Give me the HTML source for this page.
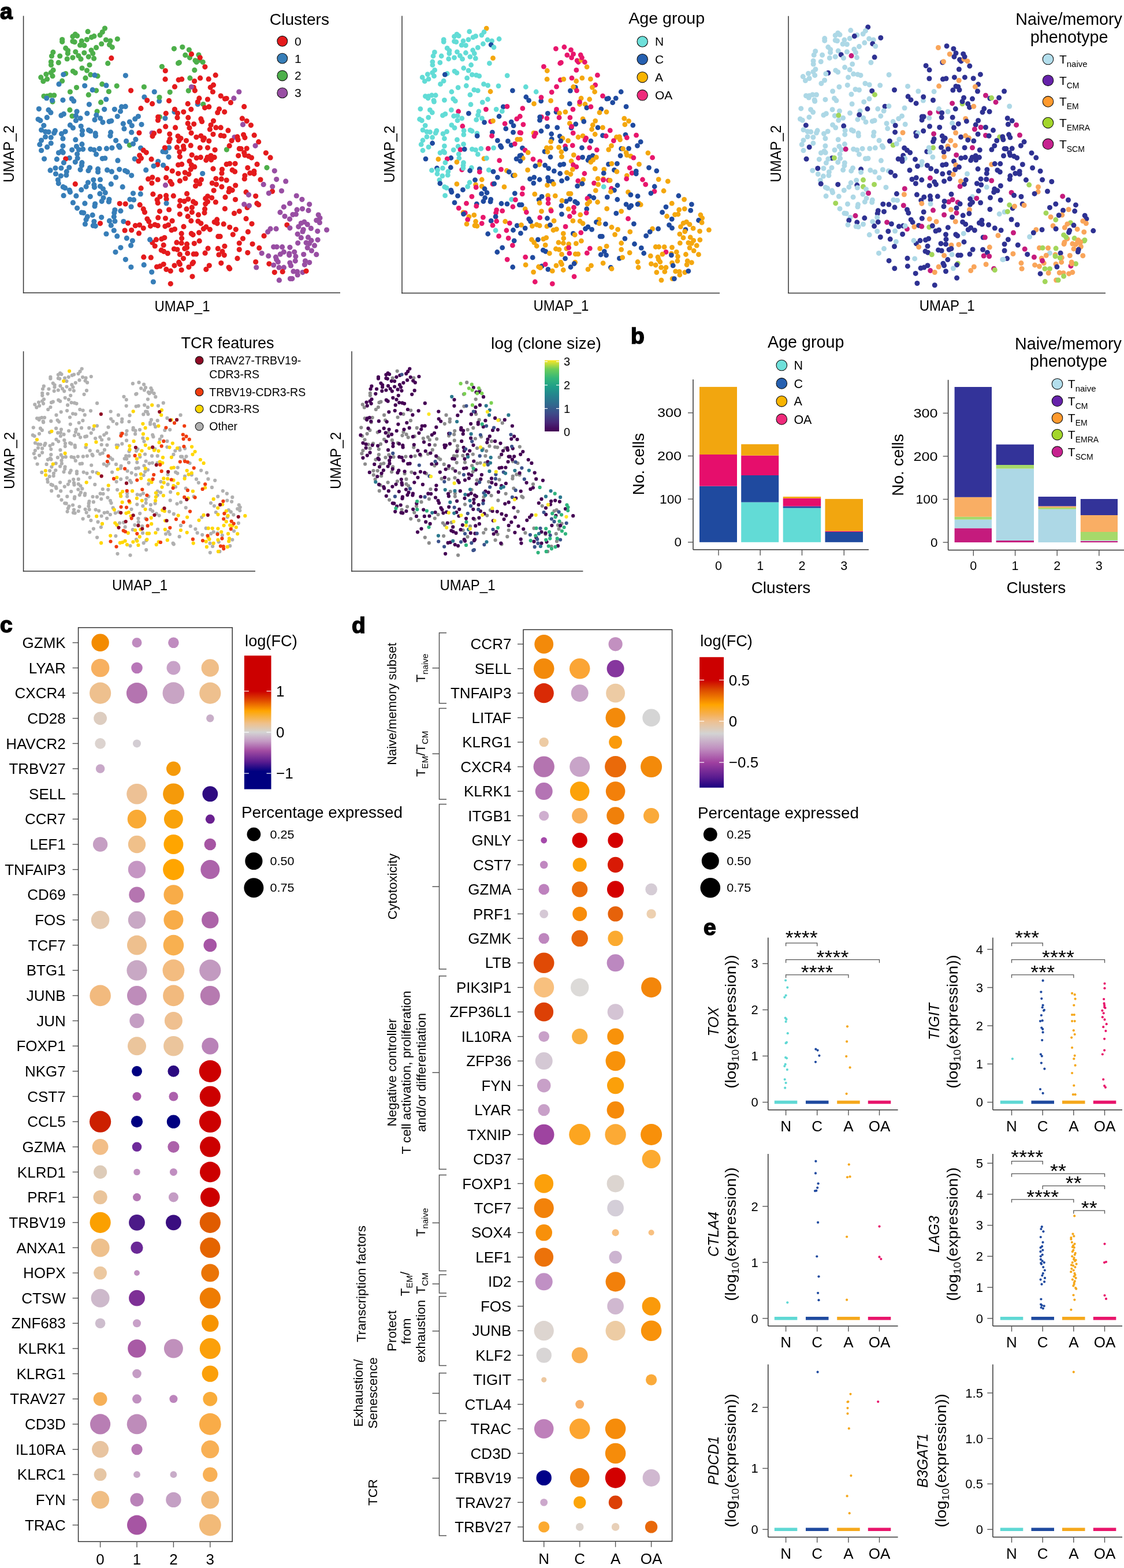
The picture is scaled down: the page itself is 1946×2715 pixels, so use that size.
<!DOCTYPE html><html><head><meta charset="utf-8"><title>Figure</title><style>html,body{margin:0;padding:0;background:#fff;}svg{display:block;}</style></head><body><svg width="1946" height="2715" viewBox="0 0 1946 2715" font-family='"Liberation Sans", Arial, sans-serif' fill="#000"><g fill="#4DAF4A"><circle cx="181.5" cy="49.1" r="4.6"/><circle cx="177.3" cy="55.5" r="4.6"/><circle cx="173.2" cy="60.8" r="4.6"/><circle cx="152.1" cy="54.7" r="4.6"/><circle cx="130.3" cy="59.4" r="4.6"/><circle cx="133.6" cy="62.1" r="4.6"/><circle cx="125.9" cy="63.2" r="4.6"/><circle cx="162.9" cy="62.7" r="4.6"/><circle cx="158.5" cy="64.6" r="4.6"/><circle cx="150.4" cy="68.6" r="4.6"/><circle cx="107.7" cy="68.6" r="4.6"/><circle cx="107.7" cy="72.3" r="4.6"/><circle cx="125.9" cy="71.6" r="4.6"/><circle cx="129.2" cy="72.7" r="4.6"/><circle cx="141.4" cy="71" r="4.6"/><circle cx="138.6" cy="78.2" r="4.6"/><circle cx="145.8" cy="78.7" r="4.6"/><circle cx="183.4" cy="69" r="4.6"/><circle cx="190.9" cy="70.8" r="4.6"/><circle cx="203.3" cy="67.5" r="4.6"/><circle cx="175.7" cy="76" r="4.6"/><circle cx="189.5" cy="77.6" r="4.6"/><circle cx="194.3" cy="81.8" r="4.6"/><circle cx="166.6" cy="82.4" r="4.6"/><circle cx="113.7" cy="83.4" r="4.6"/><circle cx="117.5" cy="87.6" r="4.6"/><circle cx="117.3" cy="92.6" r="4.6"/><circle cx="130.8" cy="89.8" r="4.6"/><circle cx="145.8" cy="91.5" r="4.6"/><circle cx="158" cy="87" r="4.6"/><circle cx="160.7" cy="92.6" r="4.6"/><circle cx="91.9" cy="90.4" r="4.6"/><circle cx="89.5" cy="97" r="4.6"/><circle cx="103.7" cy="97" r="4.6"/><circle cx="116.2" cy="102" r="4.6"/><circle cx="125.9" cy="99.8" r="4.6"/><circle cx="135.8" cy="96.5" r="4.6"/><circle cx="140" cy="102.2" r="4.6"/><circle cx="153.3" cy="98.3" r="4.6"/><circle cx="162.6" cy="101.2" r="4.6"/><circle cx="88.4" cy="107" r="4.6"/><circle cx="88.5" cy="112.5" r="4.6"/><circle cx="101.3" cy="108.4" r="4.6"/><circle cx="186.7" cy="109.7" r="4.6"/><circle cx="155" cy="112.5" r="4.6"/><circle cx="142.1" cy="118" r="4.6"/><circle cx="150.5" cy="122.1" r="4.6"/><circle cx="126.4" cy="123.3" r="4.6"/><circle cx="130.3" cy="126.1" r="4.6"/><circle cx="92.1" cy="121.4" r="4.6"/><circle cx="88.2" cy="125.8" r="4.6"/><circle cx="79.9" cy="128.6" r="4.6"/><circle cx="91" cy="131.7" r="4.6"/><circle cx="70.8" cy="133.9" r="4.6"/><circle cx="81.6" cy="136.9" r="4.6"/><circle cx="74.9" cy="140.7" r="4.6"/><circle cx="113.7" cy="127.5" r="4.6"/><circle cx="156.8" cy="129.4" r="4.6"/><circle cx="169" cy="131.7" r="4.6"/><circle cx="148" cy="135.2" r="4.6"/><circle cx="107.6" cy="140.2" r="4.6"/><circle cx="132.5" cy="151.6" r="4.6"/><circle cx="176.8" cy="145.7" r="4.6"/><circle cx="202.2" cy="148.8" r="4.6"/><circle cx="166.6" cy="156.8" r="4.6"/><circle cx="188.4" cy="158.5" r="4.6"/><circle cx="121.4" cy="159" r="4.6"/></g><g fill="#E41A1C"><circle cx="192.8" cy="100.7" r="4.6"/><circle cx="226.6" cy="156.8" r="4.6"/></g><g fill="#377EB8"><circle cx="109.8" cy="129.1" r="4.6"/><circle cx="164" cy="130.2" r="4.6"/><circle cx="217.4" cy="130.8" r="4.6"/><circle cx="102" cy="145.7" r="4.6"/><circle cx="146.7" cy="148.5" r="4.6"/><circle cx="184" cy="147.9" r="4.6"/><circle cx="160.2" cy="155.7" r="4.6"/></g><g fill="#4DAF4A"><circle cx="76" cy="166.6" r="4.6"/><circle cx="81.6" cy="166.6" r="4.6"/><circle cx="87.1" cy="165" r="4.6"/><circle cx="93.7" cy="165" r="4.6"/><circle cx="153.3" cy="164.2" r="4.6"/><circle cx="91" cy="176.1" r="4.6"/><circle cx="174.6" cy="177.2" r="4.6"/><circle cx="120.9" cy="190.4" r="4.6"/><circle cx="125" cy="201" r="4.6"/><circle cx="168.1" cy="193" r="4.6"/><circle cx="224.4" cy="251.3" r="4.6"/></g><g fill="#377EB8"><circle cx="80.7" cy="170" r="4.6"/><circle cx="90.4" cy="173.8" r="4.6"/><circle cx="108.9" cy="173.3" r="4.6"/><circle cx="124.2" cy="171.1" r="4.6"/><circle cx="127.7" cy="174.9" r="4.6"/><circle cx="154.4" cy="180.8" r="4.6"/><circle cx="183.8" cy="172" r="4.6"/><circle cx="67.4" cy="188.6" r="4.6"/><circle cx="84" cy="190.4" r="4.6"/><circle cx="87.9" cy="194.9" r="4.6"/><circle cx="105.9" cy="199.9" r="4.6"/><circle cx="110.4" cy="197.4" r="4.6"/><circle cx="133" cy="193" r="4.6"/><circle cx="131.4" cy="200.4" r="4.6"/><circle cx="81.3" cy="203.4" r="4.6"/><circle cx="66.1" cy="206.5" r="4.6"/><circle cx="69.9" cy="208.7" r="4.6"/><circle cx="139.1" cy="204.8" r="4.6"/><circle cx="131.4" cy="208.7" r="4.6"/><circle cx="150.8" cy="196.3" r="4.6"/><circle cx="166.8" cy="199.3" r="4.6"/><circle cx="164" cy="207.4" r="4.6"/><circle cx="173.7" cy="204.8" r="4.6"/><circle cx="177.9" cy="211.8" r="4.6"/><circle cx="180.7" cy="189.3" r="4.6"/><circle cx="198.4" cy="189.3" r="4.6"/><circle cx="210.5" cy="184.9" r="4.6"/><circle cx="217.2" cy="184.4" r="4.6"/><circle cx="208.5" cy="192.7" r="4.6"/><circle cx="203.3" cy="201.5" r="4.6"/><circle cx="189" cy="210.4" r="4.6"/><circle cx="192.8" cy="209.3" r="4.6"/><circle cx="233.8" cy="205.9" r="4.6"/><circle cx="213.3" cy="214.2" r="4.6"/><circle cx="224.4" cy="211.1" r="4.6"/><circle cx="228.3" cy="217.6" r="4.6"/><circle cx="215" cy="222.9" r="4.6"/><circle cx="227.7" cy="229.2" r="4.6"/><circle cx="75.8" cy="217.3" r="4.6"/><circle cx="121.4" cy="216.7" r="4.6"/><circle cx="126.4" cy="221.4" r="4.6"/><circle cx="140.2" cy="218.5" r="4.6"/><circle cx="142.5" cy="226.2" r="4.6"/><circle cx="142.2" cy="233.1" r="4.6"/><circle cx="153.5" cy="225.3" r="4.6"/><circle cx="156.6" cy="227" r="4.6"/><circle cx="165.2" cy="230.9" r="4.6"/><circle cx="165.5" cy="235.3" r="4.6"/><circle cx="191.7" cy="229.2" r="4.6"/><circle cx="190.9" cy="235.3" r="4.6"/><circle cx="71.6" cy="225.1" r="4.6"/><circle cx="78.6" cy="228.1" r="4.6"/><circle cx="84.1" cy="228.6" r="4.6"/><circle cx="95.4" cy="226.4" r="4.6"/><circle cx="93.7" cy="230.3" r="4.6"/><circle cx="113.1" cy="227.8" r="4.6"/><circle cx="106.5" cy="231.7" r="4.6"/><circle cx="78.6" cy="236.9" r="4.6"/><circle cx="88.2" cy="238" r="4.6"/><circle cx="108.9" cy="239.9" r="4.6"/><circle cx="130.8" cy="241.9" r="4.6"/><circle cx="71.6" cy="243" r="4.6"/><circle cx="68.8" cy="250.2" r="4.6"/><circle cx="88.2" cy="248" r="4.6"/><circle cx="81.6" cy="254.7" r="4.6"/><circle cx="71.6" cy="260.5" r="4.6"/><circle cx="108.9" cy="252.8" r="4.6"/><circle cx="132.5" cy="253.5" r="4.6"/><circle cx="141.9" cy="249.7" r="4.6"/><circle cx="124.7" cy="259.6" r="4.6"/><circle cx="136.4" cy="259.1" r="4.6"/><circle cx="143.6" cy="258.3" r="4.6"/><circle cx="156.8" cy="258.3" r="4.6"/><circle cx="162.9" cy="259.6" r="4.6"/><circle cx="172.1" cy="257.4" r="4.6"/><circle cx="184.5" cy="257.2" r="4.6"/><circle cx="193.9" cy="256.1" r="4.6"/><circle cx="200.6" cy="243.3" r="4.6"/><circle cx="205.6" cy="252.4" r="4.6"/><circle cx="207.2" cy="255" r="4.6"/><circle cx="218.6" cy="244.4" r="4.6"/><circle cx="230.5" cy="249.1" r="4.6"/><circle cx="234.9" cy="241.4" r="4.6"/><circle cx="101.5" cy="264.6" r="4.6"/><circle cx="109.2" cy="264.1" r="4.6"/><circle cx="107" cy="261.6" r="4.6"/><circle cx="133.6" cy="266.8" r="4.6"/><circle cx="166.6" cy="267.2" r="4.6"/><circle cx="76.6" cy="275.1" r="4.6"/><circle cx="98.4" cy="275.7" r="4.6"/><circle cx="120.3" cy="273.5" r="4.6"/><circle cx="134.2" cy="274" r="4.6"/><circle cx="177.3" cy="274.6" r="4.6"/><circle cx="181.8" cy="274" r="4.6"/><circle cx="203.9" cy="277.9" r="4.6"/><circle cx="233.2" cy="275.1" r="4.6"/></g><g fill="#E41A1C"><circle cx="113.7" cy="275.1" r="4.6"/></g><g fill="#377EB8"><circle cx="110.4" cy="281.7" r="4.6"/><circle cx="130.3" cy="280.6" r="4.6"/><circle cx="141.9" cy="281.7" r="4.6"/><circle cx="141.4" cy="286.6" r="4.6"/><circle cx="139.1" cy="293.8" r="4.6"/><circle cx="87.1" cy="294.9" r="4.6"/><circle cx="96" cy="291.1" r="4.6"/><circle cx="96.5" cy="301" r="4.6"/><circle cx="105.9" cy="291.1" r="4.6"/><circle cx="119.8" cy="290" r="4.6"/><circle cx="115.3" cy="297.2" r="4.6"/><circle cx="114.8" cy="303.2" r="4.6"/><circle cx="105.4" cy="304.6" r="4.6"/><circle cx="100.4" cy="311.6" r="4.6"/><circle cx="101.3" cy="317.6" r="4.6"/><circle cx="109.2" cy="323.7" r="4.6"/><circle cx="112.6" cy="325.4" r="4.6"/><circle cx="120.3" cy="329.3" r="4.6"/><circle cx="121.4" cy="332.6" r="4.6"/><circle cx="155.7" cy="290.5" r="4.6"/><circle cx="153" cy="295.5" r="4.6"/><circle cx="169.6" cy="292.7" r="4.6"/><circle cx="169.6" cy="297.7" r="4.6"/><circle cx="185.6" cy="294.4" r="4.6"/><circle cx="193.4" cy="297.2" r="4.6"/><circle cx="206.7" cy="293.3" r="4.6"/><circle cx="216.6" cy="295.5" r="4.6"/><circle cx="220.5" cy="297.7" r="4.6"/><circle cx="227.7" cy="303.8" r="4.6"/><circle cx="200.6" cy="307.1" r="4.6"/><circle cx="161.8" cy="311.6" r="4.6"/><circle cx="173.5" cy="311" r="4.6"/><circle cx="152.4" cy="316" r="4.6"/><circle cx="149.1" cy="323.2" r="4.6"/><circle cx="162.9" cy="319.9" r="4.6"/><circle cx="163.5" cy="324.3" r="4.6"/><circle cx="173.5" cy="322.6" r="4.6"/><circle cx="178.4" cy="327" r="4.6"/><circle cx="182.3" cy="333.7" r="4.6"/><circle cx="172.9" cy="335.4" r="4.6"/><circle cx="140.8" cy="328.7" r="4.6"/><circle cx="131.9" cy="339.2" r="4.6"/><circle cx="156.3" cy="340.3" r="4.6"/><circle cx="110.1" cy="338.7" r="4.6"/><circle cx="192.3" cy="318.7" r="4.6"/><circle cx="212.2" cy="323.7" r="4.6"/><circle cx="230.5" cy="334.8" r="4.6"/><circle cx="224.9" cy="345.3" r="4.6"/><circle cx="231.6" cy="345.9" r="4.6"/><circle cx="179" cy="342.5" r="4.6"/><circle cx="176.2" cy="348.6" r="4.6"/><circle cx="189" cy="345.3" r="4.6"/><circle cx="188.4" cy="349.2" r="4.6"/><circle cx="126.4" cy="350.9" r="4.6"/><circle cx="146.9" cy="352.2" r="4.6"/><circle cx="164.6" cy="353.1" r="4.6"/><circle cx="164" cy="356.9" r="4.6"/><circle cx="133.6" cy="360.3" r="4.6"/><circle cx="227.1" cy="358" r="4.6"/><circle cx="198.9" cy="363.6" r="4.6"/><circle cx="208.9" cy="365.2" r="4.6"/><circle cx="197.8" cy="368.6" r="4.6"/><circle cx="141.4" cy="368" r="4.6"/><circle cx="144.7" cy="368.6" r="4.6"/><circle cx="160.2" cy="372.4" r="4.6"/><circle cx="151.3" cy="375.2" r="4.6"/><circle cx="149.1" cy="380.2" r="4.6"/><circle cx="147.4" cy="387.9" r="4.6"/><circle cx="175.7" cy="376.3" r="4.6"/><circle cx="197.3" cy="375.2" r="4.6"/><circle cx="198.9" cy="383" r="4.6"/><circle cx="189.5" cy="382.4" r="4.6"/><circle cx="192.3" cy="390.2" r="4.6"/><circle cx="162.9" cy="383.5" r="4.6"/><circle cx="161.3" cy="390.7" r="4.6"/><circle cx="165.2" cy="391.3" r="4.6"/><circle cx="213.9" cy="383.5" r="4.6"/><circle cx="197.3" cy="399" r="4.6"/></g><g fill="#E41A1C"><circle cx="130.3" cy="318.7" r="4.6"/><circle cx="207.2" cy="352.5" r="4.6"/><circle cx="217.2" cy="353.1" r="4.6"/><circle cx="173.5" cy="386.8" r="4.6"/><circle cx="221.6" cy="386.3" r="4.6"/><circle cx="234.3" cy="390.7" r="4.6"/><circle cx="216.1" cy="399" r="4.6"/><circle cx="227.7" cy="398.5" r="4.6"/></g><g fill="#377EB8"><circle cx="184" cy="405" r="4.6"/><circle cx="202.8" cy="408.9" r="4.6"/><circle cx="219.4" cy="412.4" r="4.6"/><circle cx="229.4" cy="416.8" r="4.6"/><circle cx="226.6" cy="424.9" r="4.6"/><circle cx="208.9" cy="428.8" r="4.6"/><circle cx="200" cy="436.5" r="4.6"/><circle cx="217.4" cy="449.3" r="4.6"/><circle cx="226.9" cy="462.5" r="4.6"/></g><g fill="#4DAF4A"><circle cx="301.4" cy="84.3" r="4.6"/><circle cx="315.8" cy="81.5" r="4.6"/><circle cx="327.4" cy="86.3" r="4.6"/><circle cx="320.8" cy="95.4" r="4.6"/><circle cx="328.5" cy="99.8" r="4.6"/><circle cx="344" cy="95.1" r="4.6"/><circle cx="338" cy="104.8" r="4.6"/><circle cx="340.2" cy="107.5" r="4.6"/><circle cx="345.2" cy="104.2" r="4.6"/><circle cx="351.2" cy="107.5" r="4.6"/><circle cx="308.6" cy="109.5" r="4.6"/><circle cx="310.3" cy="108.4" r="4.6"/><circle cx="280.4" cy="115.3" r="4.6"/><circle cx="336.8" cy="121.4" r="4.6"/><circle cx="328.9" cy="135.2" r="4.6"/><circle cx="249.4" cy="150.5" r="4.6"/><circle cx="326.3" cy="157.1" r="4.6"/><circle cx="294.2" cy="159.6" r="4.6"/></g><g fill="#E41A1C"><circle cx="331.5" cy="93.7" r="4.6"/><circle cx="346.3" cy="99.8" r="4.6"/><circle cx="354.9" cy="115.8" r="4.6"/><circle cx="286.3" cy="122.5" r="4.6"/><circle cx="286.1" cy="137.2" r="4.6"/><circle cx="309.2" cy="138.3" r="4.6"/><circle cx="314.7" cy="137.2" r="4.6"/><circle cx="336.6" cy="140.5" r="4.6"/><circle cx="346.6" cy="135.2" r="4.6"/><circle cx="361.2" cy="136.9" r="4.6"/><circle cx="373.2" cy="130.2" r="4.6"/><circle cx="302.5" cy="150.2" r="4.6"/><circle cx="335.2" cy="151.3" r="4.6"/><circle cx="369.5" cy="147.2" r="4.6"/><circle cx="364.3" cy="151.3" r="4.6"/><circle cx="337.4" cy="156.8" r="4.6"/><circle cx="368.4" cy="159" r="4.6"/></g><g fill="#984EA3"><circle cx="331.5" cy="150.5" r="4.6"/><circle cx="413.8" cy="159" r="4.6"/></g><g fill="#377EB8"><circle cx="267.3" cy="159" r="4.6"/><circle cx="249.9" cy="168" r="4.6"/><circle cx="275.7" cy="174.9" r="4.6"/><circle cx="239.4" cy="201.5" r="4.6"/><circle cx="285.9" cy="204.8" r="4.6"/><circle cx="245" cy="215.6" r="4.6"/><circle cx="302" cy="193.8" r="4.6"/><circle cx="342.4" cy="180.5" r="4.6"/><circle cx="243.6" cy="256.3" r="4.6"/><circle cx="292.6" cy="255.8" r="4.6"/><circle cx="282" cy="262.4" r="4.6"/><circle cx="287" cy="263" r="4.6"/><circle cx="292" cy="271.8" r="4.6"/><circle cx="273.7" cy="279.6" r="4.6"/></g><g fill="#4DAF4A"><circle cx="276" cy="168.6" r="4.6"/><circle cx="276.5" cy="202.6" r="4.6"/><circle cx="351.8" cy="180.5" r="4.6"/><circle cx="392.4" cy="259.1" r="4.6"/></g><g fill="#984EA3"><circle cx="404.9" cy="170.2" r="4.6"/><circle cx="263.2" cy="230.3" r="4.6"/><circle cx="406" cy="237.5" r="4.6"/></g><g fill="#E41A1C"><circle cx="254.7" cy="173.8" r="4.6"/><circle cx="263.6" cy="179.7" r="4.6"/><circle cx="243.9" cy="187.7" r="4.6"/><circle cx="292.6" cy="174.4" r="4.6"/><circle cx="344.9" cy="170.2" r="4.6"/><circle cx="342.4" cy="176.6" r="4.6"/><circle cx="325.2" cy="179.7" r="4.6"/><circle cx="359.5" cy="172" r="4.6"/><circle cx="382.2" cy="166.1" r="4.6"/><circle cx="389.4" cy="171.1" r="4.6"/><circle cx="392.2" cy="170.5" r="4.6"/><circle cx="399.4" cy="177.7" r="4.6"/><circle cx="354.6" cy="186.6" r="4.6"/><circle cx="361.8" cy="184.9" r="4.6"/><circle cx="330.8" cy="189.3" r="4.6"/><circle cx="302.5" cy="189.3" r="4.6"/><circle cx="307.5" cy="196" r="4.6"/><circle cx="307" cy="203.7" r="4.6"/><circle cx="317.8" cy="193.8" r="4.6"/><circle cx="287.3" cy="196.3" r="4.6"/><circle cx="273.7" cy="202.6" r="4.6"/><circle cx="273.5" cy="208.2" r="4.6"/><circle cx="325.8" cy="203.7" r="4.6"/><circle cx="379.5" cy="188.8" r="4.6"/><circle cx="376.7" cy="194.9" r="4.6"/><circle cx="388.7" cy="193.8" r="4.6"/><circle cx="347.9" cy="205.9" r="4.6"/><circle cx="349.6" cy="210.4" r="4.6"/><circle cx="369.5" cy="209.3" r="4.6"/><circle cx="365.1" cy="216.5" r="4.6"/><circle cx="363.4" cy="224" r="4.6"/><circle cx="373.9" cy="220.9" r="4.6"/><circle cx="382.2" cy="220.9" r="4.6"/><circle cx="395" cy="225.9" r="4.6"/><circle cx="325.2" cy="213.7" r="4.6"/><circle cx="335.7" cy="214.8" r="4.6"/><circle cx="328" cy="221.4" r="4.6"/><circle cx="331.1" cy="230.3" r="4.6"/><circle cx="303.6" cy="220.9" r="4.6"/><circle cx="286.7" cy="219.2" r="4.6"/><circle cx="240.9" cy="230.1" r="4.6"/><circle cx="266.6" cy="230.9" r="4.6"/><circle cx="264" cy="235.8" r="4.6"/><circle cx="276" cy="227" r="4.6"/><circle cx="293.7" cy="232" r="4.6"/><circle cx="294.2" cy="240.8" r="4.6"/><circle cx="292.6" cy="245.2" r="4.6"/><circle cx="308.1" cy="235.8" r="4.6"/><circle cx="313" cy="239.5" r="4.6"/><circle cx="309.7" cy="244.1" r="4.6"/><circle cx="322.5" cy="243.6" r="4.6"/><circle cx="339.9" cy="237.5" r="4.6"/><circle cx="347.9" cy="235.3" r="4.6"/><circle cx="353.5" cy="239.2" r="4.6"/><circle cx="351.8" cy="242.5" r="4.6"/><circle cx="361.8" cy="244.1" r="4.6"/><circle cx="369" cy="232.5" r="4.6"/><circle cx="382.2" cy="234.7" r="4.6"/><circle cx="387.8" cy="235.5" r="4.6"/><circle cx="401.1" cy="243.6" r="4.6"/><circle cx="411" cy="236.9" r="4.6"/><circle cx="412.1" cy="241.9" r="4.6"/><circle cx="397.2" cy="252.4" r="4.6"/><circle cx="414.3" cy="257.4" r="4.6"/><circle cx="412.7" cy="269.6" r="4.6"/><circle cx="330.2" cy="251.9" r="4.6"/><circle cx="346.3" cy="255.8" r="4.6"/><circle cx="359.5" cy="255.8" r="4.6"/><circle cx="372.1" cy="259.6" r="4.6"/><circle cx="306.4" cy="255.2" r="4.6"/><circle cx="317.5" cy="253" r="4.6"/><circle cx="318.3" cy="258" r="4.6"/><circle cx="310.8" cy="263" r="4.6"/><circle cx="311.4" cy="271.3" r="4.6"/><circle cx="332.2" cy="268.3" r="4.6"/><circle cx="340.2" cy="273.5" r="4.6"/><circle cx="347.4" cy="272.4" r="4.6"/><circle cx="359" cy="272.4" r="4.6"/><circle cx="365.1" cy="269.6" r="4.6"/><circle cx="371.2" cy="272.4" r="4.6"/><circle cx="356.8" cy="277.3" r="4.6"/><circle cx="365.6" cy="276.8" r="4.6"/><circle cx="328" cy="279" r="4.6"/><circle cx="285.4" cy="255.8" r="4.6"/><circle cx="248.3" cy="260.2" r="4.6"/><circle cx="253.3" cy="264.1" r="4.6"/><circle cx="241.6" cy="269" r="4.6"/><circle cx="244.4" cy="274" r="4.6"/><circle cx="262.1" cy="275.7" r="4.6"/><circle cx="240" cy="279" r="4.6"/><circle cx="272.6" cy="285" r="4.6"/><circle cx="308.6" cy="285.5" r="4.6"/><circle cx="314.7" cy="284.4" r="4.6"/><circle cx="331.3" cy="285.5" r="4.6"/><circle cx="336.8" cy="288.9" r="4.6"/><circle cx="330.2" cy="293.3" r="4.6"/><circle cx="288.7" cy="291.6" r="4.6"/><circle cx="298.3" cy="296.1" r="4.6"/><circle cx="308.6" cy="300.5" r="4.6"/><circle cx="320.2" cy="298.8" r="4.6"/><circle cx="326.9" cy="301.6" r="4.6"/><circle cx="369" cy="292.2" r="4.6"/><circle cx="384.5" cy="293.3" r="4.6"/><circle cx="383.9" cy="299.9" r="4.6"/><circle cx="392.2" cy="284.4" r="4.6"/><circle cx="397.7" cy="283.3" r="4.6"/><circle cx="407.1" cy="283.3" r="4.6"/><circle cx="402.2" cy="294.4" r="4.6"/><circle cx="406.6" cy="297.2" r="4.6"/><circle cx="256.6" cy="309.9" r="4.6"/><circle cx="263.8" cy="307.1" r="4.6"/><circle cx="262.9" cy="317.1" r="4.6"/><circle cx="273.2" cy="311" r="4.6"/><circle cx="287.6" cy="307.7" r="4.6"/><circle cx="294.8" cy="314.3" r="4.6"/><circle cx="297.5" cy="318.7" r="4.6"/><circle cx="311.4" cy="313.2" r="4.6"/><circle cx="320.8" cy="309" r="4.6"/><circle cx="339.6" cy="313.2" r="4.6"/><circle cx="348.5" cy="311" r="4.6"/><circle cx="345.7" cy="318.2" r="4.6"/><circle cx="338.5" cy="322.1" r="4.6"/><circle cx="373.9" cy="309.3" r="4.6"/><circle cx="383.3" cy="309.9" r="4.6"/><circle cx="392.2" cy="312.1" r="4.6"/><circle cx="367.3" cy="317.1" r="4.6"/><circle cx="374.5" cy="319.3" r="4.6"/><circle cx="383.9" cy="323.4" r="4.6"/><circle cx="407.7" cy="321" r="4.6"/><circle cx="370.1" cy="329.8" r="4.6"/><circle cx="397.2" cy="326.5" r="4.6"/><circle cx="402.2" cy="329.3" r="4.6"/><circle cx="396.1" cy="332" r="4.6"/><circle cx="244.1" cy="325.9" r="4.6"/><circle cx="264.9" cy="336.2" r="4.6"/><circle cx="277.1" cy="340.3" r="4.6"/><circle cx="272.1" cy="345.9" r="4.6"/><circle cx="273.2" cy="351.4" r="4.6"/><circle cx="287.6" cy="338.7" r="4.6"/><circle cx="288.1" cy="344.8" r="4.6"/><circle cx="300.3" cy="339.2" r="4.6"/><circle cx="323.6" cy="335.4" r="4.6"/><circle cx="325.8" cy="344.8" r="4.6"/><circle cx="319.1" cy="348.6" r="4.6"/><circle cx="311.9" cy="347.5" r="4.6"/><circle cx="310.8" cy="356.4" r="4.6"/><circle cx="334.6" cy="349.2" r="4.6"/><circle cx="338.5" cy="352" r="4.6"/><circle cx="332.4" cy="359.2" r="4.6"/><circle cx="359.5" cy="339.8" r="4.6"/><circle cx="355.7" cy="343.7" r="4.6"/><circle cx="366.7" cy="342.5" r="4.6"/><circle cx="359.5" cy="349.2" r="4.6"/><circle cx="355.7" cy="353.1" r="4.6"/><circle cx="373.4" cy="350" r="4.6"/><circle cx="390" cy="341.4" r="4.6"/><circle cx="407.5" cy="345.5" r="4.6"/><circle cx="242.2" cy="354.7" r="4.6"/><circle cx="248.3" cy="361.9" r="4.6"/><circle cx="250.5" cy="367.5" r="4.6"/><circle cx="276.5" cy="365.8" r="4.6"/><circle cx="292.6" cy="363" r="4.6"/><circle cx="323" cy="361.9" r="4.6"/><circle cx="332.4" cy="367.5" r="4.6"/><circle cx="354.6" cy="361.9" r="4.6"/><circle cx="354" cy="368.6" r="4.6"/><circle cx="311.4" cy="370.8" r="4.6"/><circle cx="343.5" cy="371.9" r="4.6"/><circle cx="325.2" cy="374.7" r="4.6"/><circle cx="389.4" cy="361.4" r="4.6"/><circle cx="405.5" cy="369.4" r="4.6"/><circle cx="414.3" cy="365.8" r="4.6"/><circle cx="254.9" cy="379.1" r="4.6"/><circle cx="257.7" cy="383.5" r="4.6"/><circle cx="273.7" cy="376.9" r="4.6"/><circle cx="286.5" cy="378" r="4.6"/><circle cx="298.1" cy="382.4" r="4.6"/><circle cx="330.8" cy="382.4" r="4.6"/><circle cx="342.9" cy="383" r="4.6"/><circle cx="347.9" cy="386.8" r="4.6"/><circle cx="375.6" cy="380.2" r="4.6"/><circle cx="371.2" cy="384.6" r="4.6"/><circle cx="376.1" cy="386.8" r="4.6"/><circle cx="387.2" cy="387.9" r="4.6"/><circle cx="241.6" cy="389.6" r="4.6"/><circle cx="248.3" cy="395.1" r="4.6"/><circle cx="260.5" cy="391.3" r="4.6"/><circle cx="268.2" cy="389" r="4.6"/><circle cx="273.2" cy="390.7" r="4.6"/><circle cx="285.9" cy="391.8" r="4.6"/><circle cx="291.5" cy="389.6" r="4.6"/><circle cx="318" cy="392.4" r="4.6"/><circle cx="356.8" cy="392.9" r="4.6"/><circle cx="352.3" cy="396.2" r="4.6"/><circle cx="363.4" cy="397.3" r="4.6"/><circle cx="397.7" cy="393.5" r="4.6"/><circle cx="408.3" cy="397.3" r="4.6"/><circle cx="302.5" cy="396.8" r="4.6"/><circle cx="297" cy="398.5" r="4.6"/></g><g fill="#377EB8"><circle cx="266" cy="287.5" r="4.6"/><circle cx="282.6" cy="286.1" r="4.6"/><circle cx="252.7" cy="294.4" r="4.6"/><circle cx="350.7" cy="300.5" r="4.6"/><circle cx="243.3" cy="335.9" r="4.6"/><circle cx="288.1" cy="352" r="4.6"/></g><g fill="#984EA3"><circle cx="286.5" cy="320.7" r="4.6"/></g><g fill="#E41A1C"><circle cx="240.5" cy="403.9" r="4.6"/><circle cx="314.2" cy="404.4" r="4.6"/><circle cx="331.3" cy="404.4" r="4.6"/><circle cx="334.1" cy="406.6" r="4.6"/><circle cx="344.6" cy="402.8" r="4.6"/><circle cx="403.3" cy="406.1" r="4.6"/><circle cx="377.8" cy="409.4" r="4.6"/><circle cx="381.1" cy="409.4" r="4.6"/><circle cx="270.4" cy="414.9" r="4.6"/><circle cx="263.8" cy="419.9" r="4.6"/><circle cx="268.2" cy="426" r="4.6"/><circle cx="279.8" cy="413.8" r="4.6"/><circle cx="284.8" cy="411.6" r="4.6"/><circle cx="283.2" cy="424.4" r="4.6"/><circle cx="314.7" cy="412.7" r="4.6"/><circle cx="305.9" cy="419.9" r="4.6"/><circle cx="314.2" cy="421" r="4.6"/><circle cx="323.6" cy="422.7" r="4.6"/><circle cx="336.3" cy="421.6" r="4.6"/><circle cx="345.2" cy="417.2" r="4.6"/><circle cx="414.3" cy="421" r="4.6"/><circle cx="388.9" cy="426.3" r="4.6"/><circle cx="360.1" cy="430.1" r="4.6"/><circle cx="377.3" cy="430.4" r="4.6"/><circle cx="414.3" cy="432.1" r="4.6"/><circle cx="279.3" cy="433.2" r="4.6"/><circle cx="283.7" cy="435.4" r="4.6"/><circle cx="290.4" cy="438.7" r="4.6"/><circle cx="301.4" cy="431" r="4.6"/><circle cx="307" cy="432.1" r="4.6"/><circle cx="311.4" cy="440.4" r="4.6"/><circle cx="319.7" cy="430.4" r="4.6"/><circle cx="323.6" cy="428.8" r="4.6"/><circle cx="324.7" cy="438.7" r="4.6"/><circle cx="335.2" cy="439.9" r="4.6"/><circle cx="339.6" cy="439.9" r="4.6"/><circle cx="355.1" cy="438.2" r="4.6"/><circle cx="378.9" cy="441" r="4.6"/><circle cx="385" cy="435.4" r="4.6"/><circle cx="388.3" cy="441.8" r="4.6"/><circle cx="411" cy="447.4" r="4.6"/><circle cx="248.8" cy="445.2" r="4.6"/><circle cx="261.3" cy="445.9" r="4.6"/><circle cx="317.5" cy="447.6" r="4.6"/><circle cx="309.7" cy="454.2" r="4.6"/><circle cx="311.4" cy="457.6" r="4.6"/><circle cx="302" cy="459.8" r="4.6"/><circle cx="334.6" cy="454.2" r="4.6"/><circle cx="333" cy="456.5" r="4.6"/><circle cx="326.9" cy="462.5" r="4.6"/><circle cx="362.3" cy="459.8" r="4.6"/><circle cx="356.8" cy="466.4" r="4.6"/><circle cx="382.8" cy="455.6" r="4.6"/><circle cx="396.1" cy="463.1" r="4.6"/><circle cx="397.7" cy="465.3" r="4.6"/><circle cx="271.5" cy="462" r="4.6"/><circle cx="277.1" cy="460.9" r="4.6"/><circle cx="283.2" cy="457.6" r="4.6"/><circle cx="287.9" cy="466.4" r="4.6"/><circle cx="295.3" cy="469.2" r="4.6"/><circle cx="314.2" cy="467.5" r="4.6"/><circle cx="333" cy="478.8" r="4.6"/><circle cx="295.3" cy="491.3" r="4.6"/></g><g fill="#377EB8"><circle cx="259.6" cy="414.9" r="4.6"/><circle cx="249.2" cy="458.7" r="4.6"/><circle cx="262.7" cy="471.1" r="4.6"/><circle cx="265.4" cy="488" r="4.6"/></g><g fill="#E41A1C"><circle cx="422.7" cy="184.7" r="4.6"/><circle cx="419.4" cy="205.2" r="4.6"/><circle cx="427.2" cy="209.6" r="4.6"/><circle cx="434.4" cy="216.8" r="4.6"/></g><g fill="#984EA3"><circle cx="420.5" cy="215.7" r="4.6"/></g><g fill="#E41A1C"><circle cx="421.6" cy="233.3" r="4.6"/><circle cx="423.9" cy="238.3" r="4.6"/><circle cx="440.2" cy="234.2" r="4.6"/><circle cx="447.7" cy="245.7" r="4.6"/><circle cx="417.2" cy="257.6" r="4.6"/><circle cx="427.2" cy="257.1" r="4.6"/><circle cx="422.7" cy="264.3" r="4.6"/><circle cx="423.9" cy="268.7" r="4.6"/><circle cx="430.5" cy="270.4" r="4.6"/><circle cx="435.5" cy="273.1" r="4.6"/><circle cx="460.4" cy="264.8" r="4.6"/><circle cx="468.1" cy="272.9" r="4.6"/><circle cx="445.1" cy="284.4" r="4.6"/><circle cx="428.8" cy="290.6" r="4.6"/><circle cx="432.7" cy="299.7" r="4.6"/><circle cx="439.9" cy="296.4" r="4.6"/><circle cx="439.9" cy="300.8" r="4.6"/><circle cx="423.9" cy="304.1" r="4.6"/><circle cx="423.3" cy="309.7" r="4.6"/><circle cx="451" cy="311" r="4.6"/><circle cx="471.5" cy="331.3" r="4.6"/><circle cx="426.1" cy="332.7" r="4.6"/><circle cx="442.7" cy="339.6" r="4.6"/></g><g fill="#984EA3"><circle cx="442.1" cy="252.3" r="4.6"/><circle cx="475.3" cy="295.8" r="4.6"/><circle cx="478.7" cy="310.6" r="4.6"/><circle cx="494.7" cy="313.9" r="4.6"/><circle cx="456.2" cy="319.4" r="4.6"/><circle cx="471.7" cy="323" r="4.6"/><circle cx="487.5" cy="330.5" r="4.6"/><circle cx="465.4" cy="334.6" r="4.6"/><circle cx="430.5" cy="337.3" r="4.6"/><circle cx="513.3" cy="339" r="4.6"/></g><g fill="#4DAF4A"><circle cx="462" cy="290.3" r="4.6"/></g><g fill="#E41A1C"><circle cx="444.9" cy="352.2" r="4.6"/><circle cx="447.7" cy="354.4" r="4.6"/><circle cx="428.1" cy="359.4" r="4.6"/><circle cx="426.1" cy="378.7" r="4.6"/><circle cx="436" cy="387.6" r="4.6"/><circle cx="429.4" cy="401.4" r="4.6"/><circle cx="457.1" cy="408.4" r="4.6"/><circle cx="420.5" cy="413.1" r="4.6"/><circle cx="437.1" cy="422.5" r="4.6"/><circle cx="448.8" cy="429.4" r="4.6"/><circle cx="428.8" cy="437.6" r="4.6"/><circle cx="442.7" cy="453.5" r="4.6"/><circle cx="465.9" cy="456.8" r="4.6"/><circle cx="496.9" cy="389.6" r="4.6"/></g><g fill="#984EA3"><circle cx="422.7" cy="353.8" r="4.6"/><circle cx="431.4" cy="356.1" r="4.6"/><circle cx="522.9" cy="345.3" r="4.6"/><circle cx="501.6" cy="352.2" r="4.6"/><circle cx="491.4" cy="358.3" r="4.6"/><circle cx="485" cy="367.7" r="4.6"/><circle cx="493" cy="374.5" r="4.6"/><circle cx="501.6" cy="379.3" r="4.6"/><circle cx="514.1" cy="363.2" r="4.6"/><circle cx="512.4" cy="371" r="4.6"/><circle cx="506.9" cy="371.6" r="4.6"/><circle cx="523.5" cy="361.6" r="4.6"/><circle cx="534" cy="364.4" r="4.6"/><circle cx="535.7" cy="353.8" r="4.6"/><circle cx="551.2" cy="372.1" r="4.6"/><circle cx="553.9" cy="377.6" r="4.6"/><circle cx="547.8" cy="381.5" r="4.6"/><circle cx="553.4" cy="385.4" r="4.6"/><circle cx="565.6" cy="398.1" r="4.6"/><circle cx="549.8" cy="400.3" r="4.6"/><circle cx="538.4" cy="395.4" r="4.6"/><circle cx="526.8" cy="384.3" r="4.6"/><circle cx="532.3" cy="388.7" r="4.6"/><circle cx="521.3" cy="386.5" r="4.6"/><circle cx="516.8" cy="392.6" r="4.6"/><circle cx="525.2" cy="397.6" r="4.6"/><circle cx="524" cy="400.9" r="4.6"/><circle cx="501.9" cy="394.8" r="4.6"/><circle cx="478.1" cy="396.2" r="4.6"/><circle cx="468.1" cy="396.2" r="4.6"/><circle cx="463.7" cy="401.4" r="4.6"/><circle cx="515.2" cy="405.3" r="4.6"/><circle cx="521.3" cy="411.7" r="4.6"/><circle cx="515.7" cy="420.8" r="4.6"/><circle cx="533.5" cy="410.9" r="4.6"/><circle cx="539" cy="416.4" r="4.6"/><circle cx="530.1" cy="420.3" r="4.6"/><circle cx="535.7" cy="421.4" r="4.6"/><circle cx="544.5" cy="425.2" r="4.6"/><circle cx="532.3" cy="429.1" r="4.6"/><circle cx="539.5" cy="434.1" r="4.6"/><circle cx="550.1" cy="415.3" r="4.6"/><circle cx="525.7" cy="440.5" r="4.6"/><circle cx="547.8" cy="440.7" r="4.6"/><circle cx="453.2" cy="438.5" r="4.6"/><circle cx="464.8" cy="443.2" r="4.6"/><circle cx="473.7" cy="427.5" r="4.6"/><circle cx="479.2" cy="427.5" r="4.6"/><circle cx="488.6" cy="427.7" r="4.6"/><circle cx="501.9" cy="428.3" r="4.6"/><circle cx="491.4" cy="436.3" r="4.6"/><circle cx="485.3" cy="440.2" r="4.6"/><circle cx="500.8" cy="439.1" r="4.6"/><circle cx="500.8" cy="441.8" r="4.6"/><circle cx="509.7" cy="436.3" r="4.6"/><circle cx="511.9" cy="444.1" r="4.6"/><circle cx="511.3" cy="451.8" r="4.6"/><circle cx="477.5" cy="445.2" r="4.6"/><circle cx="481.4" cy="453.5" r="4.6"/><circle cx="501.9" cy="455.1" r="4.6"/><circle cx="528.5" cy="451.8" r="4.6"/><circle cx="535.7" cy="454.6" r="4.6"/><circle cx="473.7" cy="459" r="4.6"/><circle cx="478.7" cy="449.4" r="4.6"/><circle cx="503.6" cy="459.9" r="4.6"/><circle cx="527.4" cy="458.3" r="4.6"/><circle cx="483.1" cy="463.2" r="4.6"/><circle cx="491.4" cy="463.2" r="4.6"/><circle cx="443.8" cy="463" r="4.6"/><circle cx="508" cy="469.9" r="4.6"/><circle cx="514.6" cy="470.4" r="4.6"/><circle cx="515.2" cy="476" r="4.6"/><circle cx="524" cy="471.6" r="4.6"/><circle cx="502.5" cy="482.6" r="4.6"/><circle cx="505.8" cy="482.6" r="4.6"/><circle cx="483.4" cy="485.2" r="4.6"/></g><g fill="#E41A1C"><circle cx="475.3" cy="471.6" r="4.6"/><circle cx="489.2" cy="470.4" r="4.6"/><circle cx="530.1" cy="469.3" r="4.6"/></g><g fill="#F4A70E"><circle cx="842.2" cy="49.1" r="4.4"/></g><g fill="#62DCD6"><circle cx="838" cy="55.5" r="4.4"/><circle cx="833.9" cy="60.8" r="4.4"/><circle cx="812.7" cy="54.7" r="4.4"/><circle cx="790.9" cy="59.4" r="4.4"/><circle cx="794.2" cy="62.1" r="4.4"/><circle cx="786.5" cy="63.2" r="4.4"/><circle cx="823.6" cy="62.7" r="4.4"/><circle cx="819.1" cy="64.6" r="4.4"/><circle cx="811" cy="68.6" r="4.4"/><circle cx="768.2" cy="68.6" r="4.4"/><circle cx="768.2" cy="72.3" r="4.4"/><circle cx="786.5" cy="71.6" r="4.4"/><circle cx="789.8" cy="72.7" r="4.4"/><circle cx="802" cy="71" r="4.4"/><circle cx="799.2" cy="78.2" r="4.4"/><circle cx="806.4" cy="78.7" r="4.4"/><circle cx="844.1" cy="69" r="4.4"/><circle cx="851.6" cy="70.8" r="4.4"/><circle cx="864.1" cy="67.5" r="4.4"/><circle cx="836.4" cy="76" r="4.4"/></g><g fill="#1F4A9F"><circle cx="850.2" cy="77.6" r="4.4"/></g><g fill="#62DCD6"><circle cx="855" cy="81.8" r="4.4"/><circle cx="827.3" cy="82.4" r="4.4"/><circle cx="774.2" cy="83.4" r="4.4"/><circle cx="778" cy="87.6" r="4.4"/><circle cx="777.8" cy="92.6" r="4.4"/><circle cx="791.4" cy="89.8" r="4.4"/><circle cx="806.4" cy="91.5" r="4.4"/><circle cx="818.6" cy="87" r="4.4"/><circle cx="821.3" cy="92.6" r="4.4"/><circle cx="752.4" cy="90.4" r="4.4"/><circle cx="750" cy="97" r="4.4"/><circle cx="764.2" cy="97" r="4.4"/><circle cx="776.7" cy="102" r="4.4"/><circle cx="786.5" cy="99.8" r="4.4"/><circle cx="796.4" cy="96.5" r="4.4"/><circle cx="800.6" cy="102.2" r="4.4"/><circle cx="813.9" cy="98.3" r="4.4"/><circle cx="823.3" cy="101.2" r="4.4"/><circle cx="748.8" cy="107" r="4.4"/><circle cx="748.9" cy="112.5" r="4.4"/><circle cx="761.8" cy="108.4" r="4.4"/><circle cx="847.4" cy="109.7" r="4.4"/><circle cx="815.6" cy="112.5" r="4.4"/><circle cx="802.7" cy="118" r="4.4"/><circle cx="811.1" cy="122.1" r="4.4"/><circle cx="787" cy="123.3" r="4.4"/><circle cx="790.9" cy="126.1" r="4.4"/><circle cx="752.6" cy="121.4" r="4.4"/><circle cx="748.6" cy="125.8" r="4.4"/><circle cx="740.3" cy="128.6" r="4.4"/><circle cx="751.5" cy="131.7" r="4.4"/><circle cx="731.2" cy="133.9" r="4.4"/><circle cx="742" cy="136.9" r="4.4"/><circle cx="735.3" cy="140.7" r="4.4"/><circle cx="774.2" cy="127.5" r="4.4"/><circle cx="817.4" cy="129.4" r="4.4"/><circle cx="829.7" cy="131.7" r="4.4"/><circle cx="808.6" cy="135.2" r="4.4"/><circle cx="768.1" cy="140.2" r="4.4"/><circle cx="793.1" cy="151.6" r="4.4"/><circle cx="837.5" cy="145.7" r="4.4"/><circle cx="863" cy="148.8" r="4.4"/><circle cx="827.3" cy="156.8" r="4.4"/></g><g fill="#F4A70E"><circle cx="849.1" cy="158.5" r="4.4"/></g><g fill="#62DCD6"><circle cx="781.9" cy="159" r="4.4"/></g><g fill="#F4A70E"><circle cx="853.5" cy="100.7" r="4.4"/></g><g fill="#1F4A9F"><circle cx="887.4" cy="156.8" r="4.4"/><circle cx="770.3" cy="129.1" r="4.4"/></g><g fill="#62DCD6"><circle cx="824.7" cy="130.2" r="4.4"/><circle cx="878.2" cy="130.8" r="4.4"/><circle cx="762.5" cy="145.7" r="4.4"/><circle cx="807.3" cy="148.5" r="4.4"/><circle cx="844.7" cy="147.9" r="4.4"/><circle cx="820.8" cy="155.7" r="4.4"/><circle cx="736.4" cy="166.6" r="4.4"/><circle cx="742" cy="166.6" r="4.4"/><circle cx="747.5" cy="165" r="4.4"/><circle cx="754.2" cy="165" r="4.4"/><circle cx="813.9" cy="164.2" r="4.4"/><circle cx="751.5" cy="176.1" r="4.4"/><circle cx="835.3" cy="177.2" r="4.4"/><circle cx="781.4" cy="190.4" r="4.4"/><circle cx="785.6" cy="201" r="4.4"/><circle cx="828.8" cy="193" r="4.4"/></g><g fill="#1F4A9F"><circle cx="885.2" cy="251.3" r="4.4"/></g><g fill="#62DCD6"><circle cx="741.1" cy="170" r="4.4"/><circle cx="750.9" cy="173.8" r="4.4"/><circle cx="769.4" cy="173.3" r="4.4"/><circle cx="784.7" cy="171.1" r="4.4"/><circle cx="788.3" cy="174.9" r="4.4"/><circle cx="815" cy="180.8" r="4.4"/><circle cx="844.5" cy="172" r="4.4"/><circle cx="727.8" cy="188.6" r="4.4"/><circle cx="744.4" cy="190.4" r="4.4"/><circle cx="748.3" cy="194.9" r="4.4"/><circle cx="766.4" cy="199.9" r="4.4"/><circle cx="770.9" cy="197.4" r="4.4"/></g><g fill="#E8166C"><circle cx="793.6" cy="193" r="4.4"/></g><g fill="#62DCD6"><circle cx="792" cy="200.4" r="4.4"/><circle cx="741.7" cy="203.4" r="4.4"/><circle cx="726.5" cy="206.5" r="4.4"/><circle cx="730.3" cy="208.7" r="4.4"/><circle cx="799.7" cy="204.8" r="4.4"/><circle cx="792" cy="208.7" r="4.4"/></g><g fill="#1F4A9F"><circle cx="811.4" cy="196.3" r="4.4"/></g><g fill="#62DCD6"><circle cx="827.5" cy="199.3" r="4.4"/><circle cx="824.7" cy="207.4" r="4.4"/><circle cx="834.4" cy="204.8" r="4.4"/></g><g fill="#1F4A9F"><circle cx="838.6" cy="211.8" r="4.4"/></g><g fill="#E8166C"><circle cx="841.4" cy="189.3" r="4.4"/></g><g fill="#62DCD6"><circle cx="859.2" cy="189.3" r="4.4"/></g><g fill="#1F4A9F"><circle cx="871.3" cy="184.9" r="4.4"/></g><g fill="#E8166C"><circle cx="878" cy="184.4" r="4.4"/></g><g fill="#62DCD6"><circle cx="869.3" cy="192.7" r="4.4"/></g><g fill="#1F4A9F"><circle cx="864.1" cy="201.5" r="4.4"/></g><g fill="#E8166C"><circle cx="849.7" cy="210.4" r="4.4"/></g><g fill="#F4A70E"><circle cx="853.5" cy="209.3" r="4.4"/></g><g fill="#E8166C"><circle cx="894.7" cy="205.9" r="4.4"/><circle cx="874.1" cy="214.2" r="4.4"/></g><g fill="#1F4A9F"><circle cx="885.2" cy="211.1" r="4.4"/><circle cx="889.1" cy="217.6" r="4.4"/><circle cx="875.8" cy="222.9" r="4.4"/><circle cx="888.5" cy="229.2" r="4.4"/></g><g fill="#62DCD6"><circle cx="736.2" cy="217.3" r="4.4"/><circle cx="781.9" cy="216.7" r="4.4"/><circle cx="787" cy="221.4" r="4.4"/></g><g fill="#E8166C"><circle cx="800.8" cy="218.5" r="4.4"/></g><g fill="#62DCD6"><circle cx="803.1" cy="226.2" r="4.4"/><circle cx="802.8" cy="233.1" r="4.4"/><circle cx="814.1" cy="225.3" r="4.4"/><circle cx="817.2" cy="227" r="4.4"/><circle cx="825.9" cy="230.9" r="4.4"/></g><g fill="#1F4A9F"><circle cx="826.2" cy="235.3" r="4.4"/><circle cx="852.4" cy="229.2" r="4.4"/></g><g fill="#E8166C"><circle cx="851.6" cy="235.3" r="4.4"/></g><g fill="#62DCD6"><circle cx="732" cy="225.1" r="4.4"/><circle cx="739" cy="228.1" r="4.4"/><circle cx="744.5" cy="228.6" r="4.4"/><circle cx="755.9" cy="226.4" r="4.4"/><circle cx="754.2" cy="230.3" r="4.4"/><circle cx="773.6" cy="227.8" r="4.4"/><circle cx="767" cy="231.7" r="4.4"/><circle cx="739" cy="236.9" r="4.4"/><circle cx="748.6" cy="238" r="4.4"/><circle cx="769.4" cy="239.9" r="4.4"/><circle cx="791.4" cy="241.9" r="4.4"/><circle cx="732" cy="243" r="4.4"/><circle cx="729.2" cy="250.2" r="4.4"/></g><g fill="#1F4A9F"><circle cx="748.6" cy="248" r="4.4"/></g><g fill="#62DCD6"><circle cx="742" cy="254.7" r="4.4"/><circle cx="732" cy="260.5" r="4.4"/><circle cx="769.4" cy="252.8" r="4.4"/><circle cx="793.1" cy="253.5" r="4.4"/><circle cx="802.5" cy="249.7" r="4.4"/><circle cx="785.2" cy="259.6" r="4.4"/></g><g fill="#E8166C"><circle cx="797" cy="259.1" r="4.4"/></g><g fill="#1F4A9F"><circle cx="804.2" cy="258.3" r="4.4"/></g><g fill="#62DCD6"><circle cx="817.4" cy="258.3" r="4.4"/><circle cx="823.6" cy="259.6" r="4.4"/><circle cx="832.8" cy="257.4" r="4.4"/></g><g fill="#E8166C"><circle cx="845.2" cy="257.2" r="4.4"/></g><g fill="#62DCD6"><circle cx="854.6" cy="256.1" r="4.4"/></g><g fill="#1F4A9F"><circle cx="861.4" cy="243.3" r="4.4"/><circle cx="866.4" cy="252.4" r="4.4"/><circle cx="868" cy="255" r="4.4"/><circle cx="879.4" cy="244.4" r="4.4"/></g><g fill="#E8166C"><circle cx="891.3" cy="249.1" r="4.4"/></g><g fill="#F4A70E"><circle cx="895.8" cy="241.4" r="4.4"/></g><g fill="#62DCD6"><circle cx="762" cy="264.6" r="4.4"/><circle cx="769.7" cy="264.1" r="4.4"/><circle cx="767.5" cy="261.6" r="4.4"/><circle cx="794.2" cy="266.8" r="4.4"/><circle cx="827.3" cy="267.2" r="4.4"/></g><g fill="#1F4A9F"><circle cx="737" cy="275.1" r="4.4"/></g><g fill="#F4A70E"><circle cx="758.9" cy="275.7" r="4.4"/></g><g fill="#1F4A9F"><circle cx="780.8" cy="273.5" r="4.4"/></g><g fill="#62DCD6"><circle cx="794.8" cy="274" r="4.4"/></g><g fill="#F4A70E"><circle cx="838" cy="274.6" r="4.4"/></g><g fill="#62DCD6"><circle cx="842.5" cy="274" r="4.4"/></g><g fill="#E8166C"><circle cx="864.7" cy="277.9" r="4.4"/></g><g fill="#1F4A9F"><circle cx="894.1" cy="275.1" r="4.4"/></g><g fill="#E8166C"><circle cx="774.2" cy="275.1" r="4.4"/></g><g fill="#62DCD6"><circle cx="770.9" cy="281.7" r="4.4"/></g><g fill="#F4A70E"><circle cx="790.9" cy="280.6" r="4.4"/></g><g fill="#62DCD6"><circle cx="802.5" cy="281.7" r="4.4"/><circle cx="802" cy="286.6" r="4.4"/></g><g fill="#E8166C"><circle cx="799.7" cy="293.8" r="4.4"/></g><g fill="#62DCD6"><circle cx="747.5" cy="294.9" r="4.4"/></g><g fill="#1F4A9F"><circle cx="756.5" cy="291.1" r="4.4"/></g><g fill="#62DCD6"><circle cx="757" cy="301" r="4.4"/><circle cx="766.4" cy="291.1" r="4.4"/></g><g fill="#1F4A9F"><circle cx="780.3" cy="290" r="4.4"/></g><g fill="#62DCD6"><circle cx="775.8" cy="297.2" r="4.4"/><circle cx="775.3" cy="303.2" r="4.4"/><circle cx="765.9" cy="304.6" r="4.4"/><circle cx="760.9" cy="311.6" r="4.4"/></g><g fill="#1F4A9F"><circle cx="761.8" cy="317.6" r="4.4"/></g><g fill="#62DCD6"><circle cx="769.7" cy="323.7" r="4.4"/><circle cx="773.1" cy="325.4" r="4.4"/></g><g fill="#1F4A9F"><circle cx="780.8" cy="329.3" r="4.4"/><circle cx="781.9" cy="332.6" r="4.4"/></g><g fill="#62DCD6"><circle cx="816.3" cy="290.5" r="4.4"/></g><g fill="#1F4A9F"><circle cx="813.6" cy="295.5" r="4.4"/><circle cx="830.3" cy="292.7" r="4.4"/></g><g fill="#E8166C"><circle cx="830.3" cy="297.7" r="4.4"/></g><g fill="#62DCD6"><circle cx="846.3" cy="294.4" r="4.4"/></g><g fill="#1F4A9F"><circle cx="854.1" cy="297.2" r="4.4"/></g><g fill="#E8166C"><circle cx="867.5" cy="293.3" r="4.4"/></g><g fill="#F4A70E"><circle cx="877.4" cy="295.5" r="4.4"/></g><g fill="#1F4A9F"><circle cx="881.3" cy="297.7" r="4.4"/><circle cx="888.5" cy="303.8" r="4.4"/><circle cx="861.4" cy="307.1" r="4.4"/><circle cx="822.5" cy="311.6" r="4.4"/></g><g fill="#F4A70E"><circle cx="834.2" cy="311" r="4.4"/></g><g fill="#62DCD6"><circle cx="813" cy="316" r="4.4"/><circle cx="809.7" cy="323.2" r="4.4"/></g><g fill="#F4A70E"><circle cx="823.6" cy="319.9" r="4.4"/></g><g fill="#E8166C"><circle cx="824.2" cy="324.3" r="4.4"/></g><g fill="#F4A70E"><circle cx="834.2" cy="322.6" r="4.4"/></g><g fill="#1F4A9F"><circle cx="839.1" cy="327" r="4.4"/><circle cx="843" cy="333.7" r="4.4"/><circle cx="833.6" cy="335.4" r="4.4"/><circle cx="801.4" cy="328.7" r="4.4"/><circle cx="792.5" cy="339.2" r="4.4"/></g><g fill="#E8166C"><circle cx="816.9" cy="340.3" r="4.4"/></g><g fill="#62DCD6"><circle cx="770.6" cy="338.7" r="4.4"/></g><g fill="#E8166C"><circle cx="853" cy="318.7" r="4.4"/></g><g fill="#F4A70E"><circle cx="873" cy="323.7" r="4.4"/></g><g fill="#1F4A9F"><circle cx="891.3" cy="334.8" r="4.4"/></g><g fill="#62DCD6"><circle cx="885.7" cy="345.3" r="4.4"/></g><g fill="#E8166C"><circle cx="892.4" cy="345.9" r="4.4"/></g><g fill="#1F4A9F"><circle cx="839.7" cy="342.5" r="4.4"/><circle cx="836.9" cy="348.6" r="4.4"/><circle cx="849.7" cy="345.3" r="4.4"/><circle cx="849.1" cy="349.2" r="4.4"/><circle cx="787" cy="350.9" r="4.4"/></g><g fill="#E8166C"><circle cx="807.5" cy="352.2" r="4.4"/></g><g fill="#1F4A9F"><circle cx="825.3" cy="353.1" r="4.4"/></g><g fill="#E8166C"><circle cx="824.7" cy="356.9" r="4.4"/><circle cx="794.2" cy="360.3" r="4.4"/><circle cx="887.9" cy="358" r="4.4"/><circle cx="859.7" cy="363.6" r="4.4"/><circle cx="869.7" cy="365.2" r="4.4"/><circle cx="858.6" cy="368.6" r="4.4"/></g><g fill="#F4A70E"><circle cx="802" cy="368" r="4.4"/></g><g fill="#E8166C"><circle cx="805.3" cy="368.6" r="4.4"/></g><g fill="#F4A70E"><circle cx="820.8" cy="372.4" r="4.4"/><circle cx="811.9" cy="375.2" r="4.4"/></g><g fill="#E8166C"><circle cx="809.7" cy="380.2" r="4.4"/></g><g fill="#F4A70E"><circle cx="808" cy="387.9" r="4.4"/></g><g fill="#E8166C"><circle cx="836.4" cy="376.3" r="4.4"/></g><g fill="#1F4A9F"><circle cx="858.1" cy="375.2" r="4.4"/></g><g fill="#E8166C"><circle cx="859.7" cy="383" r="4.4"/></g><g fill="#1F4A9F"><circle cx="850.2" cy="382.4" r="4.4"/></g><g fill="#E8166C"><circle cx="853" cy="390.2" r="4.4"/></g><g fill="#F4A70E"><circle cx="823.6" cy="383.5" r="4.4"/><circle cx="822" cy="390.7" r="4.4"/><circle cx="825.9" cy="391.3" r="4.4"/><circle cx="874.7" cy="383.5" r="4.4"/></g><g fill="#62DCD6"><circle cx="858.1" cy="399" r="4.4"/></g><g fill="#F4A70E"><circle cx="790.9" cy="318.7" r="4.4"/></g><g fill="#1F4A9F"><circle cx="868" cy="352.5" r="4.4"/><circle cx="878" cy="353.1" r="4.4"/></g><g fill="#E8166C"><circle cx="834.2" cy="386.8" r="4.4"/><circle cx="882.4" cy="386.3" r="4.4"/></g><g fill="#1F4A9F"><circle cx="895.2" cy="390.7" r="4.4"/></g><g fill="#E8166C"><circle cx="876.9" cy="399" r="4.4"/></g><g fill="#1F4A9F"><circle cx="888.5" cy="398.5" r="4.4"/><circle cx="844.7" cy="405" r="4.4"/></g><g fill="#E8166C"><circle cx="863.6" cy="408.9" r="4.4"/><circle cx="880.2" cy="412.4" r="4.4"/></g><g fill="#1F4A9F"><circle cx="890.2" cy="416.8" r="4.4"/></g><g fill="#E8166C"><circle cx="887.4" cy="424.9" r="4.4"/></g><g fill="#1F4A9F"><circle cx="869.7" cy="428.8" r="4.4"/><circle cx="860.8" cy="436.5" r="4.4"/></g><g fill="#E8166C"><circle cx="878.2" cy="449.3" r="4.4"/></g><g fill="#1F4A9F"><circle cx="887.7" cy="462.5" r="4.4"/></g><g fill="#E8166C"><circle cx="962.4" cy="84.3" r="4.4"/><circle cx="976.9" cy="81.5" r="4.4"/><circle cx="988.5" cy="86.3" r="4.4"/><circle cx="981.9" cy="95.4" r="4.4"/><circle cx="989.6" cy="99.8" r="4.4"/><circle cx="1005.2" cy="95.1" r="4.4"/><circle cx="999.1" cy="104.8" r="4.4"/><circle cx="1001.4" cy="107.5" r="4.4"/></g><g fill="#F4A70E"><circle cx="1006.4" cy="104.2" r="4.4"/></g><g fill="#E8166C"><circle cx="1012.4" cy="107.5" r="4.4"/><circle cx="969.7" cy="109.5" r="4.4"/><circle cx="971.4" cy="108.4" r="4.4"/><circle cx="941.4" cy="115.3" r="4.4"/><circle cx="997.9" cy="121.4" r="4.4"/><circle cx="990" cy="135.2" r="4.4"/></g><g fill="#62DCD6"><circle cx="910.3" cy="150.5" r="4.4"/></g><g fill="#1F4A9F"><circle cx="987.4" cy="157.1" r="4.4"/></g><g fill="#E8166C"><circle cx="955.2" cy="159.6" r="4.4"/><circle cx="992.6" cy="93.7" r="4.4"/><circle cx="1007.5" cy="99.8" r="4.4"/></g><g fill="#F4A70E"><circle cx="1016.1" cy="115.8" r="4.4"/><circle cx="947.3" cy="122.5" r="4.4"/><circle cx="947.1" cy="137.2" r="4.4"/></g><g fill="#E8166C"><circle cx="970.3" cy="138.3" r="4.4"/></g><g fill="#F4A70E"><circle cx="975.8" cy="137.2" r="4.4"/><circle cx="997.7" cy="140.5" r="4.4"/><circle cx="1007.8" cy="135.2" r="4.4"/><circle cx="1022.4" cy="136.9" r="4.4"/></g><g fill="#E8166C"><circle cx="1034.4" cy="130.2" r="4.4"/><circle cx="963.5" cy="150.2" r="4.4"/></g><g fill="#1F4A9F"><circle cx="996.3" cy="151.3" r="4.4"/></g><g fill="#E8166C"><circle cx="1030.7" cy="147.2" r="4.4"/></g><g fill="#F4A70E"><circle cx="1025.5" cy="151.3" r="4.4"/></g><g fill="#E8166C"><circle cx="998.5" cy="156.8" r="4.4"/></g><g fill="#F4A70E"><circle cx="1029.6" cy="159" r="4.4"/><circle cx="992.6" cy="150.5" r="4.4"/></g><g fill="#1F4A9F"><circle cx="1075.2" cy="159" r="4.4"/></g><g fill="#62DCD6"><circle cx="928.2" cy="159" r="4.4"/></g><g fill="#1F4A9F"><circle cx="910.8" cy="168" r="4.4"/><circle cx="936.7" cy="174.9" r="4.4"/></g><g fill="#E8166C"><circle cx="900.3" cy="201.5" r="4.4"/><circle cx="946.9" cy="204.8" r="4.4"/><circle cx="905.9" cy="215.6" r="4.4"/></g><g fill="#1F4A9F"><circle cx="963" cy="193.8" r="4.4"/></g><g fill="#F4A70E"><circle cx="1003.6" cy="180.5" r="4.4"/></g><g fill="#1F4A9F"><circle cx="904.5" cy="256.3" r="4.4"/></g><g fill="#F4A70E"><circle cx="953.6" cy="255.8" r="4.4"/></g><g fill="#1F4A9F"><circle cx="943" cy="262.4" r="4.4"/></g><g fill="#F4A70E"><circle cx="948" cy="263" r="4.4"/></g><g fill="#1F4A9F"><circle cx="953" cy="271.8" r="4.4"/></g><g fill="#E8166C"><circle cx="934.7" cy="279.6" r="4.4"/><circle cx="937" cy="168.6" r="4.4"/><circle cx="937.5" cy="202.6" r="4.4"/></g><g fill="#F4A70E"><circle cx="1013" cy="180.5" r="4.4"/><circle cx="1053.7" cy="259.1" r="4.4"/></g><g fill="#1F4A9F"><circle cx="1066.2" cy="170.2" r="4.4"/></g><g fill="#F4A70E"><circle cx="924.1" cy="230.3" r="4.4"/><circle cx="1067.3" cy="237.5" r="4.4"/></g><g fill="#1F4A9F"><circle cx="915.6" cy="173.8" r="4.4"/></g><g fill="#F4A70E"><circle cx="924.5" cy="179.7" r="4.4"/></g><g fill="#E8166C"><circle cx="904.8" cy="187.7" r="4.4"/></g><g fill="#F4A70E"><circle cx="953.6" cy="174.4" r="4.4"/><circle cx="1006.1" cy="170.2" r="4.4"/></g><g fill="#E8166C"><circle cx="1003.6" cy="176.6" r="4.4"/></g><g fill="#1F4A9F"><circle cx="986.3" cy="179.7" r="4.4"/></g><g fill="#F4A70E"><circle cx="1020.7" cy="172" r="4.4"/></g><g fill="#E8166C"><circle cx="1043.5" cy="166.1" r="4.4"/></g><g fill="#1F4A9F"><circle cx="1050.7" cy="171.1" r="4.4"/><circle cx="1053.5" cy="170.5" r="4.4"/><circle cx="1060.7" cy="177.7" r="4.4"/><circle cx="1015.8" cy="186.6" r="4.4"/></g><g fill="#E8166C"><circle cx="1023" cy="184.9" r="4.4"/><circle cx="991.9" cy="189.3" r="4.4"/><circle cx="963.5" cy="189.3" r="4.4"/></g><g fill="#F4A70E"><circle cx="968.6" cy="196" r="4.4"/></g><g fill="#E8166C"><circle cx="968.1" cy="203.7" r="4.4"/></g><g fill="#F4A70E"><circle cx="978.9" cy="193.8" r="4.4"/></g><g fill="#1F4A9F"><circle cx="948.3" cy="196.3" r="4.4"/><circle cx="934.7" cy="202.6" r="4.4"/><circle cx="934.5" cy="208.2" r="4.4"/></g><g fill="#E8166C"><circle cx="986.9" cy="203.7" r="4.4"/></g><g fill="#1F4A9F"><circle cx="1040.8" cy="188.8" r="4.4"/></g><g fill="#F4A70E"><circle cx="1038" cy="194.9" r="4.4"/><circle cx="1050" cy="193.8" r="4.4"/><circle cx="1009.1" cy="205.9" r="4.4"/></g><g fill="#1F4A9F"><circle cx="1010.8" cy="210.4" r="4.4"/></g><g fill="#F4A70E"><circle cx="1030.7" cy="209.3" r="4.4"/><circle cx="1026.3" cy="216.5" r="4.4"/><circle cx="1024.6" cy="224" r="4.4"/></g><g fill="#1F4A9F"><circle cx="1035.1" cy="220.9" r="4.4"/></g><g fill="#F4A70E"><circle cx="1043.5" cy="220.9" r="4.4"/></g><g fill="#E8166C"><circle cx="1056.3" cy="225.9" r="4.4"/></g><g fill="#F4A70E"><circle cx="986.3" cy="213.7" r="4.4"/></g><g fill="#1F4A9F"><circle cx="996.8" cy="214.8" r="4.4"/><circle cx="989.1" cy="221.4" r="4.4"/></g><g fill="#E8166C"><circle cx="992.2" cy="230.3" r="4.4"/></g><g fill="#1F4A9F"><circle cx="964.7" cy="220.9" r="4.4"/><circle cx="947.7" cy="219.2" r="4.4"/></g><g fill="#E8166C"><circle cx="901.8" cy="230.1" r="4.4"/><circle cx="927.5" cy="230.9" r="4.4"/><circle cx="924.9" cy="235.8" r="4.4"/></g><g fill="#1F4A9F"><circle cx="937" cy="227" r="4.4"/><circle cx="954.7" cy="232" r="4.4"/><circle cx="955.2" cy="240.8" r="4.4"/></g><g fill="#F4A70E"><circle cx="953.6" cy="245.2" r="4.4"/></g><g fill="#1F4A9F"><circle cx="969.2" cy="235.8" r="4.4"/></g><g fill="#F4A70E"><circle cx="974.1" cy="239.5" r="4.4"/></g><g fill="#1F4A9F"><circle cx="970.8" cy="244.1" r="4.4"/></g><g fill="#F4A70E"><circle cx="983.6" cy="243.6" r="4.4"/><circle cx="1001.1" cy="237.5" r="4.4"/><circle cx="1009.1" cy="235.3" r="4.4"/></g><g fill="#E8166C"><circle cx="1014.7" cy="239.2" r="4.4"/><circle cx="1013" cy="242.5" r="4.4"/></g><g fill="#1F4A9F"><circle cx="1023" cy="244.1" r="4.4"/></g><g fill="#F4A70E"><circle cx="1030.2" cy="232.5" r="4.4"/></g><g fill="#1F4A9F"><circle cx="1043.5" cy="234.7" r="4.4"/></g><g fill="#E8166C"><circle cx="1049.1" cy="235.5" r="4.4"/><circle cx="1062.4" cy="243.6" r="4.4"/></g><g fill="#F4A70E"><circle cx="1072.4" cy="236.9" r="4.4"/><circle cx="1073.5" cy="241.9" r="4.4"/><circle cx="1058.5" cy="252.4" r="4.4"/></g><g fill="#1F4A9F"><circle cx="1075.7" cy="257.4" r="4.4"/><circle cx="1074.1" cy="269.6" r="4.4"/></g><g fill="#E8166C"><circle cx="991.3" cy="251.9" r="4.4"/></g><g fill="#1F4A9F"><circle cx="1007.5" cy="255.8" r="4.4"/></g><g fill="#E8166C"><circle cx="1020.7" cy="255.8" r="4.4"/><circle cx="1033.3" cy="259.6" r="4.4"/></g><g fill="#F4A70E"><circle cx="967.5" cy="255.2" r="4.4"/></g><g fill="#E8166C"><circle cx="978.6" cy="253" r="4.4"/></g><g fill="#1F4A9F"><circle cx="979.4" cy="258" r="4.4"/></g><g fill="#F4A70E"><circle cx="971.9" cy="263" r="4.4"/><circle cx="972.5" cy="271.3" r="4.4"/><circle cx="993.3" cy="268.3" r="4.4"/></g><g fill="#E8166C"><circle cx="1001.4" cy="273.5" r="4.4"/></g><g fill="#1F4A9F"><circle cx="1008.6" cy="272.4" r="4.4"/><circle cx="1020.2" cy="272.4" r="4.4"/><circle cx="1026.3" cy="269.6" r="4.4"/></g><g fill="#F4A70E"><circle cx="1032.4" cy="272.4" r="4.4"/></g><g fill="#1F4A9F"><circle cx="1018" cy="277.3" r="4.4"/></g><g fill="#F4A70E"><circle cx="1026.8" cy="276.8" r="4.4"/><circle cx="989.1" cy="279" r="4.4"/><circle cx="946.4" cy="255.8" r="4.4"/></g><g fill="#E8166C"><circle cx="909.2" cy="260.2" r="4.4"/></g><g fill="#F4A70E"><circle cx="914.2" cy="264.1" r="4.4"/></g><g fill="#1F4A9F"><circle cx="902.5" cy="269" r="4.4"/></g><g fill="#F4A70E"><circle cx="905.3" cy="274" r="4.4"/></g><g fill="#E8166C"><circle cx="923" cy="275.7" r="4.4"/></g><g fill="#1F4A9F"><circle cx="900.9" cy="279" r="4.4"/></g><g fill="#F4A70E"><circle cx="933.6" cy="285" r="4.4"/></g><g fill="#1F4A9F"><circle cx="969.7" cy="285.5" r="4.4"/><circle cx="975.8" cy="284.4" r="4.4"/></g><g fill="#E8166C"><circle cx="992.4" cy="285.5" r="4.4"/><circle cx="997.9" cy="288.9" r="4.4"/></g><g fill="#F4A70E"><circle cx="991.3" cy="293.3" r="4.4"/></g><g fill="#1F4A9F"><circle cx="949.7" cy="291.6" r="4.4"/><circle cx="959.3" cy="296.1" r="4.4"/><circle cx="969.7" cy="300.5" r="4.4"/></g><g fill="#F4A70E"><circle cx="981.3" cy="298.8" r="4.4"/><circle cx="988" cy="301.6" r="4.4"/><circle cx="1030.2" cy="292.2" r="4.4"/><circle cx="1045.8" cy="293.3" r="4.4"/></g><g fill="#1F4A9F"><circle cx="1045.2" cy="299.9" r="4.4"/><circle cx="1053.5" cy="284.4" r="4.4"/></g><g fill="#F4A70E"><circle cx="1059" cy="283.3" r="4.4"/></g><g fill="#1F4A9F"><circle cx="1068.4" cy="283.3" r="4.4"/><circle cx="1063.5" cy="294.4" r="4.4"/></g><g fill="#F4A70E"><circle cx="1067.9" cy="297.2" r="4.4"/></g><g fill="#1F4A9F"><circle cx="917.5" cy="309.9" r="4.4"/><circle cx="924.7" cy="307.1" r="4.4"/><circle cx="923.8" cy="317.1" r="4.4"/><circle cx="934.2" cy="311" r="4.4"/><circle cx="948.6" cy="307.7" r="4.4"/><circle cx="955.8" cy="314.3" r="4.4"/></g><g fill="#F4A70E"><circle cx="958.5" cy="318.7" r="4.4"/></g><g fill="#1F4A9F"><circle cx="972.5" cy="313.2" r="4.4"/><circle cx="981.9" cy="309" r="4.4"/></g><g fill="#E8166C"><circle cx="1000.8" cy="313.2" r="4.4"/></g><g fill="#F4A70E"><circle cx="1009.7" cy="311" r="4.4"/><circle cx="1006.9" cy="318.2" r="4.4"/></g><g fill="#1F4A9F"><circle cx="999.6" cy="322.1" r="4.4"/></g><g fill="#F4A70E"><circle cx="1035.1" cy="309.3" r="4.4"/><circle cx="1044.6" cy="309.9" r="4.4"/></g><g fill="#E8166C"><circle cx="1053.5" cy="312.1" r="4.4"/><circle cx="1028.5" cy="317.1" r="4.4"/></g><g fill="#F4A70E"><circle cx="1035.7" cy="319.3" r="4.4"/></g><g fill="#62DCD6"><circle cx="1045.2" cy="323.4" r="4.4"/></g><g fill="#1F4A9F"><circle cx="1069" cy="321" r="4.4"/></g><g fill="#F4A70E"><circle cx="1031.3" cy="329.8" r="4.4"/></g><g fill="#E8166C"><circle cx="1058.5" cy="326.5" r="4.4"/></g><g fill="#1F4A9F"><circle cx="1063.5" cy="329.3" r="4.4"/></g><g fill="#F4A70E"><circle cx="1057.4" cy="332" r="4.4"/></g><g fill="#E8166C"><circle cx="905" cy="325.9" r="4.4"/></g><g fill="#F4A70E"><circle cx="925.8" cy="336.2" r="4.4"/></g><g fill="#1F4A9F"><circle cx="938.1" cy="340.3" r="4.4"/><circle cx="933.1" cy="345.9" r="4.4"/></g><g fill="#F4A70E"><circle cx="934.2" cy="351.4" r="4.4"/><circle cx="948.6" cy="338.7" r="4.4"/></g><g fill="#E8166C"><circle cx="949.1" cy="344.8" r="4.4"/></g><g fill="#F4A70E"><circle cx="961.3" cy="339.2" r="4.4"/><circle cx="984.7" cy="335.4" r="4.4"/></g><g fill="#1F4A9F"><circle cx="986.9" cy="344.8" r="4.4"/><circle cx="980.2" cy="348.6" r="4.4"/></g><g fill="#F4A70E"><circle cx="973" cy="347.5" r="4.4"/></g><g fill="#1F4A9F"><circle cx="971.9" cy="356.4" r="4.4"/><circle cx="995.7" cy="349.2" r="4.4"/><circle cx="999.6" cy="352" r="4.4"/></g><g fill="#E8166C"><circle cx="993.5" cy="359.2" r="4.4"/></g><g fill="#1F4A9F"><circle cx="1020.7" cy="339.8" r="4.4"/></g><g fill="#E8166C"><circle cx="1016.9" cy="343.7" r="4.4"/></g><g fill="#1F4A9F"><circle cx="1027.9" cy="342.5" r="4.4"/></g><g fill="#F4A70E"><circle cx="1020.7" cy="349.2" r="4.4"/><circle cx="1016.9" cy="353.1" r="4.4"/><circle cx="1034.6" cy="350" r="4.4"/></g><g fill="#1F4A9F"><circle cx="1051.3" cy="341.4" r="4.4"/><circle cx="1068.8" cy="345.5" r="4.4"/><circle cx="903.1" cy="354.7" r="4.4"/></g><g fill="#F4A70E"><circle cx="909.2" cy="361.9" r="4.4"/></g><g fill="#E8166C"><circle cx="911.4" cy="367.5" r="4.4"/></g><g fill="#F4A70E"><circle cx="937.5" cy="365.8" r="4.4"/><circle cx="953.6" cy="363" r="4.4"/><circle cx="984.1" cy="361.9" r="4.4"/></g><g fill="#E8166C"><circle cx="993.5" cy="367.5" r="4.4"/></g><g fill="#1F4A9F"><circle cx="1015.8" cy="361.9" r="4.4"/></g><g fill="#E8166C"><circle cx="1015.2" cy="368.6" r="4.4"/></g><g fill="#1F4A9F"><circle cx="972.5" cy="370.8" r="4.4"/></g><g fill="#F4A70E"><circle cx="1004.7" cy="371.9" r="4.4"/></g><g fill="#E8166C"><circle cx="986.3" cy="374.7" r="4.4"/></g><g fill="#F4A70E"><circle cx="1050.7" cy="361.4" r="4.4"/></g><g fill="#1F4A9F"><circle cx="1066.8" cy="369.4" r="4.4"/></g><g fill="#F4A70E"><circle cx="1075.7" cy="365.8" r="4.4"/></g><g fill="#1F4A9F"><circle cx="915.8" cy="379.1" r="4.4"/><circle cx="918.6" cy="383.5" r="4.4"/></g><g fill="#E8166C"><circle cx="934.7" cy="376.9" r="4.4"/></g><g fill="#1F4A9F"><circle cx="947.5" cy="378" r="4.4"/></g><g fill="#F4A70E"><circle cx="959.1" cy="382.4" r="4.4"/><circle cx="991.9" cy="382.4" r="4.4"/><circle cx="1004.1" cy="383" r="4.4"/><circle cx="1009.1" cy="386.8" r="4.4"/><circle cx="1036.9" cy="380.2" r="4.4"/></g><g fill="#1F4A9F"><circle cx="1032.4" cy="384.6" r="4.4"/></g><g fill="#F4A70E"><circle cx="1037.4" cy="386.8" r="4.4"/></g><g fill="#1F4A9F"><circle cx="1048.5" cy="387.9" r="4.4"/></g><g fill="#F4A70E"><circle cx="902.5" cy="389.6" r="4.4"/></g><g fill="#1F4A9F"><circle cx="909.2" cy="395.1" r="4.4"/></g><g fill="#F4A70E"><circle cx="921.4" cy="391.3" r="4.4"/><circle cx="929.2" cy="389" r="4.4"/><circle cx="934.2" cy="390.7" r="4.4"/><circle cx="946.9" cy="391.8" r="4.4"/></g><g fill="#1F4A9F"><circle cx="952.5" cy="389.6" r="4.4"/></g><g fill="#E8166C"><circle cx="979.1" cy="392.4" r="4.4"/></g><g fill="#1F4A9F"><circle cx="1018" cy="392.9" r="4.4"/><circle cx="1013.5" cy="396.2" r="4.4"/><circle cx="1024.6" cy="397.3" r="4.4"/></g><g fill="#F4A70E"><circle cx="1059" cy="393.5" r="4.4"/><circle cx="1069.6" cy="397.3" r="4.4"/><circle cx="963.5" cy="396.8" r="4.4"/><circle cx="958" cy="398.5" r="4.4"/></g><g fill="#1F4A9F"><circle cx="926.9" cy="287.5" r="4.4"/><circle cx="943.6" cy="286.1" r="4.4"/></g><g fill="#F4A70E"><circle cx="913.6" cy="294.4" r="4.4"/></g><g fill="#E8166C"><circle cx="1011.9" cy="300.5" r="4.4"/><circle cx="904.2" cy="335.9" r="4.4"/><circle cx="949.1" cy="352" r="4.4"/></g><g fill="#F4A70E"><circle cx="947.5" cy="320.7" r="4.4"/></g><g fill="#1F4A9F"><circle cx="901.4" cy="403.9" r="4.4"/></g><g fill="#F4A70E"><circle cx="975.3" cy="404.4" r="4.4"/></g><g fill="#1F4A9F"><circle cx="992.4" cy="404.4" r="4.4"/></g><g fill="#F4A70E"><circle cx="995.2" cy="406.6" r="4.4"/></g><g fill="#E8166C"><circle cx="1005.8" cy="402.8" r="4.4"/></g><g fill="#F4A70E"><circle cx="1064.6" cy="406.1" r="4.4"/></g><g fill="#1F4A9F"><circle cx="1039.1" cy="409.4" r="4.4"/><circle cx="1042.4" cy="409.4" r="4.4"/><circle cx="931.4" cy="414.9" r="4.4"/></g><g fill="#F4A70E"><circle cx="924.7" cy="419.9" r="4.4"/><circle cx="929.2" cy="426" r="4.4"/><circle cx="940.8" cy="413.8" r="4.4"/><circle cx="945.8" cy="411.6" r="4.4"/><circle cx="944.2" cy="424.4" r="4.4"/><circle cx="975.8" cy="412.7" r="4.4"/><circle cx="967" cy="419.9" r="4.4"/><circle cx="975.3" cy="421" r="4.4"/><circle cx="984.7" cy="422.7" r="4.4"/><circle cx="997.4" cy="421.6" r="4.4"/><circle cx="1006.4" cy="417.2" r="4.4"/><circle cx="1075.7" cy="421" r="4.4"/><circle cx="1050.2" cy="426.3" r="4.4"/></g><g fill="#E8166C"><circle cx="1021.3" cy="430.1" r="4.4"/></g><g fill="#F4A70E"><circle cx="1038.6" cy="430.4" r="4.4"/><circle cx="1075.7" cy="432.1" r="4.4"/></g><g fill="#1F4A9F"><circle cx="940.3" cy="433.2" r="4.4"/><circle cx="944.7" cy="435.4" r="4.4"/></g><g fill="#F4A70E"><circle cx="951.4" cy="438.7" r="4.4"/><circle cx="962.4" cy="431" r="4.4"/><circle cx="968.1" cy="432.1" r="4.4"/><circle cx="972.5" cy="440.4" r="4.4"/><circle cx="980.8" cy="430.4" r="4.4"/></g><g fill="#E8166C"><circle cx="984.7" cy="428.8" r="4.4"/><circle cx="985.8" cy="438.7" r="4.4"/></g><g fill="#F4A70E"><circle cx="996.3" cy="439.9" r="4.4"/><circle cx="1000.8" cy="439.9" r="4.4"/></g><g fill="#E8166C"><circle cx="1016.3" cy="438.2" r="4.4"/></g><g fill="#1F4A9F"><circle cx="1040.2" cy="441" r="4.4"/><circle cx="1046.3" cy="435.4" r="4.4"/><circle cx="1049.6" cy="441.8" r="4.4"/><circle cx="1072.4" cy="447.4" r="4.4"/></g><g fill="#E8166C"><circle cx="909.7" cy="445.2" r="4.4"/></g><g fill="#1F4A9F"><circle cx="922.2" cy="445.9" r="4.4"/><circle cx="978.6" cy="447.6" r="4.4"/></g><g fill="#F4A70E"><circle cx="970.8" cy="454.2" r="4.4"/><circle cx="972.5" cy="457.6" r="4.4"/><circle cx="963" cy="459.8" r="4.4"/><circle cx="995.7" cy="454.2" r="4.4"/></g><g fill="#1F4A9F"><circle cx="994.1" cy="456.5" r="4.4"/><circle cx="988" cy="462.5" r="4.4"/></g><g fill="#F4A70E"><circle cx="1023.5" cy="459.8" r="4.4"/><circle cx="1018" cy="466.4" r="4.4"/><circle cx="1044.1" cy="455.6" r="4.4"/></g><g fill="#1F4A9F"><circle cx="1057.4" cy="463.1" r="4.4"/></g><g fill="#F4A70E"><circle cx="1059" cy="465.3" r="4.4"/><circle cx="932.5" cy="462" r="4.4"/></g><g fill="#1F4A9F"><circle cx="938.1" cy="460.9" r="4.4"/></g><g fill="#E8166C"><circle cx="944.2" cy="457.6" r="4.4"/></g><g fill="#1F4A9F"><circle cx="948.9" cy="466.4" r="4.4"/></g><g fill="#F4A70E"><circle cx="956.3" cy="469.2" r="4.4"/><circle cx="975.3" cy="467.5" r="4.4"/></g><g fill="#E8166C"><circle cx="994.1" cy="478.8" r="4.4"/><circle cx="956.3" cy="491.3" r="4.4"/></g><g fill="#F4A70E"><circle cx="920.5" cy="414.9" r="4.4"/><circle cx="910.1" cy="458.7" r="4.4"/><circle cx="923.6" cy="471.1" r="4.4"/></g><g fill="#E8166C"><circle cx="926.3" cy="488" r="4.4"/></g><g fill="#1F4A9F"><circle cx="1084.1" cy="184.7" r="4.4"/></g><g fill="#F4A70E"><circle cx="1080.8" cy="205.2" r="4.4"/><circle cx="1088.6" cy="209.6" r="4.4"/></g><g fill="#1F4A9F"><circle cx="1095.8" cy="216.8" r="4.4"/></g><g fill="#F4A70E"><circle cx="1081.9" cy="215.7" r="4.4"/></g><g fill="#1F4A9F"><circle cx="1083" cy="233.3" r="4.4"/></g><g fill="#E8166C"><circle cx="1085.3" cy="238.3" r="4.4"/><circle cx="1101.6" cy="234.2" r="4.4"/></g><g fill="#1F4A9F"><circle cx="1109.2" cy="245.7" r="4.4"/></g><g fill="#F4A70E"><circle cx="1078.6" cy="257.6" r="4.4"/></g><g fill="#1F4A9F"><circle cx="1088.6" cy="257.1" r="4.4"/></g><g fill="#F4A70E"><circle cx="1084.1" cy="264.3" r="4.4"/><circle cx="1085.3" cy="268.7" r="4.4"/><circle cx="1091.9" cy="270.4" r="4.4"/></g><g fill="#E8166C"><circle cx="1096.9" cy="273.1" r="4.4"/></g><g fill="#F4A70E"><circle cx="1121.9" cy="264.8" r="4.4"/></g><g fill="#E8166C"><circle cx="1129.6" cy="272.9" r="4.4"/></g><g fill="#F4A70E"><circle cx="1106.5" cy="284.4" r="4.4"/></g><g fill="#E8166C"><circle cx="1090.2" cy="290.6" r="4.4"/><circle cx="1094.1" cy="299.7" r="4.4"/></g><g fill="#1F4A9F"><circle cx="1101.3" cy="296.4" r="4.4"/><circle cx="1101.3" cy="300.8" r="4.4"/></g><g fill="#F4A70E"><circle cx="1085.3" cy="304.1" r="4.4"/></g><g fill="#E8166C"><circle cx="1084.7" cy="309.7" r="4.4"/><circle cx="1112.5" cy="311" r="4.4"/><circle cx="1133" cy="331.3" r="4.4"/></g><g fill="#F4A70E"><circle cx="1087.5" cy="332.7" r="4.4"/></g><g fill="#1F4A9F"><circle cx="1104.1" cy="339.6" r="4.4"/><circle cx="1103.5" cy="252.3" r="4.4"/><circle cx="1136.8" cy="295.8" r="4.4"/></g><g fill="#F4A70E"><circle cx="1140.2" cy="310.6" r="4.4"/><circle cx="1156.3" cy="313.9" r="4.4"/></g><g fill="#E8166C"><circle cx="1117.7" cy="319.4" r="4.4"/></g><g fill="#1F4A9F"><circle cx="1133.2" cy="323" r="4.4"/></g><g fill="#F4A70E"><circle cx="1149.1" cy="330.5" r="4.4"/></g><g fill="#1F4A9F"><circle cx="1126.9" cy="334.6" r="4.4"/><circle cx="1091.9" cy="337.3" r="4.4"/><circle cx="1174.9" cy="339" r="4.4"/><circle cx="1123.5" cy="290.3" r="4.4"/></g><g fill="#F4A70E"><circle cx="1106.3" cy="352.2" r="4.4"/><circle cx="1109.2" cy="354.4" r="4.4"/></g><g fill="#1F4A9F"><circle cx="1089.5" cy="359.4" r="4.4"/></g><g fill="#E8166C"><circle cx="1087.5" cy="378.7" r="4.4"/></g><g fill="#1F4A9F"><circle cx="1097.4" cy="387.6" r="4.4"/></g><g fill="#F4A70E"><circle cx="1090.8" cy="401.4" r="4.4"/></g><g fill="#1F4A9F"><circle cx="1118.6" cy="408.4" r="4.4"/><circle cx="1081.9" cy="413.1" r="4.4"/><circle cx="1098.5" cy="422.5" r="4.4"/><circle cx="1110.3" cy="429.4" r="4.4"/></g><g fill="#F4A70E"><circle cx="1090.2" cy="437.6" r="4.4"/><circle cx="1104.1" cy="453.5" r="4.4"/><circle cx="1127.4" cy="456.8" r="4.4"/></g><g fill="#1F4A9F"><circle cx="1158.5" cy="389.6" r="4.4"/><circle cx="1084.1" cy="353.8" r="4.4"/><circle cx="1092.8" cy="356.1" r="4.4"/></g><g fill="#F4A70E"><circle cx="1184.6" cy="345.3" r="4.4"/><circle cx="1163.2" cy="352.2" r="4.4"/></g><g fill="#1F4A9F"><circle cx="1153" cy="358.3" r="4.4"/><circle cx="1146.6" cy="367.7" r="4.4"/></g><g fill="#F4A70E"><circle cx="1154.6" cy="374.5" r="4.4"/></g><g fill="#1F4A9F"><circle cx="1163.2" cy="379.3" r="4.4"/></g><g fill="#F4A70E"><circle cx="1175.7" cy="363.2" r="4.4"/><circle cx="1174" cy="371" r="4.4"/><circle cx="1168.5" cy="371.6" r="4.4"/><circle cx="1185.2" cy="361.6" r="4.4"/></g><g fill="#1F4A9F"><circle cx="1195.7" cy="364.4" r="4.4"/><circle cx="1197.4" cy="353.8" r="4.4"/></g><g fill="#F4A70E"><circle cx="1212.9" cy="372.1" r="4.4"/><circle cx="1215.7" cy="377.6" r="4.4"/></g><g fill="#1F4A9F"><circle cx="1209.5" cy="381.5" r="4.4"/></g><g fill="#F4A70E"><circle cx="1215.1" cy="385.4" r="4.4"/><circle cx="1227.4" cy="398.1" r="4.4"/><circle cx="1211.5" cy="400.3" r="4.4"/><circle cx="1200.1" cy="395.4" r="4.4"/><circle cx="1188.5" cy="384.3" r="4.4"/><circle cx="1194" cy="388.7" r="4.4"/><circle cx="1183" cy="386.5" r="4.4"/><circle cx="1178.4" cy="392.6" r="4.4"/></g><g fill="#1F4A9F"><circle cx="1186.9" cy="397.6" r="4.4"/></g><g fill="#F4A70E"><circle cx="1185.7" cy="400.9" r="4.4"/></g><g fill="#1F4A9F"><circle cx="1163.5" cy="394.8" r="4.4"/><circle cx="1139.6" cy="396.2" r="4.4"/></g><g fill="#F4A70E"><circle cx="1129.6" cy="396.2" r="4.4"/></g><g fill="#1F4A9F"><circle cx="1125.2" cy="401.4" r="4.4"/></g><g fill="#F4A70E"><circle cx="1176.8" cy="405.3" r="4.4"/><circle cx="1183" cy="411.7" r="4.4"/><circle cx="1177.3" cy="420.8" r="4.4"/><circle cx="1195.2" cy="410.9" r="4.4"/><circle cx="1200.7" cy="416.4" r="4.4"/><circle cx="1191.8" cy="420.3" r="4.4"/><circle cx="1197.4" cy="421.4" r="4.4"/><circle cx="1206.2" cy="425.2" r="4.4"/><circle cx="1194" cy="429.1" r="4.4"/><circle cx="1201.2" cy="434.1" r="4.4"/><circle cx="1211.8" cy="415.3" r="4.4"/><circle cx="1187.4" cy="440.5" r="4.4"/><circle cx="1209.5" cy="440.7" r="4.4"/></g><g fill="#1F4A9F"><circle cx="1114.7" cy="438.5" r="4.4"/></g><g fill="#F4A70E"><circle cx="1126.3" cy="443.2" r="4.4"/><circle cx="1135.2" cy="427.5" r="4.4"/><circle cx="1140.7" cy="427.5" r="4.4"/><circle cx="1150.2" cy="427.7" r="4.4"/><circle cx="1163.5" cy="428.3" r="4.4"/></g><g fill="#E8166C"><circle cx="1153" cy="436.3" r="4.4"/></g><g fill="#F4A70E"><circle cx="1146.9" cy="440.2" r="4.4"/><circle cx="1162.4" cy="439.1" r="4.4"/></g><g fill="#1F4A9F"><circle cx="1162.4" cy="441.8" r="4.4"/></g><g fill="#F4A70E"><circle cx="1171.3" cy="436.3" r="4.4"/><circle cx="1173.5" cy="444.1" r="4.4"/><circle cx="1172.9" cy="451.8" r="4.4"/><circle cx="1139" cy="445.2" r="4.4"/><circle cx="1142.9" cy="453.5" r="4.4"/><circle cx="1163.5" cy="455.1" r="4.4"/><circle cx="1190.2" cy="451.8" r="4.4"/><circle cx="1197.4" cy="454.6" r="4.4"/><circle cx="1135.2" cy="459" r="4.4"/><circle cx="1140.2" cy="449.4" r="4.4"/></g><g fill="#1F4A9F"><circle cx="1165.2" cy="459.9" r="4.4"/></g><g fill="#F4A70E"><circle cx="1189.1" cy="458.3" r="4.4"/><circle cx="1144.7" cy="463.2" r="4.4"/><circle cx="1153" cy="463.2" r="4.4"/><circle cx="1105.2" cy="463" r="4.4"/><circle cx="1169.6" cy="469.9" r="4.4"/><circle cx="1176.2" cy="470.4" r="4.4"/><circle cx="1176.8" cy="476" r="4.4"/><circle cx="1185.7" cy="471.6" r="4.4"/><circle cx="1164.1" cy="482.6" r="4.4"/></g><g fill="#1F4A9F"><circle cx="1167.4" cy="482.6" r="4.4"/></g><g fill="#F4A70E"><circle cx="1145" cy="485.2" r="4.4"/><circle cx="1136.8" cy="471.6" r="4.4"/><circle cx="1150.8" cy="470.4" r="4.4"/></g><g fill="#1F4A9F"><circle cx="1191.8" cy="469.3" r="4.4"/></g><g fill="#E8166C"><circle cx="899.9" cy="229.7" r="4.4"/></g><g fill="#1F4A9F"><circle cx="899.9" cy="269.6" r="4.4"/></g><g fill="#62DCD6"><circle cx="757.6" cy="294.4" r="4.4"/><circle cx="801.9" cy="291.1" r="4.4"/></g><g fill="#1F4A9F"><circle cx="855.6" cy="318.2" r="4.4"/><circle cx="802.5" cy="370.6" r="4.4"/><circle cx="899.3" cy="354.7" r="4.4"/></g><g fill="#F4A70E"><circle cx="891.4" cy="303.5" r="4.4"/></g><g fill="#E8166C"><circle cx="989.7" cy="219.2" r="4.4"/></g><g fill="#F4A70E"><circle cx="900.6" cy="241.4" r="4.4"/></g><g fill="#1F4A9F"><circle cx="949.8" cy="313.2" r="4.4"/><circle cx="1007.9" cy="318.2" r="4.4"/></g><g fill="#E8166C"><circle cx="1044.5" cy="311.6" r="4.4"/><circle cx="954.2" cy="365.2" r="4.4"/></g><g fill="#F4A70E"><circle cx="1022.9" cy="280.6" r="4.4"/><circle cx="1056.1" cy="312.3" r="4.4"/><circle cx="988" cy="335.4" r="4.4"/><circle cx="935.4" cy="463.7" r="4.4"/><circle cx="1077.7" cy="445.9" r="4.4"/></g><g fill="#1F4A9F"><circle cx="1104" cy="353.6" r="4.4"/></g><g fill="#2E3192"><circle cx="1502.7" cy="46.9" r="4.5"/></g><g fill="#ADD8E6"><circle cx="1498.4" cy="53.4" r="4.5"/><circle cx="1494.2" cy="58.7" r="4.5"/><circle cx="1472.8" cy="52.6" r="4.5"/><circle cx="1450.7" cy="57.3" r="4.5"/><circle cx="1454" cy="60.1" r="4.5"/><circle cx="1446.2" cy="61.2" r="4.5"/><circle cx="1483.8" cy="60.7" r="4.5"/></g><g fill="#2E3192"><circle cx="1479.3" cy="62.6" r="4.5"/></g><g fill="#ADD8E6"><circle cx="1471.1" cy="66.6" r="4.5"/><circle cx="1427.7" cy="66.6" r="4.5"/><circle cx="1427.7" cy="70.4" r="4.5"/><circle cx="1446.2" cy="69.7" r="4.5"/><circle cx="1449.5" cy="70.8" r="4.5"/><circle cx="1461.9" cy="69.1" r="4.5"/><circle cx="1459.1" cy="76.3" r="4.5"/><circle cx="1466.4" cy="76.8" r="4.5"/><circle cx="1504.6" cy="67" r="4.5"/><circle cx="1512.2" cy="68.9" r="4.5"/></g><g fill="#2E3192"><circle cx="1524.8" cy="65.5" r="4.5"/></g><g fill="#ADD8E6"><circle cx="1496.8" cy="74.1" r="4.5"/></g><g fill="#2E3192"><circle cx="1510.8" cy="75.7" r="4.5"/></g><g fill="#ADD8E6"><circle cx="1515.7" cy="80" r="4.5"/><circle cx="1487.5" cy="80.6" r="4.5"/><circle cx="1433.8" cy="81.6" r="4.5"/><circle cx="1437.7" cy="85.8" r="4.5"/><circle cx="1437.5" cy="90.9" r="4.5"/><circle cx="1451.2" cy="88.1" r="4.5"/><circle cx="1466.4" cy="89.8" r="4.5"/><circle cx="1478.8" cy="85.2" r="4.5"/><circle cx="1481.5" cy="90.9" r="4.5"/><circle cx="1411.7" cy="88.7" r="4.5"/><circle cx="1409.2" cy="95.3" r="4.5"/><circle cx="1423.6" cy="95.3" r="4.5"/><circle cx="1436.3" cy="100.4" r="4.5"/><circle cx="1446.2" cy="98.2" r="4.5"/></g><g fill="#2E3192"><circle cx="1456.2" cy="94.8" r="4.5"/></g><g fill="#ADD8E6"><circle cx="1460.5" cy="100.6" r="4.5"/></g><g fill="#C51B7D"><circle cx="1474" cy="96.6" r="4.5"/></g><g fill="#ADD8E6"><circle cx="1483.5" cy="99.6" r="4.5"/><circle cx="1408.1" cy="105.4" r="4.5"/><circle cx="1408.2" cy="111" r="4.5"/><circle cx="1421.2" cy="106.8" r="4.5"/><circle cx="1507.9" cy="108.2" r="4.5"/><circle cx="1475.7" cy="111" r="4.5"/><circle cx="1462.6" cy="116.6" r="4.5"/><circle cx="1471.2" cy="120.7" r="4.5"/><circle cx="1446.7" cy="121.9" r="4.5"/><circle cx="1450.7" cy="124.7" r="4.5"/><circle cx="1411.9" cy="120" r="4.5"/><circle cx="1407.9" cy="124.4" r="4.5"/><circle cx="1399.5" cy="127.3" r="4.5"/><circle cx="1410.7" cy="130.4" r="4.5"/><circle cx="1390.2" cy="132.6" r="4.5"/><circle cx="1401.2" cy="135.7" r="4.5"/><circle cx="1394.4" cy="139.5" r="4.5"/></g><g fill="#2E3192"><circle cx="1433.8" cy="126.2" r="4.5"/></g><g fill="#ADD8E6"><circle cx="1477.6" cy="128.1" r="4.5"/><circle cx="1490" cy="130.4" r="4.5"/><circle cx="1468.6" cy="133.9" r="4.5"/><circle cx="1427.6" cy="139" r="4.5"/><circle cx="1452.9" cy="150.5" r="4.5"/><circle cx="1497.9" cy="144.5" r="4.5"/><circle cx="1523.7" cy="147.7" r="4.5"/><circle cx="1487.5" cy="155.8" r="4.5"/></g><g fill="#2E3192"><circle cx="1509.7" cy="157.5" r="4.5"/></g><g fill="#ADD8E6"><circle cx="1441.6" cy="158" r="4.5"/></g><g fill="#2E3192"><circle cx="1514.1" cy="99.1" r="4.5"/><circle cx="1548.5" cy="155.8" r="4.5"/></g><g fill="#ADD8E6"><circle cx="1429.8" cy="127.8" r="4.5"/><circle cx="1484.9" cy="128.9" r="4.5"/><circle cx="1539.1" cy="129.5" r="4.5"/><circle cx="1421.9" cy="144.5" r="4.5"/><circle cx="1467.3" cy="147.4" r="4.5"/><circle cx="1505.2" cy="146.8" r="4.5"/><circle cx="1481" cy="154.7" r="4.5"/><circle cx="1395.5" cy="165.7" r="4.5"/><circle cx="1401.2" cy="165.7" r="4.5"/><circle cx="1406.8" cy="164" r="4.5"/><circle cx="1413.5" cy="164" r="4.5"/><circle cx="1474" cy="163.2" r="4.5"/><circle cx="1410.7" cy="175.3" r="4.5"/><circle cx="1495.7" cy="176.4" r="4.5"/><circle cx="1441.1" cy="189.7" r="4.5"/><circle cx="1445.3" cy="200.4" r="4.5"/><circle cx="1489.1" cy="192.3" r="4.5"/></g><g fill="#A2D65A"><circle cx="1546.2" cy="251.3" r="4.5"/></g><g fill="#ADD8E6"><circle cx="1400.3" cy="169.1" r="4.5"/><circle cx="1410.1" cy="172.9" r="4.5"/><circle cx="1428.9" cy="172.4" r="4.5"/><circle cx="1444.5" cy="170.2" r="4.5"/><circle cx="1448" cy="174.1" r="4.5"/><circle cx="1475.1" cy="180" r="4.5"/><circle cx="1505" cy="171.1" r="4.5"/><circle cx="1386.8" cy="187.9" r="4.5"/><circle cx="1403.6" cy="189.7" r="4.5"/><circle cx="1407.6" cy="194.3" r="4.5"/><circle cx="1425.9" cy="199.3" r="4.5"/><circle cx="1430.4" cy="196.8" r="4.5"/><circle cx="1453.4" cy="192.3" r="4.5"/></g><g fill="#A2D65A"><circle cx="1451.8" cy="199.8" r="4.5"/></g><g fill="#ADD8E6"><circle cx="1400.9" cy="202.9" r="4.5"/><circle cx="1385.4" cy="206" r="4.5"/><circle cx="1389.3" cy="208.2" r="4.5"/><circle cx="1459.6" cy="204.3" r="4.5"/><circle cx="1451.8" cy="208.2" r="4.5"/><circle cx="1471.5" cy="195.7" r="4.5"/></g><g fill="#2E3192"><circle cx="1487.7" cy="198.7" r="4.5"/></g><g fill="#ADD8E6"><circle cx="1484.9" cy="206.9" r="4.5"/><circle cx="1494.7" cy="204.3" r="4.5"/><circle cx="1499" cy="211.3" r="4.5"/></g><g fill="#2E3192"><circle cx="1501.9" cy="188.6" r="4.5"/></g><g fill="#ADD8E6"><circle cx="1519.8" cy="188.6" r="4.5"/></g><g fill="#2E3192"><circle cx="1532.1" cy="184.2" r="4.5"/></g><g fill="#ADD8E6"><circle cx="1538.9" cy="183.7" r="4.5"/><circle cx="1530.1" cy="192" r="4.5"/><circle cx="1524.8" cy="200.9" r="4.5"/><circle cx="1510.3" cy="209.9" r="4.5"/><circle cx="1514.1" cy="208.8" r="4.5"/><circle cx="1555.8" cy="205.4" r="4.5"/><circle cx="1535" cy="213.8" r="4.5"/><circle cx="1546.2" cy="210.6" r="4.5"/></g><g fill="#2E3192"><circle cx="1550.2" cy="217.2" r="4.5"/></g><g fill="#ADD8E6"><circle cx="1536.7" cy="222.6" r="4.5"/></g><g fill="#2E3192"><circle cx="1549.6" cy="228.9" r="4.5"/><circle cx="1395.3" cy="216.9" r="4.5"/></g><g fill="#ADD8E6"><circle cx="1441.6" cy="216.3" r="4.5"/><circle cx="1446.7" cy="221" r="4.5"/></g><g fill="#2E3192"><circle cx="1460.7" cy="218.1" r="4.5"/></g><g fill="#ADD8E6"><circle cx="1463.1" cy="225.9" r="4.5"/><circle cx="1462.7" cy="232.9" r="4.5"/><circle cx="1474.2" cy="225" r="4.5"/><circle cx="1477.4" cy="226.7" r="4.5"/><circle cx="1486.1" cy="230.6" r="4.5"/><circle cx="1486.4" cy="235.1" r="4.5"/><circle cx="1513" cy="228.9" r="4.5"/><circle cx="1512.2" cy="235.1" r="4.5"/><circle cx="1391" cy="224.8" r="4.5"/><circle cx="1398.1" cy="227.8" r="4.5"/><circle cx="1403.7" cy="228.3" r="4.5"/><circle cx="1415.2" cy="226.1" r="4.5"/><circle cx="1413.5" cy="230" r="4.5"/><circle cx="1433.2" cy="227.5" r="4.5"/><circle cx="1426.5" cy="231.5" r="4.5"/><circle cx="1398.1" cy="236.7" r="4.5"/><circle cx="1407.9" cy="237.8" r="4.5"/><circle cx="1428.9" cy="239.7" r="4.5"/><circle cx="1451.2" cy="241.8" r="4.5"/><circle cx="1391" cy="242.9" r="4.5"/><circle cx="1388.2" cy="250.2" r="4.5"/><circle cx="1407.9" cy="247.9" r="4.5"/></g><g fill="#2E3192"><circle cx="1401.2" cy="254.7" r="4.5"/></g><g fill="#ADD8E6"><circle cx="1391" cy="260.6" r="4.5"/><circle cx="1428.9" cy="252.8" r="4.5"/><circle cx="1452.9" cy="253.5" r="4.5"/><circle cx="1462.4" cy="249.6" r="4.5"/><circle cx="1445" cy="259.7" r="4.5"/><circle cx="1456.9" cy="259.1" r="4.5"/></g><g fill="#C51B7D"><circle cx="1464.2" cy="258.3" r="4.5"/></g><g fill="#ADD8E6"><circle cx="1477.6" cy="258.3" r="4.5"/><circle cx="1483.8" cy="259.7" r="4.5"/><circle cx="1493.1" cy="257.4" r="4.5"/><circle cx="1505.7" cy="257.2" r="4.5"/><circle cx="1515.3" cy="256.1" r="4.5"/><circle cx="1522.1" cy="243.2" r="4.5"/><circle cx="1527.1" cy="252.4" r="4.5"/><circle cx="1528.8" cy="255" r="4.5"/></g><g fill="#2E3192"><circle cx="1540.4" cy="244.3" r="4.5"/></g><g fill="#ADD8E6"><circle cx="1552.4" cy="249" r="4.5"/><circle cx="1556.9" cy="241.3" r="4.5"/><circle cx="1421.4" cy="264.7" r="4.5"/><circle cx="1429.2" cy="264.2" r="4.5"/><circle cx="1427" cy="261.7" r="4.5"/><circle cx="1454" cy="266.9" r="4.5"/><circle cx="1487.5" cy="267.3" r="4.5"/></g><g fill="#2E3192"><circle cx="1396.1" cy="275.3" r="4.5"/></g><g fill="#ADD8E6"><circle cx="1418.3" cy="275.9" r="4.5"/></g><g fill="#2E3192"><circle cx="1440.5" cy="273.7" r="4.5"/></g><g fill="#ADD8E6"><circle cx="1454.6" cy="274.2" r="4.5"/><circle cx="1498.4" cy="274.8" r="4.5"/><circle cx="1503" cy="274.2" r="4.5"/><circle cx="1525.4" cy="278.1" r="4.5"/></g><g fill="#2E3192"><circle cx="1555.2" cy="275.3" r="4.5"/></g><g fill="#ADD8E6"><circle cx="1433.8" cy="275.3" r="4.5"/><circle cx="1430.4" cy="282" r="4.5"/><circle cx="1450.7" cy="280.9" r="4.5"/><circle cx="1462.4" cy="282" r="4.5"/><circle cx="1461.9" cy="286.9" r="4.5"/><circle cx="1459.6" cy="294.2" r="4.5"/><circle cx="1406.8" cy="295.3" r="4.5"/></g><g fill="#2E3192"><circle cx="1415.8" cy="291.5" r="4.5"/></g><g fill="#ADD8E6"><circle cx="1416.3" cy="301.5" r="4.5"/><circle cx="1425.9" cy="291.5" r="4.5"/><circle cx="1440" cy="290.4" r="4.5"/><circle cx="1435.4" cy="297.7" r="4.5"/><circle cx="1434.9" cy="303.7" r="4.5"/><circle cx="1425.4" cy="305.1" r="4.5"/><circle cx="1420.3" cy="312.2" r="4.5"/></g><g fill="#2E3192"><circle cx="1421.2" cy="318.3" r="4.5"/></g><g fill="#ADD8E6"><circle cx="1429.2" cy="324.4" r="4.5"/><circle cx="1432.7" cy="326.1" r="4.5"/><circle cx="1440.5" cy="330.1" r="4.5"/><circle cx="1441.6" cy="333.4" r="4.5"/><circle cx="1476.5" cy="290.9" r="4.5"/><circle cx="1473.7" cy="295.9" r="4.5"/></g><g fill="#2E3192"><circle cx="1490.6" cy="293.1" r="4.5"/></g><g fill="#ADD8E6"><circle cx="1490.6" cy="298.2" r="4.5"/><circle cx="1506.8" cy="294.8" r="4.5"/><circle cx="1514.8" cy="297.7" r="4.5"/><circle cx="1528.3" cy="293.7" r="4.5"/><circle cx="1538.3" cy="295.9" r="4.5"/></g><g fill="#2E3192"><circle cx="1542.3" cy="298.2" r="4.5"/><circle cx="1549.6" cy="304.3" r="4.5"/></g><g fill="#ADD8E6"><circle cx="1522.1" cy="307.7" r="4.5"/><circle cx="1482.7" cy="312.2" r="4.5"/></g><g fill="#A2D65A"><circle cx="1494.5" cy="311.6" r="4.5"/></g><g fill="#ADD8E6"><circle cx="1473.1" cy="316.6" r="4.5"/><circle cx="1469.8" cy="323.9" r="4.5"/></g><g fill="#2E3192"><circle cx="1483.8" cy="320.6" r="4.5"/></g><g fill="#ADD8E6"><circle cx="1484.4" cy="325" r="4.5"/></g><g fill="#A2D65A"><circle cx="1494.5" cy="323.3" r="4.5"/></g><g fill="#ADD8E6"><circle cx="1499.5" cy="327.8" r="4.5"/></g><g fill="#C51B7D"><circle cx="1503.5" cy="334.5" r="4.5"/></g><g fill="#ADD8E6"><circle cx="1493.9" cy="336.3" r="4.5"/><circle cx="1461.3" cy="329.5" r="4.5"/><circle cx="1452.3" cy="340.1" r="4.5"/><circle cx="1477.1" cy="341.2" r="4.5"/><circle cx="1430.1" cy="339.6" r="4.5"/></g><g fill="#A2D65A"><circle cx="1513.6" cy="319.4" r="4.5"/></g><g fill="#ADD8E6"><circle cx="1533.9" cy="324.4" r="4.5"/></g><g fill="#2E3192"><circle cx="1552.4" cy="335.6" r="4.5"/></g><g fill="#ADD8E6"><circle cx="1546.8" cy="346.3" r="4.5"/><circle cx="1553.6" cy="346.9" r="4.5"/><circle cx="1500.1" cy="343.4" r="4.5"/><circle cx="1497.3" cy="349.6" r="4.5"/><circle cx="1510.3" cy="346.3" r="4.5"/><circle cx="1509.7" cy="350.2" r="4.5"/></g><g fill="#A2D65A"><circle cx="1446.7" cy="351.9" r="4.5"/></g><g fill="#ADD8E6"><circle cx="1467.5" cy="353.2" r="4.5"/><circle cx="1485.5" cy="354.1" r="4.5"/><circle cx="1484.9" cy="358" r="4.5"/><circle cx="1454" cy="361.4" r="4.5"/></g><g fill="#2E3192"><circle cx="1549" cy="359.1" r="4.5"/><circle cx="1520.3" cy="364.8" r="4.5"/><circle cx="1530.5" cy="366.4" r="4.5"/><circle cx="1519.2" cy="369.8" r="4.5"/></g><g fill="#ADD8E6"><circle cx="1461.9" cy="369.2" r="4.5"/><circle cx="1465.3" cy="369.8" r="4.5"/></g><g fill="#C51B7D"><circle cx="1481" cy="373.6" r="4.5"/></g><g fill="#ADD8E6"><circle cx="1472" cy="376.5" r="4.5"/></g><g fill="#2E3192"><circle cx="1469.8" cy="381.5" r="4.5"/></g><g fill="#ADD8E6"><circle cx="1468" cy="389.3" r="4.5"/></g><g fill="#2E3192"><circle cx="1496.8" cy="377.6" r="4.5"/></g><g fill="#ADD8E6"><circle cx="1518.7" cy="376.5" r="4.5"/></g><g fill="#2E3192"><circle cx="1520.3" cy="384.4" r="4.5"/></g><g fill="#ADD8E6"><circle cx="1510.8" cy="383.8" r="4.5"/></g><g fill="#2E3192"><circle cx="1513.6" cy="391.6" r="4.5"/><circle cx="1483.8" cy="384.9" r="4.5"/></g><g fill="#ADD8E6"><circle cx="1482.1" cy="392.1" r="4.5"/><circle cx="1486.1" cy="392.7" r="4.5"/></g><g fill="#C51B7D"><circle cx="1535.6" cy="384.9" r="4.5"/></g><g fill="#ADD8E6"><circle cx="1518.7" cy="400.5" r="4.5"/></g><g fill="#2E3192"><circle cx="1450.7" cy="319.4" r="4.5"/><circle cx="1528.8" cy="353.5" r="4.5"/><circle cx="1538.9" cy="354.1" r="4.5"/></g><g fill="#ADD8E6"><circle cx="1494.5" cy="388.2" r="4.5"/></g><g fill="#2E3192"><circle cx="1543.4" cy="387.7" r="4.5"/><circle cx="1556.3" cy="392.1" r="4.5"/><circle cx="1537.8" cy="400.5" r="4.5"/></g><g fill="#ADD8E6"><circle cx="1549.6" cy="400" r="4.5"/><circle cx="1505.2" cy="406.6" r="4.5"/></g><g fill="#2E3192"><circle cx="1524.3" cy="410.5" r="4.5"/><circle cx="1541.2" cy="414.1" r="4.5"/></g><g fill="#ADD8E6"><circle cx="1551.3" cy="418.5" r="4.5"/></g><g fill="#2E3192"><circle cx="1548.5" cy="426.7" r="4.5"/></g><g fill="#ADD8E6"><circle cx="1530.5" cy="430.6" r="4.5"/><circle cx="1521.5" cy="438.4" r="4.5"/></g><g fill="#2E3192"><circle cx="1539.1" cy="451.4" r="4.5"/><circle cx="1548.8" cy="464.7" r="4.5"/></g><g fill="#F9A55A"><circle cx="1624.5" cy="82.5" r="4.5"/></g><g fill="#2E3192"><circle cx="1639.1" cy="79.7" r="4.5"/><circle cx="1650.9" cy="84.5" r="4.5"/></g><g fill="#F9A55A"><circle cx="1644.2" cy="93.7" r="4.5"/></g><g fill="#2E3192"><circle cx="1652" cy="98.2" r="4.5"/><circle cx="1667.7" cy="93.4" r="4.5"/><circle cx="1661.6" cy="103.2" r="4.5"/><circle cx="1663.9" cy="105.9" r="4.5"/></g><g fill="#F9A55A"><circle cx="1669" cy="102.6" r="4.5"/><circle cx="1675" cy="105.9" r="4.5"/></g><g fill="#2E3192"><circle cx="1631.8" cy="108" r="4.5"/></g><g fill="#F9A55A"><circle cx="1633.5" cy="106.8" r="4.5"/></g><g fill="#2E3192"><circle cx="1603.1" cy="113.8" r="4.5"/><circle cx="1660.4" cy="120" r="4.5"/><circle cx="1652.4" cy="133.9" r="4.5"/></g><g fill="#ADD8E6"><circle cx="1571.6" cy="149.4" r="4.5"/></g><g fill="#2E3192"><circle cx="1649.8" cy="156.1" r="4.5"/></g><g fill="#ADD8E6"><circle cx="1617.1" cy="158.6" r="4.5"/></g><g fill="#2E3192"><circle cx="1655" cy="92" r="4.5"/><circle cx="1670.1" cy="98.2" r="4.5"/><circle cx="1678.8" cy="114.3" r="4.5"/><circle cx="1609.1" cy="121.1" r="4.5"/><circle cx="1608.9" cy="136" r="4.5"/><circle cx="1632.4" cy="137.1" r="4.5"/><circle cx="1638" cy="136" r="4.5"/></g><g fill="#F9A55A"><circle cx="1660.2" cy="139.3" r="4.5"/></g><g fill="#2E3192"><circle cx="1670.4" cy="133.9" r="4.5"/><circle cx="1685.2" cy="135.7" r="4.5"/><circle cx="1697.4" cy="128.9" r="4.5"/></g><g fill="#F9A55A"><circle cx="1625.6" cy="149.1" r="4.5"/></g><g fill="#2E3192"><circle cx="1658.8" cy="150.2" r="4.5"/><circle cx="1693.6" cy="146.1" r="4.5"/></g><g fill="#F9A55A"><circle cx="1688.4" cy="150.2" r="4.5"/></g><g fill="#2E3192"><circle cx="1661" cy="155.8" r="4.5"/><circle cx="1692.5" cy="158" r="4.5"/><circle cx="1655" cy="149.4" r="4.5"/><circle cx="1738.6" cy="158" r="4.5"/></g><g fill="#ADD8E6"><circle cx="1589.8" cy="158" r="4.5"/></g><g fill="#2E3192"><circle cx="1572.1" cy="167.1" r="4.5"/></g><g fill="#ADD8E6"><circle cx="1598.4" cy="174.1" r="4.5"/><circle cx="1561.5" cy="200.9" r="4.5"/><circle cx="1608.7" cy="204.3" r="4.5"/><circle cx="1567.2" cy="215.2" r="4.5"/></g><g fill="#C51B7D"><circle cx="1625.1" cy="193.2" r="4.5"/></g><g fill="#A2D65A"><circle cx="1666.1" cy="179.7" r="4.5"/></g><g fill="#2E3192"><circle cx="1565.7" cy="256.3" r="4.5"/></g><g fill="#A2D65A"><circle cx="1615.5" cy="255.8" r="4.5"/></g><g fill="#2E3192"><circle cx="1604.8" cy="262.5" r="4.5"/></g><g fill="#ADD8E6"><circle cx="1609.8" cy="263.1" r="4.5"/><circle cx="1614.9" cy="272" r="4.5"/><circle cx="1596.3" cy="279.9" r="4.5"/></g><g fill="#2E3192"><circle cx="1598.7" cy="167.7" r="4.5"/><circle cx="1599.2" cy="202" r="4.5"/><circle cx="1675.7" cy="179.7" r="4.5"/><circle cx="1716.9" cy="259.1" r="4.5"/><circle cx="1729.6" cy="169.3" r="4.5"/><circle cx="1585.7" cy="230" r="4.5"/></g><g fill="#A2D65A"><circle cx="1730.7" cy="237.3" r="4.5"/></g><g fill="#2E3192"><circle cx="1577" cy="172.9" r="4.5"/><circle cx="1586.1" cy="178.9" r="4.5"/></g><g fill="#ADD8E6"><circle cx="1566.1" cy="187" r="4.5"/></g><g fill="#2E3192"><circle cx="1615.5" cy="173.5" r="4.5"/><circle cx="1668.6" cy="169.3" r="4.5"/><circle cx="1666.1" cy="175.8" r="4.5"/></g><g fill="#C51B7D"><circle cx="1648.6" cy="178.9" r="4.5"/></g><g fill="#2E3192"><circle cx="1683.5" cy="171.1" r="4.5"/></g><g fill="#C51B7D"><circle cx="1706.5" cy="165.2" r="4.5"/></g><g fill="#2E3192"><circle cx="1713.9" cy="170.2" r="4.5"/></g><g fill="#A2D65A"><circle cx="1716.7" cy="169.6" r="4.5"/></g><g fill="#C51B7D"><circle cx="1724" cy="176.9" r="4.5"/></g><g fill="#2E3192"><circle cx="1678.5" cy="185.9" r="4.5"/></g><g fill="#F9A55A"><circle cx="1685.8" cy="184.2" r="4.5"/></g><g fill="#2E3192"><circle cx="1654.3" cy="188.6" r="4.5"/></g><g fill="#ADD8E6"><circle cx="1625.6" cy="188.6" r="4.5"/></g><g fill="#2E3192"><circle cx="1630.7" cy="195.4" r="4.5"/><circle cx="1630.2" cy="203.2" r="4.5"/></g><g fill="#ADD8E6"><circle cx="1641.1" cy="193.2" r="4.5"/></g><g fill="#C51B7D"><circle cx="1610.1" cy="195.7" r="4.5"/></g><g fill="#2E3192"><circle cx="1596.3" cy="202" r="4.5"/><circle cx="1596.1" cy="207.7" r="4.5"/><circle cx="1649.2" cy="203.2" r="4.5"/><circle cx="1703.8" cy="188.1" r="4.5"/><circle cx="1701" cy="194.3" r="4.5"/><circle cx="1713.1" cy="193.2" r="4.5"/></g><g fill="#F9A55A"><circle cx="1671.7" cy="205.4" r="4.5"/></g><g fill="#2E3192"><circle cx="1673.4" cy="209.9" r="4.5"/><circle cx="1693.6" cy="208.8" r="4.5"/><circle cx="1689.2" cy="216.1" r="4.5"/></g><g fill="#C51B7D"><circle cx="1687.4" cy="223.7" r="4.5"/><circle cx="1698.1" cy="220.5" r="4.5"/></g><g fill="#2E3192"><circle cx="1706.5" cy="220.5" r="4.5"/><circle cx="1719.5" cy="225.6" r="4.5"/></g><g fill="#ADD8E6"><circle cx="1648.6" cy="213.3" r="4.5"/></g><g fill="#2E3192"><circle cx="1659.3" cy="214.4" r="4.5"/><circle cx="1651.5" cy="221" r="4.5"/></g><g fill="#F9A55A"><circle cx="1654.6" cy="230" r="4.5"/></g><g fill="#2E3192"><circle cx="1626.7" cy="220.5" r="4.5"/><circle cx="1609.5" cy="218.8" r="4.5"/></g><g fill="#F9A55A"><circle cx="1563" cy="229.8" r="4.5"/></g><g fill="#ADD8E6"><circle cx="1589.1" cy="230.6" r="4.5"/></g><g fill="#2E3192"><circle cx="1586.5" cy="235.6" r="4.5"/><circle cx="1598.7" cy="226.7" r="4.5"/></g><g fill="#C51B7D"><circle cx="1616.6" cy="231.8" r="4.5"/></g><g fill="#2E3192"><circle cx="1617.1" cy="240.7" r="4.5"/><circle cx="1615.5" cy="245.1" r="4.5"/><circle cx="1631.3" cy="235.6" r="4.5"/><circle cx="1636.2" cy="239.3" r="4.5"/><circle cx="1632.9" cy="244" r="4.5"/></g><g fill="#F9A55A"><circle cx="1645.9" cy="243.5" r="4.5"/></g><g fill="#2E3192"><circle cx="1663.6" cy="237.3" r="4.5"/></g><g fill="#F9A55A"><circle cx="1671.7" cy="235.1" r="4.5"/><circle cx="1677.4" cy="239" r="4.5"/></g><g fill="#2E3192"><circle cx="1675.7" cy="242.4" r="4.5"/><circle cx="1685.8" cy="244" r="4.5"/><circle cx="1693.1" cy="232.3" r="4.5"/></g><g fill="#C51B7D"><circle cx="1706.5" cy="234.5" r="4.5"/></g><g fill="#2E3192"><circle cx="1712.2" cy="235.3" r="4.5"/><circle cx="1725.7" cy="243.5" r="4.5"/><circle cx="1735.8" cy="236.7" r="4.5"/><circle cx="1736.9" cy="241.8" r="4.5"/><circle cx="1721.8" cy="252.4" r="4.5"/><circle cx="1739.1" cy="257.4" r="4.5"/><circle cx="1737.5" cy="269.8" r="4.5"/></g><g fill="#F9A55A"><circle cx="1653.7" cy="251.9" r="4.5"/></g><g fill="#2E3192"><circle cx="1670.1" cy="255.8" r="4.5"/></g><g fill="#C51B7D"><circle cx="1683.5" cy="255.8" r="4.5"/></g><g fill="#2E3192"><circle cx="1696.3" cy="259.7" r="4.5"/><circle cx="1629.5" cy="255.2" r="4.5"/></g><g fill="#F9A55A"><circle cx="1640.8" cy="253" r="4.5"/></g><g fill="#2E3192"><circle cx="1641.6" cy="258" r="4.5"/><circle cx="1634" cy="263.1" r="4.5"/></g><g fill="#F9A55A"><circle cx="1634.6" cy="271.5" r="4.5"/></g><g fill="#C51B7D"><circle cx="1655.7" cy="268.4" r="4.5"/></g><g fill="#2E3192"><circle cx="1663.9" cy="273.7" r="4.5"/><circle cx="1671.2" cy="272.6" r="4.5"/><circle cx="1683" cy="272.6" r="4.5"/><circle cx="1689.2" cy="269.8" r="4.5"/><circle cx="1695.4" cy="272.6" r="4.5"/><circle cx="1680.7" cy="277.5" r="4.5"/><circle cx="1689.7" cy="277" r="4.5"/><circle cx="1651.5" cy="279.3" r="4.5"/></g><g fill="#ADD8E6"><circle cx="1608.2" cy="255.8" r="4.5"/></g><g fill="#2E3192"><circle cx="1570.5" cy="260.3" r="4.5"/><circle cx="1575.6" cy="264.2" r="4.5"/><circle cx="1563.7" cy="269.2" r="4.5"/></g><g fill="#ADD8E6"><circle cx="1566.6" cy="274.2" r="4.5"/></g><g fill="#2E3192"><circle cx="1584.5" cy="275.9" r="4.5"/><circle cx="1562.1" cy="279.3" r="4.5"/></g><g fill="#ADD8E6"><circle cx="1595.2" cy="285.3" r="4.5"/></g><g fill="#2E3192"><circle cx="1631.8" cy="285.8" r="4.5"/><circle cx="1638" cy="284.7" r="4.5"/></g><g fill="#F9A55A"><circle cx="1654.8" cy="285.8" r="4.5"/></g><g fill="#2E3192"><circle cx="1660.4" cy="289.3" r="4.5"/><circle cx="1653.7" cy="293.7" r="4.5"/><circle cx="1611.6" cy="292" r="4.5"/><circle cx="1621.3" cy="296.5" r="4.5"/><circle cx="1631.8" cy="301" r="4.5"/><circle cx="1643.6" cy="299.3" r="4.5"/></g><g fill="#F9A55A"><circle cx="1650.4" cy="302.1" r="4.5"/></g><g fill="#2E3192"><circle cx="1693.1" cy="292.6" r="4.5"/><circle cx="1708.9" cy="293.7" r="4.5"/><circle cx="1708.3" cy="300.4" r="4.5"/></g><g fill="#F9A55A"><circle cx="1716.7" cy="284.7" r="4.5"/></g><g fill="#2E3192"><circle cx="1722.3" cy="283.6" r="4.5"/><circle cx="1731.8" cy="283.6" r="4.5"/><circle cx="1726.9" cy="294.8" r="4.5"/><circle cx="1731.3" cy="297.7" r="4.5"/><circle cx="1579" cy="310.5" r="4.5"/><circle cx="1586.3" cy="307.7" r="4.5"/><circle cx="1585.4" cy="317.8" r="4.5"/><circle cx="1595.8" cy="311.6" r="4.5"/></g><g fill="#C51B7D"><circle cx="1610.4" cy="308.3" r="4.5"/></g><g fill="#2E3192"><circle cx="1617.8" cy="314.9" r="4.5"/><circle cx="1620.5" cy="319.4" r="4.5"/><circle cx="1634.6" cy="313.8" r="4.5"/><circle cx="1644.2" cy="309.6" r="4.5"/></g><g fill="#F9A55A"><circle cx="1663.3" cy="313.8" r="4.5"/></g><g fill="#2E3192"><circle cx="1672.3" cy="311.6" r="4.5"/><circle cx="1669.5" cy="318.9" r="4.5"/></g><g fill="#C51B7D"><circle cx="1662.1" cy="322.8" r="4.5"/></g><g fill="#2E3192"><circle cx="1698.1" cy="309.9" r="4.5"/><circle cx="1707.7" cy="310.5" r="4.5"/></g><g fill="#C51B7D"><circle cx="1716.7" cy="312.7" r="4.5"/></g><g fill="#2E3192"><circle cx="1691.4" cy="317.8" r="4.5"/><circle cx="1698.7" cy="320" r="4.5"/></g><g fill="#ADD8E6"><circle cx="1708.3" cy="324.1" r="4.5"/></g><g fill="#2E3192"><circle cx="1732.4" cy="321.7" r="4.5"/><circle cx="1694.2" cy="330.6" r="4.5"/><circle cx="1721.8" cy="327.3" r="4.5"/><circle cx="1726.9" cy="330.1" r="4.5"/><circle cx="1720.7" cy="332.8" r="4.5"/></g><g fill="#C51B7D"><circle cx="1566.3" cy="326.7" r="4.5"/></g><g fill="#2E3192"><circle cx="1587.4" cy="337.1" r="4.5"/><circle cx="1599.8" cy="341.2" r="4.5"/><circle cx="1594.7" cy="346.9" r="4.5"/></g><g fill="#F9A55A"><circle cx="1595.8" cy="352.4" r="4.5"/></g><g fill="#2E3192"><circle cx="1610.4" cy="339.6" r="4.5"/><circle cx="1611" cy="345.8" r="4.5"/><circle cx="1623.3" cy="340.1" r="4.5"/><circle cx="1647" cy="336.3" r="4.5"/></g><g fill="#C51B7D"><circle cx="1649.2" cy="345.8" r="4.5"/><circle cx="1642.4" cy="349.6" r="4.5"/></g><g fill="#2E3192"><circle cx="1635.1" cy="348.5" r="4.5"/><circle cx="1634" cy="357.5" r="4.5"/></g><g fill="#C51B7D"><circle cx="1658.2" cy="350.2" r="4.5"/></g><g fill="#2E3192"><circle cx="1662.1" cy="353" r="4.5"/><circle cx="1656" cy="360.3" r="4.5"/></g><g fill="#ADD8E6"><circle cx="1683.5" cy="340.7" r="4.5"/></g><g fill="#2E3192"><circle cx="1679.6" cy="344.6" r="4.5"/></g><g fill="#C51B7D"><circle cx="1690.8" cy="343.4" r="4.5"/></g><g fill="#2E3192"><circle cx="1683.5" cy="350.2" r="4.5"/><circle cx="1679.6" cy="354.1" r="4.5"/><circle cx="1697.6" cy="351" r="4.5"/><circle cx="1714.5" cy="342.3" r="4.5"/><circle cx="1732.2" cy="346.5" r="4.5"/></g><g fill="#C51B7D"><circle cx="1564.3" cy="355.8" r="4.5"/></g><g fill="#2E3192"><circle cx="1570.5" cy="363" r="4.5"/><circle cx="1572.8" cy="368.7" r="4.5"/><circle cx="1599.2" cy="367" r="4.5"/></g><g fill="#C51B7D"><circle cx="1615.5" cy="364.1" r="4.5"/></g><g fill="#F9A55A"><circle cx="1646.4" cy="363" r="4.5"/></g><g fill="#C51B7D"><circle cx="1656" cy="368.7" r="4.5"/></g><g fill="#F9A55A"><circle cx="1678.5" cy="363" r="4.5"/></g><g fill="#2E3192"><circle cx="1677.9" cy="369.8" r="4.5"/></g><g fill="#C51B7D"><circle cx="1634.6" cy="372" r="4.5"/></g><g fill="#2E3192"><circle cx="1667.2" cy="373.1" r="4.5"/><circle cx="1648.6" cy="376" r="4.5"/><circle cx="1713.9" cy="362.5" r="4.5"/></g><g fill="#ADD8E6"><circle cx="1730.2" cy="370.6" r="4.5"/><circle cx="1739.1" cy="367" r="4.5"/></g><g fill="#2E3192"><circle cx="1577.2" cy="380.4" r="4.5"/><circle cx="1580.1" cy="384.9" r="4.5"/><circle cx="1596.3" cy="378.2" r="4.5"/></g><g fill="#F9A55A"><circle cx="1609.3" cy="379.3" r="4.5"/><circle cx="1621.1" cy="383.8" r="4.5"/><circle cx="1654.3" cy="383.8" r="4.5"/></g><g fill="#2E3192"><circle cx="1666.6" cy="384.4" r="4.5"/><circle cx="1671.7" cy="388.2" r="4.5"/><circle cx="1699.8" cy="381.5" r="4.5"/><circle cx="1695.4" cy="386" r="4.5"/><circle cx="1700.3" cy="388.2" r="4.5"/><circle cx="1711.6" cy="389.3" r="4.5"/><circle cx="1563.7" cy="391" r="4.5"/></g><g fill="#C51B7D"><circle cx="1570.5" cy="396.6" r="4.5"/></g><g fill="#F9A55A"><circle cx="1582.9" cy="392.7" r="4.5"/></g><g fill="#2E3192"><circle cx="1590.7" cy="390.4" r="4.5"/></g><g fill="#C51B7D"><circle cx="1595.8" cy="392.1" r="4.5"/></g><g fill="#A2D65A"><circle cx="1608.7" cy="393.3" r="4.5"/></g><g fill="#2E3192"><circle cx="1614.4" cy="391" r="4.5"/><circle cx="1641.3" cy="393.9" r="4.5"/><circle cx="1680.7" cy="394.4" r="4.5"/><circle cx="1676.2" cy="397.7" r="4.5"/><circle cx="1687.4" cy="398.8" r="4.5"/><circle cx="1722.3" cy="395" r="4.5"/><circle cx="1733.1" cy="398.8" r="4.5"/><circle cx="1625.6" cy="398.3" r="4.5"/><circle cx="1620" cy="400" r="4.5"/><circle cx="1588.5" cy="287.8" r="4.5"/><circle cx="1605.4" cy="286.4" r="4.5"/><circle cx="1575" cy="294.8" r="4.5"/></g><g fill="#ADD8E6"><circle cx="1674.5" cy="301" r="4.5"/></g><g fill="#F9A55A"><circle cx="1565.4" cy="336.8" r="4.5"/></g><g fill="#ADD8E6"><circle cx="1611" cy="353" r="4.5"/></g><g fill="#2E3192"><circle cx="1609.3" cy="321.4" r="4.5"/><circle cx="1562.6" cy="405.5" r="4.5"/><circle cx="1637.5" cy="406" r="4.5"/><circle cx="1654.8" cy="406" r="4.5"/><circle cx="1657.7" cy="408.2" r="4.5"/></g><g fill="#ADD8E6"><circle cx="1668.3" cy="404.4" r="4.5"/></g><g fill="#F9A55A"><circle cx="1728" cy="407.7" r="4.5"/></g><g fill="#2E3192"><circle cx="1702.1" cy="411" r="4.5"/></g><g fill="#C51B7D"><circle cx="1705.4" cy="411" r="4.5"/></g><g fill="#2E3192"><circle cx="1593" cy="416.6" r="4.5"/><circle cx="1586.3" cy="421.7" r="4.5"/></g><g fill="#F9A55A"><circle cx="1590.7" cy="427.8" r="4.5"/></g><g fill="#2E3192"><circle cx="1602.5" cy="415.5" r="4.5"/><circle cx="1607.6" cy="413.3" r="4.5"/><circle cx="1606" cy="426.2" r="4.5"/><circle cx="1638" cy="414.4" r="4.5"/><circle cx="1629" cy="421.7" r="4.5"/><circle cx="1637.5" cy="422.8" r="4.5"/></g><g fill="#F9A55A"><circle cx="1647" cy="424.5" r="4.5"/><circle cx="1659.9" cy="423.4" r="4.5"/></g><g fill="#2E3192"><circle cx="1669" cy="418.9" r="4.5"/><circle cx="1739.1" cy="422.8" r="4.5"/></g><g fill="#F9A55A"><circle cx="1713.3" cy="428.1" r="4.5"/></g><g fill="#2E3192"><circle cx="1684.1" cy="432" r="4.5"/><circle cx="1701.6" cy="432.3" r="4.5"/><circle cx="1739.1" cy="434" r="4.5"/><circle cx="1602" cy="435.1" r="4.5"/><circle cx="1606.5" cy="437.3" r="4.5"/></g><g fill="#A2D65A"><circle cx="1613.3" cy="440.7" r="4.5"/></g><g fill="#2E3192"><circle cx="1624.5" cy="432.9" r="4.5"/><circle cx="1630.2" cy="434" r="4.5"/></g><g fill="#F9A55A"><circle cx="1634.6" cy="442.4" r="4.5"/></g><g fill="#2E3192"><circle cx="1643.1" cy="432.3" r="4.5"/><circle cx="1647" cy="430.6" r="4.5"/></g><g fill="#ADD8E6"><circle cx="1648.1" cy="440.7" r="4.5"/></g><g fill="#2E3192"><circle cx="1658.8" cy="441.9" r="4.5"/><circle cx="1663.3" cy="441.9" r="4.5"/><circle cx="1679" cy="440.1" r="4.5"/></g><g fill="#C51B7D"><circle cx="1703.2" cy="443" r="4.5"/></g><g fill="#2E3192"><circle cx="1709.4" cy="437.3" r="4.5"/></g><g fill="#C51B7D"><circle cx="1712.7" cy="443.8" r="4.5"/></g><g fill="#ADD8E6"><circle cx="1735.8" cy="449.4" r="4.5"/></g><g fill="#2E3192"><circle cx="1571" cy="447.2" r="4.5"/></g><g fill="#ADD8E6"><circle cx="1583.7" cy="447.9" r="4.5"/></g><g fill="#2E3192"><circle cx="1640.8" cy="449.6" r="4.5"/><circle cx="1632.9" cy="456.3" r="4.5"/><circle cx="1634.6" cy="459.8" r="4.5"/></g><g fill="#F9A55A"><circle cx="1625.1" cy="462" r="4.5"/></g><g fill="#A2D65A"><circle cx="1658.2" cy="456.3" r="4.5"/></g><g fill="#2E3192"><circle cx="1656.6" cy="458.6" r="4.5"/></g><g fill="#ADD8E6"><circle cx="1650.4" cy="464.7" r="4.5"/></g><g fill="#F9A55A"><circle cx="1686.3" cy="462" r="4.5"/><circle cx="1680.7" cy="468.6" r="4.5"/><circle cx="1707.1" cy="457.7" r="4.5"/></g><g fill="#C51B7D"><circle cx="1720.7" cy="465.3" r="4.5"/></g><g fill="#A2D65A"><circle cx="1722.3" cy="467.5" r="4.5"/></g><g fill="#2E3192"><circle cx="1594.1" cy="464.2" r="4.5"/><circle cx="1599.8" cy="463.1" r="4.5"/><circle cx="1606" cy="459.8" r="4.5"/></g><g fill="#C51B7D"><circle cx="1610.7" cy="468.6" r="4.5"/></g><g fill="#F9A55A"><circle cx="1618.3" cy="471.5" r="4.5"/></g><g fill="#2E3192"><circle cx="1637.5" cy="469.8" r="4.5"/><circle cx="1656.6" cy="481.2" r="4.5"/><circle cx="1618.3" cy="493.8" r="4.5"/></g><g fill="#ADD8E6"><circle cx="1582" cy="416.6" r="4.5"/></g><g fill="#2E3192"><circle cx="1571.4" cy="460.9" r="4.5"/><circle cx="1585.2" cy="473.4" r="4.5"/><circle cx="1587.9" cy="490.5" r="4.5"/></g><g fill="#ADD8E6"><circle cx="1747.7" cy="184" r="4.5"/></g><g fill="#2E3192"><circle cx="1744.3" cy="204.7" r="4.5"/><circle cx="1752.2" cy="209.1" r="4.5"/></g><g fill="#C51B7D"><circle cx="1759.6" cy="216.4" r="4.5"/></g><g fill="#2E3192"><circle cx="1745.4" cy="215.3" r="4.5"/><circle cx="1746.6" cy="233.1" r="4.5"/><circle cx="1748.9" cy="238.1" r="4.5"/></g><g fill="#C51B7D"><circle cx="1765.5" cy="234" r="4.5"/></g><g fill="#2E3192"><circle cx="1773.1" cy="245.6" r="4.5"/><circle cx="1742.1" cy="257.6" r="4.5"/><circle cx="1752.2" cy="257.1" r="4.5"/><circle cx="1747.7" cy="264.4" r="4.5"/><circle cx="1748.9" cy="268.8" r="4.5"/><circle cx="1755.6" cy="270.6" r="4.5"/><circle cx="1760.7" cy="273.3" r="4.5"/><circle cx="1786" cy="264.9" r="4.5"/><circle cx="1793.8" cy="273.1" r="4.5"/><circle cx="1770.4" cy="284.7" r="4.5"/><circle cx="1753.9" cy="291" r="4.5"/><circle cx="1757.8" cy="300.2" r="4.5"/><circle cx="1765.2" cy="296.8" r="4.5"/><circle cx="1765.2" cy="301.3" r="4.5"/><circle cx="1748.9" cy="304.6" r="4.5"/><circle cx="1748.3" cy="310.3" r="4.5"/><circle cx="1776.4" cy="311.6" r="4.5"/></g><g fill="#F9A55A"><circle cx="1797.2" cy="332.1" r="4.5"/></g><g fill="#C51B7D"><circle cx="1751.1" cy="333.5" r="4.5"/></g><g fill="#2E3192"><circle cx="1768" cy="340.5" r="4.5"/><circle cx="1767.4" cy="252.3" r="4.5"/><circle cx="1801.1" cy="296.2" r="4.5"/><circle cx="1804.6" cy="311.2" r="4.5"/><circle cx="1820.8" cy="314.5" r="4.5"/></g><g fill="#A2D65A"><circle cx="1781.7" cy="320.1" r="4.5"/></g><g fill="#F9A55A"><circle cx="1797.5" cy="323.7" r="4.5"/></g><g fill="#2E3192"><circle cx="1813.5" cy="331.3" r="4.5"/><circle cx="1791.1" cy="335.4" r="4.5"/><circle cx="1755.6" cy="338.2" r="4.5"/></g><g fill="#C51B7D"><circle cx="1839.7" cy="339.9" r="4.5"/></g><g fill="#2E3192"><circle cx="1787.6" cy="290.7" r="4.5"/><circle cx="1770.2" cy="353.2" r="4.5"/></g><g fill="#F9A55A"><circle cx="1773.1" cy="355.5" r="4.5"/></g><g fill="#2E3192"><circle cx="1753.2" cy="360.5" r="4.5"/><circle cx="1751.1" cy="380" r="4.5"/><circle cx="1761.2" cy="389" r="4.5"/></g><g fill="#C51B7D"><circle cx="1754.5" cy="403" r="4.5"/></g><g fill="#ADD8E6"><circle cx="1782.6" cy="410" r="4.5"/></g><g fill="#2E3192"><circle cx="1745.4" cy="414.8" r="4.5"/><circle cx="1762.3" cy="424.3" r="4.5"/></g><g fill="#C51B7D"><circle cx="1774.2" cy="431.3" r="4.5"/></g><g fill="#F9A55A"><circle cx="1753.9" cy="439.5" r="4.5"/><circle cx="1768" cy="455.6" r="4.5"/><circle cx="1791.6" cy="458.9" r="4.5"/><circle cx="1823.1" cy="391" r="4.5"/></g><g fill="#A2D65A"><circle cx="1747.7" cy="354.9" r="4.5"/></g><g fill="#F9A55A"><circle cx="1756.5" cy="357.2" r="4.5"/></g><g fill="#2E3192"><circle cx="1849.5" cy="346.3" r="4.5"/><circle cx="1827.8" cy="353.2" r="4.5"/><circle cx="1817.5" cy="359.4" r="4.5"/></g><g fill="#A2D65A"><circle cx="1811" cy="368.9" r="4.5"/></g><g fill="#F9A55A"><circle cx="1819.1" cy="375.8" r="4.5"/></g><g fill="#A2D65A"><circle cx="1827.8" cy="380.6" r="4.5"/></g><g fill="#2E3192"><circle cx="1840.5" cy="364.3" r="4.5"/></g><g fill="#F9A55A"><circle cx="1838.8" cy="372.2" r="4.5"/></g><g fill="#2E3192"><circle cx="1833.2" cy="372.8" r="4.5"/></g><g fill="#F9A55A"><circle cx="1850.1" cy="362.7" r="4.5"/></g><g fill="#2E3192"><circle cx="1860.7" cy="365.6" r="4.5"/><circle cx="1862.5" cy="354.9" r="4.5"/><circle cx="1878.2" cy="373.3" r="4.5"/><circle cx="1881" cy="378.9" r="4.5"/></g><g fill="#F9A55A"><circle cx="1874.8" cy="382.8" r="4.5"/><circle cx="1880.4" cy="386.8" r="4.5"/></g><g fill="#2E3192"><circle cx="1892.8" cy="399.6" r="4.5"/></g><g fill="#F9A55A"><circle cx="1876.8" cy="401.8" r="4.5"/><circle cx="1865.2" cy="396.9" r="4.5"/></g><g fill="#A2D65A"><circle cx="1853.4" cy="385.7" r="4.5"/></g><g fill="#2E3192"><circle cx="1859" cy="390.1" r="4.5"/></g><g fill="#F9A55A"><circle cx="1847.8" cy="387.9" r="4.5"/><circle cx="1843.3" cy="394.1" r="4.5"/></g><g fill="#2E3192"><circle cx="1851.8" cy="399.1" r="4.5"/><circle cx="1850.6" cy="402.4" r="4.5"/><circle cx="1828.1" cy="396.3" r="4.5"/><circle cx="1804" cy="397.7" r="4.5"/></g><g fill="#F9A55A"><circle cx="1793.8" cy="397.7" r="4.5"/></g><g fill="#2E3192"><circle cx="1789.3" cy="403" r="4.5"/></g><g fill="#A2D65A"><circle cx="1841.6" cy="406.9" r="4.5"/></g><g fill="#F9A55A"><circle cx="1847.8" cy="413.4" r="4.5"/><circle cx="1842.1" cy="422.6" r="4.5"/></g><g fill="#A2D65A"><circle cx="1860.2" cy="412.6" r="4.5"/></g><g fill="#F9A55A"><circle cx="1865.8" cy="418.1" r="4.5"/><circle cx="1856.8" cy="422.1" r="4.5"/><circle cx="1862.5" cy="423.2" r="4.5"/><circle cx="1871.4" cy="427" r="4.5"/><circle cx="1859" cy="430.9" r="4.5"/></g><g fill="#2E3192"><circle cx="1866.3" cy="436" r="4.5"/></g><g fill="#A2D65A"><circle cx="1877.1" cy="417" r="4.5"/></g><g fill="#F9A55A"><circle cx="1852.3" cy="442.5" r="4.5"/><circle cx="1874.8" cy="442.7" r="4.5"/></g><g fill="#2E3192"><circle cx="1778.7" cy="440.4" r="4.5"/></g><g fill="#C51B7D"><circle cx="1790.4" cy="445.2" r="4.5"/></g><g fill="#F9A55A"><circle cx="1799.5" cy="429.3" r="4.5"/></g><g fill="#A2D65A"><circle cx="1805.1" cy="429.3" r="4.5"/></g><g fill="#F9A55A"><circle cx="1814.6" cy="429.5" r="4.5"/></g><g fill="#A2D65A"><circle cx="1828.1" cy="430.1" r="4.5"/></g><g fill="#ADD8E6"><circle cx="1817.5" cy="438.2" r="4.5"/></g><g fill="#F9A55A"><circle cx="1811.3" cy="442.2" r="4.5"/><circle cx="1827" cy="441.1" r="4.5"/></g><g fill="#A2D65A"><circle cx="1827" cy="443.8" r="4.5"/></g><g fill="#2E3192"><circle cx="1836.1" cy="438.2" r="4.5"/></g><g fill="#F9A55A"><circle cx="1838.3" cy="446.1" r="4.5"/><circle cx="1837.7" cy="453.9" r="4.5"/><circle cx="1803.3" cy="447.2" r="4.5"/><circle cx="1807.3" cy="455.6" r="4.5"/><circle cx="1828.1" cy="457.2" r="4.5"/><circle cx="1855.2" cy="453.9" r="4.5"/></g><g fill="#A2D65A"><circle cx="1862.5" cy="456.7" r="4.5"/></g><g fill="#F9A55A"><circle cx="1799.5" cy="461.2" r="4.5"/></g><g fill="#C51B7D"><circle cx="1804.6" cy="451.5" r="4.5"/></g><g fill="#2E3192"><circle cx="1829.9" cy="462.1" r="4.5"/></g><g fill="#C51B7D"><circle cx="1854" cy="460.5" r="4.5"/></g><g fill="#A2D65A"><circle cx="1809" cy="465.4" r="4.5"/><circle cx="1817.5" cy="465.4" r="4.5"/></g><g fill="#F9A55A"><circle cx="1769.1" cy="465.2" r="4.5"/><circle cx="1834.3" cy="472.2" r="4.5"/><circle cx="1841" cy="472.7" r="4.5"/></g><g fill="#A2D65A"><circle cx="1841.6" cy="478.3" r="4.5"/></g><g fill="#F9A55A"><circle cx="1850.6" cy="473.9" r="4.5"/><circle cx="1828.7" cy="485" r="4.5"/></g><g fill="#A2D65A"><circle cx="1832.1" cy="485" r="4.5"/><circle cx="1809.3" cy="487.6" r="4.5"/></g><g fill="#2E3192"><circle cx="1801.1" cy="473.9" r="4.5"/></g><g fill="#F9A55A"><circle cx="1815.2" cy="472.7" r="4.5"/><circle cx="1856.8" cy="471.6" r="4.5"/></g><g fill="#A2D65A"><circle cx="1514.5" cy="163.9" r="4.5"/><circle cx="1444.4" cy="273.5" r="4.5"/></g><g fill="#2E3192"><circle cx="1561.7" cy="275.1" r="4.5"/></g><g fill="#ADD8E6"><circle cx="1567.2" cy="391.3" r="4.5"/></g><g fill="#A2D65A"><circle cx="1744.4" cy="366.4" r="4.5"/><circle cx="1845.7" cy="410.7" r="4.5"/><circle cx="1878" cy="415.7" r="4.5"/></g><g fill="#F9A55A"><circle cx="1842.9" cy="419.6" r="4.5"/><circle cx="1866.7" cy="415.7" r="4.5"/><circle cx="1870.6" cy="419" r="4.5"/></g><g fill="#2E3192"><circle cx="1743.6" cy="447.6" r="4.5"/><circle cx="1867.3" cy="432.1" r="4.5"/></g><g fill="#F9A55A"><circle cx="1855.4" cy="456.5" r="4.5"/><circle cx="1870.1" cy="420.5" r="4.5"/></g><g fill="#A2D65A"><circle cx="1835.2" cy="446.5" r="4.5"/></g><g fill="#ADD8E6"><circle cx="1737.2" cy="449.3" r="4.5"/></g><g fill="#B0B0B0"><circle cx="128" cy="648.5" r="3.1"/><circle cx="100.8" cy="648.8" r="3.1"/><circle cx="261.3" cy="672.1" r="3.1"/><circle cx="124.8" cy="649.8" r="3.1"/><circle cx="255.8" cy="705.2" r="3.1"/><circle cx="313" cy="909.9" r="3.1"/><circle cx="300.8" cy="942.3" r="3.1"/><circle cx="278.4" cy="834.1" r="3.1"/><circle cx="143.6" cy="710.6" r="3.1"/><circle cx="141.1" cy="740.9" r="3.1"/><circle cx="253.2" cy="935.9" r="3.1"/><circle cx="178.6" cy="855.1" r="3.1"/><circle cx="219.6" cy="746" r="3.1"/><circle cx="268.6" cy="871.7" r="3.1"/><circle cx="190.9" cy="792.6" r="3.1"/><circle cx="184.8" cy="806.3" r="3.1"/><circle cx="67" cy="696.6" r="3.1"/><circle cx="393.7" cy="895.3" r="3.1"/><circle cx="249.5" cy="806.3" r="3.1"/><circle cx="60.3" cy="700.4" r="3.1"/><circle cx="135.4" cy="847.5" r="3.1"/><circle cx="261.9" cy="726.9" r="3.1"/><circle cx="146.8" cy="857.5" r="3.1"/><circle cx="84.5" cy="673.5" r="3.1"/><circle cx="82.7" cy="681.8" r="3.1"/><circle cx="113" cy="767.8" r="3.1"/><circle cx="73.1" cy="783.7" r="3.1"/><circle cx="306.5" cy="872.3" r="3.1"/><circle cx="220.2" cy="859.6" r="3.1"/><circle cx="202.1" cy="733.8" r="3.1"/><circle cx="86.1" cy="748.6" r="3.1"/><circle cx="169.6" cy="903.7" r="3.1"/><circle cx="219.8" cy="827.3" r="3.1"/><circle cx="380.3" cy="954.9" r="3.1"/><circle cx="268.3" cy="777.3" r="3.1"/><circle cx="263" cy="789.4" r="3.1"/><circle cx="307.3" cy="819.6" r="3.1"/><circle cx="291.4" cy="920.5" r="3.1"/><circle cx="366.9" cy="843.9" r="3.1"/><circle cx="73.2" cy="680.8" r="3.1"/><circle cx="121" cy="722.5" r="3.1"/><circle cx="203.1" cy="848.1" r="3.1"/><circle cx="395.8" cy="883.2" r="3.1"/><circle cx="376.6" cy="923.2" r="3.1"/><circle cx="251.1" cy="786.5" r="3.1"/><circle cx="63.3" cy="705.4" r="3.1"/><circle cx="150" cy="755.4" r="3.1"/><circle cx="103.3" cy="655.8" r="3.1"/><circle cx="266.6" cy="681.2" r="3.1"/><circle cx="310.6" cy="775.6" r="3.1"/><circle cx="91.4" cy="768.9" r="3.1"/><circle cx="402.3" cy="860.9" r="3.1"/><circle cx="164.3" cy="838.9" r="3.1"/><circle cx="106" cy="743.6" r="3.1"/><circle cx="260.1" cy="731.6" r="3.1"/><circle cx="304.1" cy="843" r="3.1"/><circle cx="285.3" cy="744.9" r="3.1"/><circle cx="393.3" cy="866.6" r="3.1"/><circle cx="112.2" cy="871.3" r="3.1"/><circle cx="237.3" cy="873.3" r="3.1"/><circle cx="143.6" cy="898.3" r="3.1"/><circle cx="119.5" cy="876.5" r="3.1"/><circle cx="258.5" cy="681.2" r="3.1"/><circle cx="177.8" cy="784.5" r="3.1"/><circle cx="126.1" cy="874.5" r="3.1"/><circle cx="73.3" cy="684.8" r="3.1"/><circle cx="413.7" cy="874.3" r="3.1"/><circle cx="97.5" cy="845.4" r="3.1"/><circle cx="208.8" cy="810.7" r="3.1"/><circle cx="227.5" cy="881.8" r="3.1"/><circle cx="242" cy="744.1" r="3.1"/><circle cx="269.3" cy="687.2" r="3.1"/><circle cx="111.3" cy="762.2" r="3.1"/><circle cx="257.2" cy="859.6" r="3.1"/><circle cx="76" cy="691.3" r="3.1"/><circle cx="144.7" cy="817.6" r="3.1"/><circle cx="169" cy="781.1" r="3.1"/><circle cx="105.7" cy="713.3" r="3.1"/><circle cx="204.9" cy="718.7" r="3.1"/><circle cx="243" cy="857.1" r="3.1"/><circle cx="161.9" cy="869.2" r="3.1"/><circle cx="411.2" cy="881.1" r="3.1"/><circle cx="230.4" cy="744.1" r="3.1"/><circle cx="123.6" cy="697.1" r="3.1"/><circle cx="106.9" cy="802.7" r="3.1"/><circle cx="75.1" cy="731.2" r="3.1"/><circle cx="168" cy="737.3" r="3.1"/><circle cx="161.6" cy="743.3" r="3.1"/><circle cx="218.8" cy="692.1" r="3.1"/><circle cx="60.9" cy="792.8" r="3.1"/><circle cx="150.5" cy="819.6" r="3.1"/><circle cx="97.5" cy="760.8" r="3.1"/><circle cx="195.6" cy="729.5" r="3.1"/><circle cx="157.4" cy="901.1" r="3.1"/><circle cx="402.3" cy="934.5" r="3.1"/><circle cx="56.8" cy="753.4" r="3.1"/><circle cx="68" cy="751.1" r="3.1"/><circle cx="104.4" cy="668.2" r="3.1"/><circle cx="116.6" cy="885.8" r="3.1"/><circle cx="153.4" cy="893.9" r="3.1"/><circle cx="68.2" cy="702.6" r="3.1"/><circle cx="74" cy="673.5" r="3.1"/><circle cx="192.1" cy="725.3" r="3.1"/><circle cx="123.6" cy="791.2" r="3.1"/><circle cx="181" cy="778.9" r="3.1"/><circle cx="185.4" cy="770.6" r="3.1"/><circle cx="64.6" cy="803.5" r="3.1"/><circle cx="234.1" cy="751.4" r="3.1"/><circle cx="100.8" cy="675.5" r="3.1"/><circle cx="294.2" cy="744.1" r="3.1"/><circle cx="138.6" cy="643.2" r="3.1"/><circle cx="356.7" cy="914.7" r="3.1"/><circle cx="89.2" cy="849.9" r="3.1"/><circle cx="328.6" cy="802" r="3.1"/><circle cx="218.7" cy="702.8" r="3.1"/><circle cx="128" cy="836.2" r="3.1"/><circle cx="126.4" cy="670.3" r="3.1"/><circle cx="248.3" cy="717.4" r="3.1"/><circle cx="236" cy="780.8" r="3.1"/><circle cx="233.3" cy="909.1" r="3.1"/><circle cx="130" cy="774.4" r="3.1"/><circle cx="78.4" cy="767.9" r="3.1"/><circle cx="312.6" cy="718.7" r="3.1"/><circle cx="260.9" cy="874.1" r="3.1"/><circle cx="242.2" cy="889.1" r="3.1"/><circle cx="139.1" cy="757.3" r="3.1"/><circle cx="165.1" cy="759" r="3.1"/><circle cx="127.2" cy="830.1" r="3.1"/><circle cx="270.7" cy="889.4" r="3.1"/><circle cx="186.4" cy="861.6" r="3.1"/><circle cx="75.1" cy="698.8" r="3.1"/><circle cx="211" cy="730.3" r="3.1"/><circle cx="313" cy="869.7" r="3.1"/><circle cx="195.7" cy="879.4" r="3.1"/><circle cx="190.9" cy="866.8" r="3.1"/><circle cx="273.1" cy="916.6" r="3.1"/><circle cx="311.4" cy="779.2" r="3.1"/><circle cx="99.9" cy="792.2" r="3.1"/><circle cx="91" cy="840.2" r="3.1"/><circle cx="252.1" cy="671.1" r="3.1"/><circle cx="373.8" cy="887" r="3.1"/><circle cx="247.4" cy="758.7" r="3.1"/><circle cx="64.1" cy="724.3" r="3.1"/><circle cx="235.2" cy="682.6" r="3.1"/><circle cx="329.8" cy="911" r="3.1"/><circle cx="272.3" cy="801.5" r="3.1"/><circle cx="185.9" cy="887" r="3.1"/><circle cx="87.4" cy="652.8" r="3.1"/><circle cx="405.1" cy="919.5" r="3.1"/><circle cx="139.4" cy="841.3" r="3.1"/><circle cx="229.9" cy="664.2" r="3.1"/><circle cx="128.9" cy="697.7" r="3.1"/><circle cx="412.9" cy="905.8" r="3.1"/><circle cx="173.3" cy="786.1" r="3.1"/><circle cx="128.5" cy="839.4" r="3.1"/><circle cx="242.4" cy="791" r="3.1"/><circle cx="130.9" cy="748.1" r="3.1"/><circle cx="66" cy="769.2" r="3.1"/><circle cx="133" cy="816.3" r="3.1"/><circle cx="276.8" cy="760.7" r="3.1"/><circle cx="320.1" cy="776.6" r="3.1"/><circle cx="161.9" cy="915.6" r="3.1"/><circle cx="269.1" cy="738.9" r="3.1"/><circle cx="130.8" cy="662.8" r="3.1"/><circle cx="96.7" cy="843" r="3.1"/><circle cx="264.2" cy="753" r="3.1"/><circle cx="113.8" cy="791.2" r="3.1"/><circle cx="147.6" cy="659.3" r="3.1"/><circle cx="147.2" cy="854.7" r="3.1"/><circle cx="377.2" cy="859.7" r="3.1"/><circle cx="88.3" cy="777.8" r="3.1"/><circle cx="205.5" cy="886.6" r="3.1"/><circle cx="203.5" cy="958.8" r="3.1"/><circle cx="123.2" cy="851.1" r="3.1"/><circle cx="201.8" cy="770.8" r="3.1"/><circle cx="118.8" cy="652.8" r="3.1"/><circle cx="249.1" cy="665.7" r="3.1"/><circle cx="252.7" cy="864.8" r="3.1"/><circle cx="252.6" cy="798.5" r="3.1"/><circle cx="143.9" cy="790.4" r="3.1"/><circle cx="220.2" cy="854.3" r="3.1"/><circle cx="106.5" cy="648" r="3.1"/><circle cx="313" cy="790.6" r="3.1"/><circle cx="256" cy="813.5" r="3.1"/><circle cx="87.4" cy="705" r="3.1"/><circle cx="321.7" cy="845.5" r="3.1"/><circle cx="96.3" cy="814.3" r="3.1"/><circle cx="86.1" cy="815.1" r="3.1"/><circle cx="260.1" cy="734.4" r="3.1"/><circle cx="120.3" cy="833.3" r="3.1"/><circle cx="116.3" cy="859.7" r="3.1"/><circle cx="70" cy="741.7" r="3.1"/><circle cx="223.5" cy="730" r="3.1"/><circle cx="128.9" cy="863.2" r="3.1"/><circle cx="299.6" cy="940.7" r="3.1"/><circle cx="106.5" cy="797.4" r="3.1"/><circle cx="350.2" cy="926.1" r="3.1"/><circle cx="207.1" cy="905.5" r="3.1"/><circle cx="128.9" cy="754.1" r="3.1"/><circle cx="130.8" cy="797.7" r="3.1"/><circle cx="104.1" cy="694.7" r="3.1"/><circle cx="110.5" cy="817.1" r="3.1"/><circle cx="227.1" cy="835.3" r="3.1"/><circle cx="263.8" cy="801.5" r="3.1"/><circle cx="133" cy="820" r="3.1"/><circle cx="282.8" cy="697.7" r="3.1"/><circle cx="234.4" cy="745.7" r="3.1"/><circle cx="82.7" cy="834.5" r="3.1"/><circle cx="187.6" cy="739.7" r="3.1"/><circle cx="99.6" cy="727.6" r="3.1"/><circle cx="151.1" cy="662.4" r="3.1"/><circle cx="143.4" cy="728.2" r="3.1"/><circle cx="112.6" cy="808.3" r="3.1"/><circle cx="272.7" cy="850.7" r="3.1"/><circle cx="117.9" cy="880.2" r="3.1"/><circle cx="72.3" cy="817.9" r="3.1"/><circle cx="272.7" cy="789.4" r="3.1"/><circle cx="250.2" cy="701.4" r="3.1"/><circle cx="160.6" cy="860" r="3.1"/><circle cx="93.7" cy="677.1" r="3.1"/><circle cx="378.7" cy="938.3" r="3.1"/><circle cx="150.9" cy="789.6" r="3.1"/><circle cx="137.5" cy="658.2" r="3.1"/><circle cx="101.2" cy="858.8" r="3.1"/><circle cx="322.5" cy="790.3" r="3.1"/><circle cx="59.6" cy="755" r="3.1"/><circle cx="135.8" cy="838.1" r="3.1"/><circle cx="278" cy="852.7" r="3.1"/><circle cx="223" cy="801.1" r="3.1"/><circle cx="155.3" cy="921.3" r="3.1"/><circle cx="223.5" cy="781.6" r="3.1"/><circle cx="188" cy="802.7" r="3.1"/><circle cx="119.1" cy="746" r="3.1"/><circle cx="237.7" cy="856.3" r="3.1"/><circle cx="173.3" cy="756.8" r="3.1"/><circle cx="139.9" cy="852.7" r="3.1"/><circle cx="267" cy="734.4" r="3.1"/><circle cx="67.6" cy="726.8" r="3.1"/><circle cx="209.6" cy="806.8" r="3.1"/><circle cx="145.6" cy="682.8" r="3.1"/><circle cx="192.5" cy="870.9" r="3.1"/><circle cx="239.7" cy="903.9" r="3.1"/><circle cx="225.5" cy="961.3" r="3.1"/><circle cx="224.6" cy="719.2" r="3.1"/><circle cx="94.6" cy="666.6" r="3.1"/><circle cx="160.6" cy="788.8" r="3.1"/><circle cx="168.1" cy="930.6" r="3.1"/><circle cx="211.3" cy="725.7" r="3.1"/><circle cx="116.1" cy="711.1" r="3.1"/><circle cx="121.1" cy="767.1" r="3.1"/><circle cx="60.9" cy="767" r="3.1"/><circle cx="289.4" cy="763.9" r="3.1"/><circle cx="126.9" cy="887.8" r="3.1"/><circle cx="117.9" cy="838.6" r="3.1"/><circle cx="188.4" cy="760" r="3.1"/><circle cx="225.1" cy="832.1" r="3.1"/><circle cx="126.1" cy="716.3" r="3.1"/><circle cx="57.8" cy="740.3" r="3.1"/><circle cx="218.2" cy="789.4" r="3.1"/><circle cx="115.5" cy="660.1" r="3.1"/><circle cx="121.8" cy="734.6" r="3.1"/><circle cx="239.4" cy="897.8" r="3.1"/><circle cx="331.8" cy="822.2" r="3.1"/><circle cx="257.2" cy="837.8" r="3.1"/><circle cx="258.5" cy="802.3" r="3.1"/><circle cx="88.5" cy="795.4" r="3.1"/><circle cx="220.6" cy="815.5" r="3.1"/><circle cx="68.2" cy="788.6" r="3.1"/><circle cx="74.7" cy="729.5" r="3.1"/><circle cx="293.1" cy="885.8" r="3.1"/><circle cx="72.3" cy="723.1" r="3.1"/><circle cx="77.1" cy="723.1" r="3.1"/><circle cx="168" cy="860.4" r="3.1"/><circle cx="191.7" cy="712.5" r="3.1"/><circle cx="320.1" cy="824.6" r="3.1"/><circle cx="190.9" cy="891" r="3.1"/><circle cx="201" cy="803.9" r="3.1"/><circle cx="104.1" cy="835.3" r="3.1"/><circle cx="91.8" cy="695.7" r="3.1"/><circle cx="235.7" cy="703.6" r="3.1"/><circle cx="290.6" cy="821.6" r="3.1"/><circle cx="340" cy="829.7" r="3.1"/><circle cx="88.3" cy="787.2" r="3.1"/><circle cx="256.9" cy="679.2" r="3.1"/><circle cx="118.9" cy="691.8" r="3.1"/><circle cx="108.5" cy="791.8" r="3.1"/><circle cx="146.8" cy="718.4" r="3.1"/><circle cx="239.7" cy="810.3" r="3.1"/><circle cx="104.1" cy="646.1" r="3.1"/><circle cx="114.7" cy="871.7" r="3.1"/><circle cx="180.6" cy="887.8" r="3.1"/><circle cx="111.2" cy="677.3" r="3.1"/><circle cx="154.5" cy="868.1" r="3.1"/><circle cx="153.4" cy="876.5" r="3.1"/><circle cx="239.7" cy="702.8" r="3.1"/><circle cx="401.1" cy="868.6" r="3.1"/><circle cx="97.5" cy="718.7" r="3.1"/><circle cx="365.2" cy="924" r="3.1"/><circle cx="214.5" cy="686.8" r="3.1"/><circle cx="372.2" cy="831.8" r="3.1"/><circle cx="272.7" cy="857.5" r="3.1"/><circle cx="142" cy="802.7" r="3.1"/><circle cx="315.1" cy="790.7" r="3.1"/><circle cx="201.6" cy="834.1" r="3.1"/><circle cx="137.8" cy="857.1" r="3.1"/><circle cx="68.2" cy="724.3" r="3.1"/><circle cx="110.5" cy="752.2" r="3.1"/><circle cx="173.7" cy="854.7" r="3.1"/><circle cx="148.6" cy="774.4" r="3.1"/><circle cx="132.5" cy="698.8" r="3.1"/><circle cx="176.2" cy="761.5" r="3.1"/><circle cx="96.7" cy="802.3" r="3.1"/><circle cx="200.4" cy="928.1" r="3.1"/><circle cx="136.7" cy="732" r="3.1"/><circle cx="392.9" cy="854.7" r="3.1"/><circle cx="384.8" cy="926.8" r="3.1"/><circle cx="158.2" cy="805.5" r="3.1"/><circle cx="247.1" cy="922.9" r="3.1"/><circle cx="248.7" cy="940.2" r="3.1"/><circle cx="75.8" cy="668.7" r="3.1"/><circle cx="73.1" cy="776.4" r="3.1"/><circle cx="321.7" cy="879.1" r="3.1"/><circle cx="83.2" cy="709" r="3.1"/><circle cx="100.8" cy="655" r="3.1"/><circle cx="160.3" cy="816.8" r="3.1"/><circle cx="111.8" cy="842.6" r="3.1"/><circle cx="73.1" cy="694.5" r="3.1"/><circle cx="88.5" cy="838.9" r="3.1"/><circle cx="77.1" cy="770.8" r="3.1"/><circle cx="86.9" cy="793.6" r="3.1"/><circle cx="128" cy="882.6" r="3.1"/><circle cx="112.2" cy="811.9" r="3.1"/><circle cx="223.5" cy="789.4" r="3.1"/><circle cx="112.8" cy="772.8" r="3.1"/><circle cx="199.8" cy="888.3" r="3.1"/><circle cx="287" cy="924.5" r="3.1"/><circle cx="256" cy="691.3" r="3.1"/><circle cx="165.6" cy="882.6" r="3.1"/><circle cx="138.3" cy="709" r="3.1"/><circle cx="237.3" cy="800.7" r="3.1"/><circle cx="121" cy="674.4" r="3.1"/><circle cx="180.2" cy="753" r="3.1"/><circle cx="263" cy="675.5" r="3.1"/><circle cx="85.7" cy="825" r="3.1"/><circle cx="229.9" cy="917.2" r="3.1"/><circle cx="104.9" cy="749" r="3.1"/><circle cx="246.3" cy="911.2" r="3.1"/><circle cx="238.5" cy="777.5" r="3.1"/><circle cx="293.9" cy="925.1" r="3.1"/><circle cx="97.1" cy="741.7" r="3.1"/><circle cx="112.7" cy="688.8" r="3.1"/><circle cx="94.5" cy="670.3" r="3.1"/><circle cx="368.1" cy="946" r="3.1"/><circle cx="171.2" cy="884.6" r="3.1"/><circle cx="141.7" cy="638.5" r="3.1"/><circle cx="155.8" cy="780.3" r="3.1"/><circle cx="360.4" cy="829.4" r="3.1"/><circle cx="363.8" cy="956.8" r="3.1"/><circle cx="138.6" cy="803.1" r="3.1"/><circle cx="135.8" cy="885" r="3.1"/><circle cx="112.2" cy="654.5" r="3.1"/><circle cx="264.2" cy="885" r="3.1"/><circle cx="415.3" cy="884" r="3.1"/><circle cx="215.7" cy="794.2" r="3.1"/><circle cx="143.1" cy="653.1" r="3.1"/><circle cx="104.4" cy="779.2" r="3.1"/><circle cx="248.7" cy="822.8" r="3.1"/><circle cx="159.5" cy="786.9" r="3.1"/><circle cx="157" cy="711.3" r="3.1"/><circle cx="142.3" cy="846.2" r="3.1"/><circle cx="185.1" cy="897.5" r="3.1"/><circle cx="108.1" cy="673.1" r="3.1"/><circle cx="247.4" cy="876.2" r="3.1"/><circle cx="300.4" cy="786.9" r="3.1"/><circle cx="194.1" cy="817.6" r="3.1"/><circle cx="290.6" cy="838.7" r="3.1"/><circle cx="280" cy="755.4" r="3.1"/><circle cx="91.8" cy="663.6" r="3.1"/><circle cx="128" cy="792.2" r="3.1"/><circle cx="147.2" cy="756.2" r="3.1"/><circle cx="251.1" cy="816.8" r="3.1"/><circle cx="256.4" cy="717.1" r="3.1"/><circle cx="149.7" cy="887.5" r="3.1"/><circle cx="155.8" cy="826.8" r="3.1"/><circle cx="134.8" cy="790.6" r="3.1"/><circle cx="104.9" cy="755" r="3.1"/><circle cx="209.6" cy="750.6" r="3.1"/><circle cx="236.5" cy="681.8" r="3.1"/><circle cx="265.4" cy="756.2" r="3.1"/><circle cx="179.8" cy="803.5" r="3.1"/><circle cx="357.9" cy="818.6" r="3.1"/><circle cx="341.6" cy="922.7" r="3.1"/><circle cx="168.1" cy="698.2" r="3.1"/><circle cx="335.5" cy="859.7" r="3.1"/><circle cx="219.3" cy="794.6" r="3.1"/><circle cx="129.7" cy="888.3" r="3.1"/><circle cx="240.5" cy="662.2" r="3.1"/><circle cx="101.2" cy="764.3" r="3.1"/><circle cx="115.5" cy="669.5" r="3.1"/><circle cx="235.2" cy="811.1" r="3.1"/><circle cx="129.7" cy="771.2" r="3.1"/><circle cx="177.8" cy="847" r="3.1"/><circle cx="227.7" cy="818.8" r="3.1"/><circle cx="131.9" cy="743.6" r="3.1"/><circle cx="404.3" cy="891.3" r="3.1"/><circle cx="58.8" cy="785.3" r="3.1"/><circle cx="122.7" cy="814.7" r="3.1"/><circle cx="92.7" cy="824" r="3.1"/><circle cx="319.2" cy="795.6" r="3.1"/><circle cx="105.2" cy="850.2" r="3.1"/><circle cx="216.6" cy="912.4" r="3.1"/><circle cx="249.9" cy="675.5" r="3.1"/><circle cx="88.3" cy="729.2" r="3.1"/><circle cx="211.3" cy="768.4" r="3.1"/><circle cx="153.7" cy="871.7" r="3.1"/><circle cx="307.7" cy="809.5" r="3.1"/><circle cx="303.3" cy="780.5" r="3.1"/><circle cx="117.1" cy="701.4" r="3.1"/><circle cx="122.2" cy="684.8" r="3.1"/><circle cx="175.7" cy="893.5" r="3.1"/><circle cx="254.8" cy="713.1" r="3.1"/><circle cx="82.9" cy="795.8" r="3.1"/><circle cx="398.2" cy="945.2" r="3.1"/><circle cx="273.9" cy="702.6" r="3.1"/><circle cx="235.2" cy="822" r="3.1"/><circle cx="289.4" cy="723.9" r="3.1"/><circle cx="187.2" cy="847.8" r="3.1"/><circle cx="230.7" cy="740.9" r="3.1"/><circle cx="385.8" cy="850.1" r="3.1"/><circle cx="294.7" cy="866.4" r="3.1"/><circle cx="82.1" cy="830.1" r="3.1"/><circle cx="244.2" cy="672.3" r="3.1"/><circle cx="93" cy="819.6" r="3.1"/><circle cx="135.6" cy="647.1" r="3.1"/><circle cx="225.5" cy="945.1" r="3.1"/><circle cx="101.2" cy="692.7" r="3.1"/><circle cx="148.6" cy="654.4" r="3.1"/><circle cx="304.1" cy="817.6" r="3.1"/><circle cx="150" cy="676.2" r="3.1"/><circle cx="343.8" cy="835.8" r="3.1"/><circle cx="175.3" cy="864" r="3.1"/><circle cx="89.4" cy="808.3" r="3.1"/><circle cx="135.8" cy="829.7" r="3.1"/><circle cx="194.6" cy="795.4" r="3.1"/><circle cx="262.2" cy="678.7" r="3.1"/><circle cx="130.8" cy="717.1" r="3.1"/><circle cx="154.2" cy="740.9" r="3.1"/><circle cx="399.8" cy="886.4" r="3.1"/><circle cx="136" cy="752.2" r="3.1"/><circle cx="157.8" cy="749.8" r="3.1"/><circle cx="167.6" cy="818.4" r="3.1"/><circle cx="251.9" cy="897.8" r="3.1"/><circle cx="154.5" cy="882.2" r="3.1"/><circle cx="184.3" cy="749.8" r="3.1"/><circle cx="214" cy="904.7" r="3.1"/><circle cx="123.4" cy="768.4" r="3.1"/><circle cx="60.9" cy="780" r="3.1"/><circle cx="365" cy="871" r="3.1"/><circle cx="295.1" cy="851.9" r="3.1"/><circle cx="209.2" cy="829.7" r="3.1"/><circle cx="218.5" cy="752.2" r="3.1"/><circle cx="310.6" cy="929.2" r="3.1"/><circle cx="70.1" cy="769.5" r="3.1"/><circle cx="249.5" cy="764.3" r="3.1"/><circle cx="102.1" cy="730.3" r="3.1"/><circle cx="120.8" cy="818.4" r="3.1"/><circle cx="106.5" cy="865.6" r="3.1"/><circle cx="86.6" cy="771.8" r="3.1"/><circle cx="300.8" cy="889.9" r="3.1"/><circle cx="349.3" cy="895.6" r="3.1"/><circle cx="247.9" cy="854.3" r="3.1"/><circle cx="157.8" cy="652" r="3.1"/><circle cx="175.7" cy="770" r="3.1"/><circle cx="252.1" cy="712.5" r="3.1"/><circle cx="219.1" cy="762.7" r="3.1"/><circle cx="272.7" cy="728.2" r="3.1"/><circle cx="289.4" cy="774" r="3.1"/><circle cx="415.7" cy="878.3" r="3.1"/><circle cx="66" cy="775.6" r="3.1"/><circle cx="105.7" cy="787.7" r="3.1"/><circle cx="275.6" cy="892.6" r="3.1"/><circle cx="363.6" cy="940.7" r="3.1"/><circle cx="147.6" cy="881.8" r="3.1"/><circle cx="174.9" cy="912.8" r="3.1"/><circle cx="236" cy="934.2" r="3.1"/><circle cx="124.4" cy="666.2" r="3.1"/><circle cx="127.8" cy="676.6" r="3.1"/><circle cx="104.1" cy="807.5" r="3.1"/><circle cx="260.5" cy="882.2" r="3.1"/><circle cx="129.3" cy="860.4" r="3.1"/><circle cx="80.6" cy="803.9" r="3.1"/><circle cx="89" cy="696.9" r="3.1"/><circle cx="338.4" cy="916.1" r="3.1"/><circle cx="369.7" cy="921.1" r="3.1"/><circle cx="348.1" cy="814.6" r="3.1"/><circle cx="100.2" cy="749.4" r="3.1"/><circle cx="370.9" cy="876" r="3.1"/><circle cx="253.2" cy="952.1" r="3.1"/><circle cx="87.4" cy="655.5" r="3.1"/><circle cx="204.3" cy="771.2" r="3.1"/><circle cx="252.7" cy="870.9" r="3.1"/><circle cx="137.5" cy="877.3" r="3.1"/><circle cx="72.9" cy="744.9" r="3.1"/></g><g fill="#FFD700"><circle cx="360.7" cy="914.7" r="3.1"/><circle cx="236.9" cy="794.6" r="3.1"/><circle cx="234.1" cy="918" r="3.1"/><circle cx="356.7" cy="937.7" r="3.1"/><circle cx="209.2" cy="859.2" r="3.1"/><circle cx="149.2" cy="770" r="3.1"/><circle cx="383.2" cy="921.1" r="3.1"/><circle cx="166.4" cy="765.4" r="3.1"/><circle cx="276.8" cy="799.5" r="3.1"/><circle cx="355.1" cy="844.5" r="3.1"/><circle cx="269.4" cy="922.5" r="3.1"/><circle cx="170.4" cy="820" r="3.1"/><circle cx="229.1" cy="850.2" r="3.1"/><circle cx="262.2" cy="907.2" r="3.1"/><circle cx="391.7" cy="903.2" r="3.1"/><circle cx="149.7" cy="835.3" r="3.1"/><circle cx="224.3" cy="772" r="3.1"/><circle cx="337.6" cy="782" r="3.1"/><circle cx="324.1" cy="895.6" r="3.1"/><circle cx="274.4" cy="737.6" r="3.1"/><circle cx="218.5" cy="888.6" r="3.1"/><circle cx="300.4" cy="831.4" r="3.1"/><circle cx="230.7" cy="712.3" r="3.1"/><circle cx="177" cy="906.9" r="3.1"/><circle cx="244.2" cy="828.2" r="3.1"/><circle cx="120.1" cy="642.6" r="3.1"/><circle cx="202.4" cy="774.8" r="3.1"/><circle cx="397" cy="932.4" r="3.1"/><circle cx="313" cy="918" r="3.1"/><circle cx="283.7" cy="835.7" r="3.1"/><circle cx="352.6" cy="801.9" r="3.1"/><circle cx="285.8" cy="916.8" r="3.1"/><circle cx="110.2" cy="659.8" r="3.1"/><circle cx="357.9" cy="946.9" r="3.1"/><circle cx="377.4" cy="934.8" r="3.1"/><circle cx="385.2" cy="873.5" r="3.1"/><circle cx="319.6" cy="828.7" r="3.1"/><circle cx="236.9" cy="862.8" r="3.1"/><circle cx="300.4" cy="841" r="3.1"/><circle cx="333.9" cy="850.5" r="3.1"/><circle cx="267" cy="779.7" r="3.1"/><circle cx="331.8" cy="819" r="3.1"/><circle cx="274.4" cy="780.8" r="3.1"/><circle cx="362.4" cy="933.7" r="3.1"/><circle cx="281.3" cy="801.5" r="3.1"/><circle cx="323.7" cy="814.8" r="3.1"/><circle cx="325.6" cy="862.6" r="3.1"/><circle cx="224.6" cy="778.4" r="3.1"/><circle cx="290.2" cy="828.9" r="3.1"/><circle cx="269.1" cy="866.8" r="3.1"/><circle cx="369.7" cy="940.7" r="3.1"/><circle cx="296.7" cy="727.1" r="3.1"/><circle cx="64" cy="761.3" r="3.1"/><circle cx="258" cy="923.7" r="3.1"/><circle cx="411.2" cy="924.3" r="3.1"/><circle cx="245.8" cy="866.8" r="3.1"/><circle cx="254.8" cy="923.7" r="3.1"/><circle cx="78.8" cy="815.1" r="3.1"/><circle cx="396.2" cy="937.2" r="3.1"/><circle cx="323.7" cy="922.1" r="3.1"/><circle cx="332.1" cy="773.6" r="3.1"/><circle cx="89.4" cy="746.8" r="3.1"/><circle cx="408.8" cy="913" r="3.1"/><circle cx="247.4" cy="733.8" r="3.1"/><circle cx="394.6" cy="892.9" r="3.1"/><circle cx="261.7" cy="896.7" r="3.1"/><circle cx="275.6" cy="766.2" r="3.1"/><circle cx="254.4" cy="934.2" r="3.1"/><circle cx="269.9" cy="853.5" r="3.1"/><circle cx="163.1" cy="737.6" r="3.1"/><circle cx="251.9" cy="811.1" r="3.1"/><circle cx="360.4" cy="930.7" r="3.1"/><circle cx="300.8" cy="809.5" r="3.1"/><circle cx="352.6" cy="891.8" r="3.1"/><circle cx="424.3" cy="893.2" r="3.1"/><circle cx="208.4" cy="855.1" r="3.1"/><circle cx="346.9" cy="796" r="3.1"/><circle cx="282" cy="792.2" r="3.1"/><circle cx="258" cy="831.3" r="3.1"/><circle cx="175.1" cy="940.2" r="3.1"/><circle cx="241.8" cy="787.3" r="3.1"/><circle cx="203.9" cy="812.5" r="3.1"/><circle cx="306.9" cy="776" r="3.1"/><circle cx="402.3" cy="910.2" r="3.1"/><circle cx="296.7" cy="810.3" r="3.1"/><circle cx="251.6" cy="740.9" r="3.1"/><circle cx="220" cy="943.1" r="3.1"/><circle cx="293.5" cy="774.6" r="3.1"/><circle cx="251.8" cy="770.8" r="3.1"/><circle cx="91.8" cy="803.5" r="3.1"/><circle cx="243.4" cy="916.8" r="3.1"/><circle cx="393.7" cy="946.9" r="3.1"/><circle cx="289.8" cy="935.2" r="3.1"/><circle cx="202.3" cy="826.8" r="3.1"/><circle cx="212.1" cy="939.1" r="3.1"/><circle cx="274.7" cy="938.3" r="3.1"/><circle cx="202.3" cy="909.1" r="3.1"/><circle cx="211.6" cy="869.7" r="3.1"/><circle cx="79.2" cy="822.4" r="3.1"/><circle cx="369.7" cy="864.2" r="3.1"/><circle cx="286.1" cy="901.5" r="3.1"/><circle cx="191.2" cy="927.6" r="3.1"/><circle cx="296.9" cy="791.8" r="3.1"/><circle cx="377.4" cy="890.8" r="3.1"/><circle cx="387.6" cy="909.8" r="3.1"/><circle cx="247.9" cy="751.4" r="3.1"/><circle cx="224.7" cy="870.2" r="3.1"/><circle cx="187.8" cy="840.5" r="3.1"/><circle cx="283.3" cy="828.4" r="3.1"/><circle cx="281.3" cy="883.4" r="3.1"/><circle cx="377.4" cy="915.3" r="3.1"/><circle cx="262.5" cy="834.9" r="3.1"/><circle cx="284.9" cy="885" r="3.1"/><circle cx="398.2" cy="909.4" r="3.1"/><circle cx="239.4" cy="943.9" r="3.1"/><circle cx="280.5" cy="843.4" r="3.1"/><circle cx="197.8" cy="882.6" r="3.1"/><circle cx="167.2" cy="893.9" r="3.1"/><circle cx="298.8" cy="767.6" r="3.1"/><circle cx="241.8" cy="929.4" r="3.1"/><circle cx="255.2" cy="759.5" r="3.1"/><circle cx="237.3" cy="936.7" r="3.1"/><circle cx="333.5" cy="786.8" r="3.1"/><circle cx="279.2" cy="718.7" r="3.1"/><circle cx="391.7" cy="884.8" r="3.1"/><circle cx="226.7" cy="893.5" r="3.1"/><circle cx="334.7" cy="940.6" r="3.1"/><circle cx="308" cy="854.8" r="3.1"/><circle cx="207.9" cy="939.9" r="3.1"/><circle cx="308.6" cy="892.6" r="3.1"/><circle cx="270.7" cy="943.1" r="3.1"/><circle cx="112.6" cy="784.9" r="3.1"/><circle cx="258.3" cy="776" r="3.1"/><circle cx="377.9" cy="954.9" r="3.1"/><circle cx="308.1" cy="837" r="3.1"/><circle cx="395" cy="924.2" r="3.1"/><circle cx="377.2" cy="879.5" r="3.1"/><circle cx="243.8" cy="820.8" r="3.1"/><circle cx="326.5" cy="821.4" r="3.1"/><circle cx="199.2" cy="905.5" r="3.1"/><circle cx="245.5" cy="780.5" r="3.1"/><circle cx="221.8" cy="922.9" r="3.1"/><circle cx="282.9" cy="858.1" r="3.1"/><circle cx="212.1" cy="851.1" r="3.1"/><circle cx="269.9" cy="860.4" r="3.1"/><circle cx="231.6" cy="763.9" r="3.1"/><circle cx="367.7" cy="914.8" r="3.1"/><circle cx="251.6" cy="881.8" r="3.1"/><circle cx="344.5" cy="900.8" r="3.1"/><circle cx="222.7" cy="887" r="3.1"/><circle cx="280" cy="710.1" r="3.1"/><circle cx="216.6" cy="936.7" r="3.1"/><circle cx="263.2" cy="701.4" r="3.1"/><circle cx="230.4" cy="938.3" r="3.1"/></g><g fill="#F03C0F"><circle cx="201.5" cy="946.5" r="3.1"/><circle cx="335.7" cy="810.3" r="3.1"/><circle cx="387.2" cy="950.1" r="3.1"/><circle cx="333.9" cy="933.7" r="3.1"/><circle cx="216.1" cy="811.5" r="3.1"/><circle cx="318.4" cy="773" r="3.1"/><circle cx="386.8" cy="946" r="3.1"/><circle cx="277.2" cy="804.7" r="3.1"/><circle cx="350.6" cy="846.9" r="3.1"/><circle cx="264.6" cy="829.7" r="3.1"/><circle cx="337.6" cy="861.3" r="3.1"/><circle cx="376.6" cy="925.1" r="3.1"/><circle cx="319.2" cy="860.9" r="3.1"/><circle cx="311.8" cy="799.5" r="3.1"/><circle cx="209.4" cy="754.6" r="3.1"/><circle cx="187.4" cy="789.7" r="3.1"/><circle cx="227.7" cy="897.6" r="3.1"/><circle cx="219" cy="878.6" r="3.1"/><circle cx="327.8" cy="760.9" r="3.1"/><circle cx="404.7" cy="906.6" r="3.1"/><circle cx="320.1" cy="798.8" r="3.1"/><circle cx="319.2" cy="737.5" r="3.1"/><circle cx="283.3" cy="763.9" r="3.1"/><circle cx="185.9" cy="799" r="3.1"/><circle cx="302" cy="732.4" r="3.1"/><circle cx="211.6" cy="750.6" r="3.1"/><circle cx="322.5" cy="755.7" r="3.1"/><circle cx="191.5" cy="937.5" r="3.1"/><circle cx="294.3" cy="913.8" r="3.1"/><circle cx="233.6" cy="788.9" r="3.1"/><circle cx="213.7" cy="918.8" r="3.1"/><circle cx="279.7" cy="772.4" r="3.1"/><circle cx="219.8" cy="849.9" r="3.1"/><circle cx="388.4" cy="889.2" r="3.1"/><circle cx="317.6" cy="904.2" r="3.1"/><circle cx="399.8" cy="915.9" r="3.1"/><circle cx="381.9" cy="945.6" r="3.1"/><circle cx="255.6" cy="910.4" r="3.1"/><circle cx="329" cy="885.6" r="3.1"/><circle cx="223.5" cy="867.6" r="3.1"/><circle cx="384.4" cy="932.4" r="3.1"/><circle cx="351" cy="936.1" r="3.1"/><circle cx="254.4" cy="857.5" r="3.1"/><circle cx="279.7" cy="815.9" r="3.1"/><circle cx="304.9" cy="899.1" r="3.1"/><circle cx="387.2" cy="898.5" r="3.1"/><circle cx="317.6" cy="760.1" r="3.1"/><circle cx="216.9" cy="920.5" r="3.1"/><circle cx="400.7" cy="902.6" r="3.1"/><circle cx="299.6" cy="845" r="3.1"/><circle cx="355.2" cy="838.4" r="3.1"/><circle cx="324.9" cy="848.9" r="3.1"/><circle cx="197" cy="828.9" r="3.1"/><circle cx="287.4" cy="740.5" r="3.1"/><circle cx="266.2" cy="822" r="3.1"/><circle cx="237.3" cy="924.1" r="3.1"/><circle cx="296.7" cy="830.5" r="3.1"/><circle cx="246.3" cy="847.5" r="3.1"/><circle cx="209.6" cy="877.8" r="3.1"/><circle cx="386.4" cy="867.8" r="3.1"/><circle cx="237.3" cy="831.3" r="3.1"/><circle cx="359.5" cy="927.6" r="3.1"/><circle cx="278" cy="939" r="3.1"/><circle cx="324.9" cy="800" r="3.1"/><circle cx="254" cy="899.4" r="3.1"/><circle cx="316.8" cy="752.5" r="3.1"/></g><g fill="#8E0B25"><circle cx="412.7" cy="894.8" r="3.1"/><circle cx="294.7" cy="727.6" r="3.1"/><circle cx="359.9" cy="891.8" r="3.1"/><circle cx="219" cy="836.7" r="3.1"/><circle cx="205.5" cy="913.6" r="3.1"/><circle cx="276.2" cy="713.1" r="3.1"/><circle cx="175.7" cy="824.4" r="3.1"/><circle cx="270.7" cy="805.1" r="3.1"/><circle cx="239.4" cy="909.9" r="3.1"/><circle cx="291.1" cy="816.8" r="3.1"/><circle cx="284.5" cy="880.2" r="3.1"/><circle cx="264.2" cy="774.4" r="3.1"/><circle cx="323.2" cy="865" r="3.1"/><circle cx="209.2" cy="887.8" r="3.1"/><circle cx="174.9" cy="717.1" r="3.1"/><circle cx="288.6" cy="901.5" r="3.1"/><circle cx="306.1" cy="726.9" r="3.1"/><circle cx="217.7" cy="903.1" r="3.1"/><circle cx="246.3" cy="915.6" r="3.1"/><circle cx="381.1" cy="873.9" r="3.1"/><circle cx="234.9" cy="774.8" r="3.1"/><circle cx="230.7" cy="892.3" r="3.1"/><circle cx="267.4" cy="891.8" r="3.1"/></g><g fill="#8C8C8C"><circle cx="628.4" cy="780" r="3.1"/><circle cx="705.1" cy="877.3" r="3.1"/><circle cx="869.8" cy="732.4" r="3.1"/><circle cx="954.6" cy="946" r="3.1"/><circle cx="967.6" cy="915.9" r="3.1"/><circle cx="748.7" cy="778.9" r="3.1"/><circle cx="840.8" cy="916.6" r="3.1"/><circle cx="640.9" cy="684.8" r="3.1"/><circle cx="905.3" cy="861.3" r="3.1"/><circle cx="687.7" cy="642.6" r="3.1"/><circle cx="829.6" cy="726.9" r="3.1"/><circle cx="819.3" cy="740.9" r="3.1"/><circle cx="703.6" cy="752.2" r="3.1"/><circle cx="642.7" cy="731.2" r="3.1"/><circle cx="625.3" cy="740.3" r="3.1"/><circle cx="672.4" cy="749" r="3.1"/><circle cx="899.8" cy="773.6" r="3.1"/><circle cx="923" cy="838.4" r="3.1"/><circle cx="707.1" cy="841.3" r="3.1"/><circle cx="836" cy="777.3" r="3.1"/><circle cx="687.9" cy="833.3" r="3.1"/><circle cx="808.2" cy="662.2" r="3.1"/><circle cx="769.8" cy="733.8" r="3.1"/><circle cx="903.3" cy="859.7" r="3.1"/><circle cx="875.7" cy="854.8" r="3.1"/><circle cx="826" cy="776" r="3.1"/><circle cx="924.5" cy="914.7" r="3.1"/><circle cx="823.7" cy="691.3" r="3.1"/><circle cx="700.6" cy="820" r="3.1"/><circle cx="758.5" cy="792.6" r="3.1"/><circle cx="627.8" cy="700.4" r="3.1"/><circle cx="825.7" cy="831.3" r="3.1"/><circle cx="654.9" cy="705" r="3.1"/><circle cx="665.1" cy="718.7" r="3.1"/><circle cx="868.5" cy="942.3" r="3.1"/><circle cx="711.2" cy="898.3" r="3.1"/><circle cx="735.8" cy="930.6" r="3.1"/><circle cx="959.5" cy="884.8" r="3.1"/><circle cx="857.6" cy="935.2" r="3.1"/><circle cx="896.7" cy="885.6" r="3.1"/><circle cx="805" cy="800.7" r="3.1"/><circle cx="729.5" cy="869.2" r="3.1"/><circle cx="787.8" cy="854.3" r="3.1"/><circle cx="703.4" cy="838.1" r="3.1"/><circle cx="842.1" cy="780.8" r="3.1"/><circle cx="688.7" cy="767.1" r="3.1"/><circle cx="659" cy="768.9" r="3.1"/><circle cx="944.4" cy="925.1" r="3.1"/><circle cx="644.7" cy="723.1" r="3.1"/><circle cx="786.8" cy="762.7" r="3.1"/><circle cx="778.7" cy="730.3" r="3.1"/><circle cx="822.9" cy="759.5" r="3.1"/><circle cx="764.6" cy="828.9" r="3.1"/><circle cx="837.2" cy="922.5" r="3.1"/><circle cx="681.4" cy="791.2" r="3.1"/><circle cx="716.3" cy="774.4" r="3.1"/><circle cx="847.4" cy="772.4" r="3.1"/><circle cx="790.7" cy="801.1" r="3.1"/><circle cx="631.5" cy="761.3" r="3.1"/><circle cx="843.3" cy="892.6" r="3.1"/><circle cx="673.3" cy="787.7" r="3.1"/><circle cx="826.2" cy="802.3" r="3.1"/><circle cx="821.7" cy="899.4" r="3.1"/><circle cx="667.5" cy="792.2" r="3.1"/><circle cx="972.6" cy="906.6" r="3.1"/><circle cx="814" cy="911.2" r="3.1"/><circle cx="889.4" cy="845.5" r="3.1"/><circle cx="768.7" cy="803.9" r="3.1"/><circle cx="830.7" cy="675.5" r="3.1"/><circle cx="680.2" cy="808.3" r="3.1"/><circle cx="792" cy="772" r="3.1"/><circle cx="756.1" cy="760" r="3.1"/><circle cx="688.6" cy="722.5" r="3.1"/><circle cx="766.8" cy="905.5" r="3.1"/><circle cx="802.9" cy="682.6" r="3.1"/><circle cx="776.4" cy="810.7" r="3.1"/><circle cx="664.3" cy="802.3" r="3.1"/><circle cx="758.5" cy="891" r="3.1"/><circle cx="660.2" cy="824" r="3.1"/><circle cx="938.7" cy="876" r="3.1"/><circle cx="752.8" cy="897.5" r="3.1"/><circle cx="966" cy="909.4" r="3.1"/><circle cx="785.8" cy="789.4" r="3.1"/><circle cx="721.8" cy="740.9" r="3.1"/><circle cx="637.6" cy="769.5" r="3.1"/><circle cx="887.8" cy="824.6" r="3.1"/><circle cx="640.8" cy="680.8" r="3.1"/><circle cx="627.2" cy="755" r="3.1"/><circle cx="781.7" cy="904.7" r="3.1"/><circle cx="896.4" cy="802" r="3.1"/><circle cx="717.7" cy="755.4" r="3.1"/><circle cx="740.9" cy="786.1" r="3.1"/><circle cx="674.1" cy="865.6" r="3.1"/><circle cx="840" cy="801.5" r="3.1"/><circle cx="679.8" cy="654.5" r="3.1"/><circle cx="695.6" cy="882.6" r="3.1"/><circle cx="778.9" cy="725.7" r="3.1"/><circle cx="712.4" cy="817.6" r="3.1"/><circle cx="696.5" cy="754.1" r="3.1"/><circle cx="861.2" cy="774.6" r="3.1"/><circle cx="862.4" cy="866.4" r="3.1"/><circle cx="698.5" cy="748.1" r="3.1"/><circle cx="635.6" cy="751.1" r="3.1"/><circle cx="745.4" cy="847" r="3.1"/><circle cx="880.7" cy="918" r="3.1"/><circle cx="776.9" cy="829.7" r="3.1"/><circle cx="656.8" cy="849.9" r="3.1"/><circle cx="711.2" cy="710.6" r="3.1"/><circle cx="656.5" cy="696.9" r="3.1"/><circle cx="817.2" cy="806.3" r="3.1"/><circle cx="787.8" cy="859.6" r="3.1"/><circle cx="653.7" cy="748.6" r="3.1"/><circle cx="725" cy="901.1" r="3.1"/><circle cx="818.8" cy="816.8" r="3.1"/><circle cx="742.8" cy="940.2" r="3.1"/><circle cx="864.6" cy="791.8" r="3.1"/><circle cx="752.4" cy="806.3" r="3.1"/><circle cx="861.6" cy="925.1" r="3.1"/><circle cx="716.3" cy="654.4" r="3.1"/><circle cx="909.4" cy="922.7" r="3.1"/><circle cx="962.8" cy="924.2" r="3.1"/><circle cx="786.2" cy="752.2" r="3.1"/><circle cx="803.4" cy="703.6" r="3.1"/><circle cx="801.7" cy="918" r="3.1"/><circle cx="850.6" cy="858.1" r="3.1"/><circle cx="678.1" cy="817.1" r="3.1"/><circle cx="738.1" cy="820" r="3.1"/><circle cx="626.4" cy="785.3" r="3.1"/><circle cx="769.9" cy="909.1" r="3.1"/><circle cx="721" cy="876.5" r="3.1"/><circle cx="963.6" cy="883.2" r="3.1"/><circle cx="824.1" cy="717.1" r="3.1"/><circle cx="779.7" cy="851.1" r="3.1"/><circle cx="658.6" cy="840.2" r="3.1"/><circle cx="659.4" cy="695.7" r="3.1"/><circle cx="809.5" cy="929.4" r="3.1"/><circle cx="740.9" cy="756.8" r="3.1"/><circle cx="650.4" cy="795.8" r="3.1"/><circle cx="711" cy="728.2" r="3.1"/><circle cx="899.6" cy="822.2" r="3.1"/><circle cx="646.4" cy="815.1" r="3.1"/><circle cx="678.9" cy="762.2" r="3.1"/><circle cx="728.3" cy="788.8" r="3.1"/><circle cx="809.7" cy="744.1" r="3.1"/><circle cx="762.2" cy="795.4" r="3.1"/><circle cx="816.6" cy="848" r="3.1"/><circle cx="846.1" cy="834.1" r="3.1"/><circle cx="894.3" cy="821.4" r="3.1"/><circle cx="671.6" cy="835.3" r="3.1"/><circle cx="783.8" cy="811.5" r="3.1"/><circle cx="650.8" cy="709" r="3.1"/><circle cx="791.1" cy="789.4" r="3.1"/><circle cx="753.1" cy="770.6" r="3.1"/><circle cx="837.6" cy="860.4" r="3.1"/><circle cx="818.8" cy="786.5" r="3.1"/><circle cx="653.7" cy="815.1" r="3.1"/><circle cx="795.3" cy="818.8" r="3.1"/><circle cx="948.1" cy="954.9" r="3.1"/><circle cx="864.5" cy="830.5" r="3.1"/><circle cx="742.9" cy="864" r="3.1"/><circle cx="878.3" cy="929.2" r="3.1"/><circle cx="787.5" cy="827.3" r="3.1"/><circle cx="655.9" cy="787.2" r="3.1"/><circle cx="887.8" cy="798.8" r="3.1"/><circle cx="632.1" cy="803.5" r="3.1"/><circle cx="857.1" cy="774" r="3.1"/><circle cx="964" cy="937.2" r="3.1"/><circle cx="801.3" cy="788.9" r="3.1"/><circle cx="717.3" cy="887.5" r="3.1"/><circle cx="840.4" cy="789.4" r="3.1"/><circle cx="706.7" cy="757.3" r="3.1"/><circle cx="703.4" cy="829.7" r="3.1"/><circle cx="772.5" cy="718.7" r="3.1"/><circle cx="793.1" cy="961.3" r="3.1"/><circle cx="698.4" cy="717.1" r="3.1"/><circle cx="630.8" cy="705.4" r="3.1"/><circle cx="851" cy="763.9" r="3.1"/><circle cx="640.6" cy="776.4" r="3.1"/><circle cx="732.8" cy="759" r="3.1"/><circle cx="849" cy="883.4" r="3.1"/><circle cx="631.7" cy="724.3" r="3.1"/><circle cx="665.1" cy="760.8" r="3.1"/><circle cx="864.5" cy="727.1" r="3.1"/><circle cx="649.6" cy="830.1" r="3.1"/><circle cx="787.2" cy="746" r="3.1"/><circle cx="646.8" cy="822.4" r="3.1"/><circle cx="743.8" cy="761.5" r="3.1"/><circle cx="655.9" cy="777.8" r="3.1"/><circle cx="667.1" cy="727.6" r="3.1"/><circle cx="805" cy="873.3" r="3.1"/><circle cx="702.4" cy="790.6" r="3.1"/><circle cx="768.1" cy="928.1" r="3.1"/><circle cx="777.1" cy="754.6" r="3.1"/><circle cx="833.1" cy="756.2" r="3.1"/><circle cx="645.9" cy="767.9" r="3.1"/><circle cx="659.4" cy="803.5" r="3.1"/><circle cx="831.5" cy="801.5" r="3.1"/><circle cx="874.6" cy="776" r="3.1"/><circle cx="640.4" cy="744.9" r="3.1"/><circle cx="718.5" cy="789.6" r="3.1"/><circle cx="887.4" cy="828.7" r="3.1"/><circle cx="792.3" cy="778.4" r="3.1"/></g><g fill="#440154"><circle cx="970.1" cy="910.2" r="3.1"/><circle cx="672" cy="668.2" r="3.1"/><circle cx="642.7" cy="698.8" r="3.1"/><circle cx="886.9" cy="795.6" r="3.1"/><circle cx="767.5" cy="888.3" r="3.1"/><circle cx="654.1" cy="771.8" r="3.1"/><circle cx="868.5" cy="889.9" r="3.1"/><circle cx="832.3" cy="829.7" r="3.1"/><circle cx="885.3" cy="904.2" r="3.1"/><circle cx="859.2" cy="920.5" r="3.1"/><circle cx="945" cy="879.5" r="3.1"/><circle cx="660.6" cy="819.6" r="3.1"/><circle cx="696.5" cy="697.7" r="3.1"/><circle cx="633.6" cy="775.6" r="3.1"/><circle cx="840.4" cy="728.2" r="3.1"/><circle cx="945.2" cy="890.8" r="3.1"/><circle cx="692.4" cy="649.8" r="3.1"/><circle cx="851.4" cy="835.7" r="3.1"/><circle cx="823.5" cy="705.2" r="3.1"/><circle cx="628.4" cy="767" r="3.1"/><circle cx="680.4" cy="772.8" r="3.1"/><circle cx="725.4" cy="652" r="3.1"/><circle cx="729.2" cy="743.3" r="3.1"/><circle cx="668.4" cy="648.8" r="3.1"/><circle cx="875.9" cy="837" r="3.1"/><circle cx="966" cy="945.2" r="3.1"/><circle cx="714.9" cy="756.2" r="3.1"/><circle cx="624.4" cy="753.4" r="3.1"/><circle cx="655" cy="655.5" r="3.1"/><circle cx="635.8" cy="702.6" r="3.1"/><circle cx="803.7" cy="780.8" r="3.1"/><circle cx="684.2" cy="885.8" r="3.1"/><circle cx="688.6" cy="674.4" r="3.1"/><circle cx="815.1" cy="758.7" r="3.1"/><circle cx="901.7" cy="933.7" r="3.1"/><circle cx="710.7" cy="653.1" r="3.1"/><circle cx="654.5" cy="793.6" r="3.1"/><circle cx="809.5" cy="787.3" r="3.1"/><circle cx="961.2" cy="866.6" r="3.1"/><circle cx="920.4" cy="891.8" r="3.1"/><circle cx="745.4" cy="784.5" r="3.1"/><circle cx="912.3" cy="900.8" r="3.1"/><circle cx="700.1" cy="698.8" r="3.1"/><circle cx="805" cy="831.3" r="3.1"/><circle cx="854.7" cy="924.5" r="3.1"/><circle cx="725.4" cy="749.8" r="3.1"/><circle cx="650.3" cy="681.8" r="3.1"/><circle cx="673.3" cy="713.3" r="3.1"/><circle cx="790.3" cy="887" r="3.1"/><circle cx="747.8" cy="753" r="3.1"/><circle cx="872.6" cy="899.1" r="3.1"/><circle cx="698.4" cy="797.7" r="3.1"/><circle cx="730.7" cy="737.6" r="3.1"/><circle cx="657" cy="746.8" r="3.1"/><circle cx="788.3" cy="815.5" r="3.1"/><circle cx="871" cy="780.5" r="3.1"/><circle cx="672" cy="779.2" r="3.1"/><circle cx="792.8" cy="832.1" r="3.1"/><circle cx="798.4" cy="712.3" r="3.1"/><circle cx="891.4" cy="922.1" r="3.1"/><circle cx="743.4" cy="770" r="3.1"/><circle cx="793.1" cy="945.1" r="3.1"/><circle cx="836.8" cy="738.9" r="3.1"/><circle cx="744.6" cy="906.9" r="3.1"/><circle cx="671.6" cy="694.7" r="3.1"/><circle cx="703" cy="847.5" r="3.1"/><circle cx="857.1" cy="723.9" r="3.1"/><circle cx="729.5" cy="915.6" r="3.1"/><circle cx="754.8" cy="847.8" r="3.1"/><circle cx="694.8" cy="830.1" r="3.1"/><circle cx="776.9" cy="859.2" r="3.1"/><circle cx="661.3" cy="677.1" r="3.1"/><circle cx="844.5" cy="760.7" r="3.1"/><circle cx="696.1" cy="839.4" r="3.1"/><circle cx="670.8" cy="655.8" r="3.1"/><circle cx="781.3" cy="918.8" r="3.1"/><circle cx="644.7" cy="770.8" r="3.1"/><circle cx="634.5" cy="696.6" r="3.1"/><circle cx="746.2" cy="855.1" r="3.1"/><circle cx="811.9" cy="828.2" r="3.1"/><circle cx="652.1" cy="673.5" r="3.1"/><circle cx="663.9" cy="814.3" r="3.1"/><circle cx="685.5" cy="838.6" r="3.1"/><circle cx="822.5" cy="713.1" r="3.1"/><circle cx="899.6" cy="819" r="3.1"/><circle cx="700.6" cy="816.3" r="3.1"/><circle cx="820.4" cy="870.9" r="3.1"/><circle cx="656.1" cy="795.4" r="3.1"/><circle cx="925.7" cy="818.6" r="3.1"/><circle cx="659.4" cy="663.6" r="3.1"/><circle cx="640.6" cy="783.7" r="3.1"/><circle cx="639.8" cy="817.9" r="3.1"/><circle cx="862.9" cy="851.9" r="3.1"/><circle cx="816.4" cy="822.8" r="3.1"/><circle cx="758.5" cy="866.8" r="3.1"/><circle cx="798.1" cy="744.1" r="3.1"/><circle cx="783.3" cy="794.2" r="3.1"/><circle cx="853.9" cy="901.5" r="3.1"/><circle cx="727.1" cy="786.9" r="3.1"/><circle cx="718.8" cy="662.4" r="3.1"/><circle cx="786.4" cy="702.8" r="3.1"/><circle cx="689.4" cy="734.6" r="3.1"/><circle cx="922.9" cy="844.5" r="3.1"/><circle cx="648.2" cy="803.9" r="3.1"/><circle cx="857.1" cy="763.9" r="3.1"/><circle cx="815.1" cy="733.8" r="3.1"/><circle cx="773.2" cy="886.6" r="3.1"/><circle cx="695.6" cy="836.2" r="3.1"/><circle cx="675.7" cy="673.1" r="3.1"/><circle cx="805" cy="936.7" r="3.1"/><circle cx="891.9" cy="895.6" r="3.1"/><circle cx="696.9" cy="860.4" r="3.1"/><circle cx="699.5" cy="743.6" r="3.1"/><circle cx="735.2" cy="818.4" r="3.1"/><circle cx="731.9" cy="838.9" r="3.1"/><circle cx="769.9" cy="826.8" r="3.1"/><circle cx="794.4" cy="893.5" r="3.1"/><circle cx="836.8" cy="866.8" r="3.1"/><circle cx="889.4" cy="879.1" r="3.1"/><circle cx="717.7" cy="676.2" r="3.1"/><circle cx="736.7" cy="781.1" r="3.1"/><circle cx="798.4" cy="740.9" r="3.1"/><circle cx="828.6" cy="874.1" r="3.1"/><circle cx="882.9" cy="790.7" r="3.1"/><circle cx="711.5" cy="790.4" r="3.1"/><circle cx="822.1" cy="934.2" r="3.1"/><circle cx="901.2" cy="786.8" r="3.1"/><circle cx="814.8" cy="922.9" r="3.1"/><circle cx="655" cy="652.8" r="3.1"/><circle cx="668.4" cy="655" r="3.1"/><circle cx="737.2" cy="903.7" r="3.1"/><circle cx="787.7" cy="943.1" r="3.1"/><circle cx="905.3" cy="782" r="3.1"/><circle cx="851" cy="828.4" r="3.1"/><circle cx="671.6" cy="646.1" r="3.1"/><circle cx="853.1" cy="744.9" r="3.1"/><circle cx="696.5" cy="863.2" r="3.1"/><circle cx="779.7" cy="939.1" r="3.1"/><circle cx="679.8" cy="811.9" r="3.1"/><circle cx="775.6" cy="939.9" r="3.1"/><circle cx="937.5" cy="940.7" r="3.1"/><circle cx="953" cy="873.5" r="3.1"/><circle cx="686.5" cy="691.8" r="3.1"/><circle cx="802.9" cy="811.1" r="3.1"/><circle cx="662.2" cy="666.6" r="3.1"/><circle cx="902.5" cy="940.6" r="3.1"/><circle cx="811.5" cy="820.8" r="3.1"/><circle cx="822.1" cy="857.5" r="3.1"/><circle cx="852.6" cy="885" r="3.1"/><circle cx="864.5" cy="810.3" r="3.1"/><circle cx="874.3" cy="872.3" r="3.1"/><circle cx="691" cy="768.4" r="3.1"/><circle cx="968.9" cy="868.6" r="3.1"/><circle cx="653.3" cy="825" r="3.1"/><circle cx="755.1" cy="789.7" r="3.1"/><circle cx="705.1" cy="658.2" r="3.1"/><circle cx="962.4" cy="892.9" r="3.1"/><circle cx="880.7" cy="790.6" r="3.1"/><circle cx="824.6" cy="679.2" r="3.1"/><circle cx="819.3" cy="881.8" r="3.1"/><circle cx="723.4" cy="826.8" r="3.1"/><circle cx="791.1" cy="781.6" r="3.1"/><circle cx="735.6" cy="737.3" r="3.1"/><circle cx="829.9" cy="678.7" r="3.1"/><circle cx="815.6" cy="854.3" r="3.1"/><circle cx="759.3" cy="712.5" r="3.1"/><circle cx="664.7" cy="741.7" r="3.1"/><circle cx="691.2" cy="697.1" r="3.1"/><circle cx="861.9" cy="744.1" r="3.1"/><circle cx="743.4" cy="893.5" r="3.1"/><circle cx="823.7" cy="813.5" r="3.1"/><circle cx="668.4" cy="675.5" r="3.1"/><circle cx="847.8" cy="755.4" r="3.1"/><circle cx="914.7" cy="796" r="3.1"/><circle cx="893.3" cy="862.6" r="3.1"/><circle cx="802.1" cy="745.7" r="3.1"/><circle cx="843.3" cy="766.2" r="3.1"/><circle cx="682.2" cy="871.7" r="3.1"/><circle cx="807" cy="897.8" r="3.1"/><circle cx="819.5" cy="770.8" r="3.1"/><circle cx="937.5" cy="864.2" r="3.1"/><circle cx="804.5" cy="794.6" r="3.1"/><circle cx="755.4" cy="840.5" r="3.1"/><circle cx="802.6" cy="774.8" r="3.1"/><circle cx="656.1" cy="838.9" r="3.1"/><circle cx="753.6" cy="887" r="3.1"/><circle cx="932.8" cy="871" r="3.1"/><circle cx="796.8" cy="850.2" r="3.1"/><circle cx="897.5" cy="911" r="3.1"/><circle cx="776" cy="855.1" r="3.1"/><circle cx="820.4" cy="864.8" r="3.1"/><circle cx="928.2" cy="829.4" r="3.1"/><circle cx="692" cy="666.2" r="3.1"/><circle cx="879.6" cy="799.5" r="3.1"/><circle cx="703.2" cy="647.1" r="3.1"/><circle cx="873.8" cy="726.9" r="3.1"/><circle cx="721" cy="893.9" r="3.1"/><circle cx="668.8" cy="858.8" r="3.1"/><circle cx="875.4" cy="809.5" r="3.1"/><circle cx="823.3" cy="910.4" r="3.1"/><circle cx="688.4" cy="818.4" r="3.1"/><circle cx="816" cy="717.4" r="3.1"/><circle cx="664.3" cy="843" r="3.1"/><circle cx="678.8" cy="677.3" r="3.1"/><circle cx="734" cy="765.4" r="3.1"/><circle cx="683.1" cy="669.5" r="3.1"/><circle cx="860.8" cy="885.8" r="3.1"/><circle cx="690.3" cy="814.7" r="3.1"/><circle cx="633.6" cy="769.2" r="3.1"/><circle cx="728.3" cy="860" r="3.1"/><circle cx="769.5" cy="770.8" r="3.1"/><circle cx="820.3" cy="798.5" r="3.1"/><circle cx="673.6" cy="743.6" r="3.1"/><circle cx="708.7" cy="740.9" r="3.1"/><circle cx="822.5" cy="923.7" r="3.1"/><circle cx="774.8" cy="905.5" r="3.1"/><circle cx="671.6" cy="807.5" r="3.1"/><circle cx="723.4" cy="780.3" r="3.1"/><circle cx="668.8" cy="764.3" r="3.1"/><circle cx="705.4" cy="857.1" r="3.1"/><circle cx="772" cy="771.2" r="3.1"/><circle cx="866.5" cy="767.6" r="3.1"/><circle cx="777.2" cy="750.6" r="3.1"/><circle cx="716.8" cy="770" r="3.1"/><circle cx="887.8" cy="776.6" r="3.1"/><circle cx="705.9" cy="709" r="3.1"/><circle cx="786.5" cy="692.1" r="3.1"/><circle cx="819.8" cy="671.1" r="3.1"/><circle cx="829.9" cy="907.2" r="3.1"/><circle cx="672.8" cy="850.2" r="3.1"/><circle cx="747.4" cy="803.5" r="3.1"/><circle cx="697.3" cy="888.3" r="3.1"/><circle cx="791.1" cy="867.6" r="3.1"/><circle cx="928.2" cy="930.7" r="3.1"/><circle cx="760.1" cy="870.9" r="3.1"/><circle cx="717.3" cy="835.3" r="3.1"/><circle cx="635.8" cy="788.6" r="3.1"/><circle cx="715.2" cy="881.8" r="3.1"/><circle cx="677.8" cy="659.8" r="3.1"/><circle cx="714.4" cy="857.5" r="3.1"/><circle cx="687.1" cy="876.5" r="3.1"/><circle cx="868.2" cy="786.9" r="3.1"/><circle cx="890.2" cy="790.3" r="3.1"/><circle cx="657" cy="808.3" r="3.1"/><circle cx="690.8" cy="851.1" r="3.1"/><circle cx="789.5" cy="922.9" r="3.1"/><circle cx="794.7" cy="835.3" r="3.1"/><circle cx="880.7" cy="869.7" r="3.1"/><circle cx="680.6" cy="767.8" r="3.1"/><circle cx="733.2" cy="882.6" r="3.1"/><circle cx="810.7" cy="857.1" r="3.1"/><circle cx="684.7" cy="701.4" r="3.1"/><circle cx="679.4" cy="842.6" r="3.1"/><circle cx="724.6" cy="711.3" r="3.1"/><circle cx="813.2" cy="780.5" r="3.1"/><circle cx="804.5" cy="862.8" r="3.1"/><circle cx="830.9" cy="701.4" r="3.1"/><circle cx="831.9" cy="885" r="3.1"/><circle cx="937.5" cy="921.1" r="3.1"/><circle cx="944.4" cy="923.2" r="3.1"/><circle cx="683.1" cy="660.1" r="3.1"/><circle cx="803.7" cy="934.2" r="3.1"/><circle cx="754" cy="861.6" r="3.1"/><circle cx="829.4" cy="896.7" r="3.1"/><circle cx="939.9" cy="831.8" r="3.1"/><circle cx="703.4" cy="885" r="3.1"/><circle cx="637.5" cy="741.7" r="3.1"/><circle cx="665.1" cy="845.4" r="3.1"/><circle cx="695.6" cy="792.2" r="3.1"/><circle cx="878.3" cy="775.6" r="3.1"/><circle cx="799.2" cy="763.9" r="3.1"/><circle cx="755.7" cy="802.7" r="3.1"/><circle cx="741.3" cy="854.7" r="3.1"/><circle cx="695.4" cy="676.6" r="3.1"/><circle cx="641.6" cy="673.5" r="3.1"/><circle cx="723" cy="921.3" r="3.1"/><circle cx="827.8" cy="734.4" r="3.1"/><circle cx="694" cy="670.3" r="3.1"/><circle cx="784.2" cy="912.4" r="3.1"/><circle cx="918.4" cy="846.9" r="3.1"/><circle cx="643.5" cy="691.3" r="3.1"/><circle cx="867.3" cy="940.7" r="3.1"/><circle cx="707.5" cy="852.7" r="3.1"/><circle cx="946.5" cy="938.3" r="3.1"/><circle cx="672.4" cy="755" r="3.1"/><circle cx="694.5" cy="887.8" r="3.1"/><circle cx="763.2" cy="729.5" r="3.1"/><circle cx="770.1" cy="774.8" r="3.1"/><circle cx="763.4" cy="879.4" r="3.1"/><circle cx="655.9" cy="729.2" r="3.1"/><circle cx="906.2" cy="916.1" r="3.1"/><circle cx="676.1" cy="791.8" r="3.1"/><circle cx="784.6" cy="920.5" r="3.1"/><circle cx="917.1" cy="895.6" r="3.1"/><circle cx="704.3" cy="732" r="3.1"/><circle cx="858.4" cy="838.7" r="3.1"/><circle cx="765.4" cy="882.6" r="3.1"/><circle cx="807.4" cy="810.3" r="3.1"/><circle cx="674.1" cy="797.4" r="3.1"/><circle cx="868.2" cy="841" r="3.1"/><circle cx="955.4" cy="909.8" r="3.1"/><circle cx="868.5" cy="809.5" r="3.1"/><circle cx="792.3" cy="719.2" r="3.1"/><circle cx="662.1" cy="670.3" r="3.1"/><circle cx="759.7" cy="725.3" r="3.1"/><circle cx="639.8" cy="723.1" r="3.1"/><circle cx="715.2" cy="659.3" r="3.1"/><circle cx="683.7" cy="711.1" r="3.1"/><circle cx="777.2" cy="877.8" r="3.1"/><circle cx="844.5" cy="799.5" r="3.1"/><circle cx="819.6" cy="897.8" r="3.1"/><circle cx="678.1" cy="752.2" r="3.1"/><circle cx="827.8" cy="731.6" r="3.1"/><circle cx="954.2" cy="867.8" r="3.1"/><circle cx="698.4" cy="662.8" r="3.1"/><circle cx="761.8" cy="817.6" r="3.1"/><circle cx="714.4" cy="718.4" r="3.1"/><circle cx="845.7" cy="852.7" r="3.1"/><circle cx="706.2" cy="803.1" r="3.1"/><circle cx="635.8" cy="724.3" r="3.1"/><circle cx="833.9" cy="822" r="3.1"/><circle cx="709.6" cy="802.7" r="3.1"/><circle cx="890.2" cy="755.7" r="3.1"/><circle cx="920.4" cy="801.9" r="3.1"/><circle cx="824.9" cy="859.6" r="3.1"/><circle cx="697.3" cy="771.2" r="3.1"/><circle cx="820.9" cy="935.9" r="3.1"/><circle cx="689.8" cy="684.8" r="3.1"/><circle cx="686.7" cy="746" r="3.1"/><circle cx="797.6" cy="917.2" r="3.1"/><circle cx="787" cy="794.6" r="3.1"/><circle cx="635.1" cy="726.8" r="3.1"/><circle cx="735.8" cy="698.2" r="3.1"/><circle cx="691.2" cy="791.2" r="3.1"/><circle cx="777.2" cy="806.8" r="3.1"/><circle cx="800.9" cy="909.1" r="3.1"/><circle cx="886.9" cy="737.5" r="3.1"/><circle cx="840.4" cy="850.7" r="3.1"/><circle cx="686.4" cy="652.8" r="3.1"/><circle cx="876.3" cy="892.6" r="3.1"/><circle cx="680.3" cy="688.8" r="3.1"/><circle cx="718.1" cy="819.6" r="3.1"/><circle cx="674.1" cy="648" r="3.1"/><circle cx="628.4" cy="792.8" r="3.1"/><circle cx="693.7" cy="716.3" r="3.1"/><circle cx="895.5" cy="760.9" r="3.1"/><circle cx="709.3" cy="638.5" r="3.1"/><circle cx="706.2" cy="643.2" r="3.1"/><circle cx="669.7" cy="730.3" r="3.1"/><circle cx="885.3" cy="760.1" r="3.1"/><circle cx="674.5" cy="802.7" r="3.1"/><circle cx="713.2" cy="682.8" r="3.1"/><circle cx="979" cy="881.1" r="3.1"/><circle cx="771.6" cy="812.5" r="3.1"/><circle cx="911.6" cy="835.8" r="3.1"/><circle cx="640.6" cy="694.5" r="3.1"/><circle cx="697.6" cy="774.4" r="3.1"/><circle cx="727.9" cy="816.8" r="3.1"/><circle cx="643.4" cy="668.7" r="3.1"/><circle cx="721.3" cy="871.7" r="3.1"/><circle cx="837" cy="687.2" r="3.1"/><circle cx="880.7" cy="909.9" r="3.1"/><circle cx="901.7" cy="850.5" r="3.1"/><circle cx="824.9" cy="837.8" r="3.1"/><circle cx="801.7" cy="751.4" r="3.1"/><circle cx="642.3" cy="729.5" r="3.1"/><circle cx="734.8" cy="893.9" r="3.1"/><circle cx="795.2" cy="881.8" r="3.1"/><circle cx="838.4" cy="889.4" r="3.1"/><circle cx="771.1" cy="958.8" r="3.1"/><circle cx="714.9" cy="854.7" r="3.1"/><circle cx="752" cy="749.8" r="3.1"/><circle cx="679.8" cy="871.3" r="3.1"/><circle cx="668.8" cy="692.7" r="3.1"/><circle cx="667.7" cy="749.4" r="3.1"/><circle cx="755.3" cy="739.7" r="3.1"/><circle cx="924.5" cy="937.7" r="3.1"/><circle cx="879.1" cy="779.2" r="3.1"/><circle cx="693.7" cy="874.5" r="3.1"/><circle cx="778.9" cy="768.4" r="3.1"/><circle cx="992.2" cy="893.2" r="3.1"/></g><g fill="#3B528B"><circle cx="857.9" cy="828.9" r="3.1"/><circle cx="842.1" cy="737.6" r="3.1"/><circle cx="892.7" cy="800" r="3.1"/><circle cx="941.6" cy="887" r="3.1"/><circle cx="735.6" cy="860.4" r="3.1"/><circle cx="820.9" cy="952.1" r="3.1"/><circle cx="871.8" cy="817.6" r="3.1"/><circle cx="831.9" cy="753" r="3.1"/><circle cx="886.9" cy="860.9" r="3.1"/><circle cx="825.7" cy="923.7" r="3.1"/><circle cx="806.2" cy="777.5" r="3.1"/><circle cx="817.2" cy="764.3" r="3.1"/><circle cx="848.2" cy="843.4" r="3.1"/><circle cx="855.1" cy="740.5" r="3.1"/><circle cx="930.2" cy="933.7" r="3.1"/><circle cx="816.4" cy="940.2" r="3.1"/><circle cx="802.9" cy="822" r="3.1"/><circle cx="805" cy="924.1" r="3.1"/><circle cx="959.5" cy="903.2" r="3.1"/><circle cx="695.6" cy="648.5" r="3.1"/><circle cx="815.1" cy="876.2" r="3.1"/><circle cx="779.3" cy="750.6" r="3.1"/><circle cx="886.1" cy="773" r="3.1"/><circle cx="769.1" cy="946.5" r="3.1"/><circle cx="952.6" cy="926.8" r="3.1"/><circle cx="828.2" cy="882.2" r="3.1"/><circle cx="907.8" cy="829.7" r="3.1"/><circle cx="970.1" cy="934.5" r="3.1"/><circle cx="967.6" cy="886.4" r="3.1"/><circle cx="955" cy="898.5" r="3.1"/><circle cx="892.7" cy="848.9" r="3.1"/><circle cx="925.7" cy="946.9" r="3.1"/><circle cx="743.4" cy="824.4" r="3.1"/><circle cx="709.9" cy="846.2" r="3.1"/><circle cx="680.2" cy="784.9" r="3.1"/><circle cx="935.5" cy="914.8" r="3.1"/><circle cx="819.3" cy="953" r="3.1"/><circle cx="819.8" cy="712.5" r="3.1"/><circle cx="903.4" cy="810.3" r="3.1"/><circle cx="917.9" cy="926.1" r="3.1"/><circle cx="838.4" cy="943.1" r="3.1"/><circle cx="858.4" cy="821.6" r="3.1"/><circle cx="836.4" cy="871.7" r="3.1"/><circle cx="884.5" cy="752.5" r="3.1"/><circle cx="759.2" cy="937.5" r="3.1"/><circle cx="786.6" cy="878.6" r="3.1"/><circle cx="683.9" cy="859.7" r="3.1"/><circle cx="844.9" cy="804.7" r="3.1"/><circle cx="830.7" cy="789.4" r="3.1"/><circle cx="807.4" cy="702.8" r="3.1"/><circle cx="980.7" cy="905.8" r="3.1"/><circle cx="798.1" cy="938.3" r="3.1"/><circle cx="809.8" cy="889.1" r="3.1"/><circle cx="830.2" cy="834.9" r="3.1"/><circle cx="753.6" cy="799" r="3.1"/><circle cx="853.5" cy="916.8" r="3.1"/><circle cx="769.3" cy="834.1" r="3.1"/><circle cx="931.4" cy="940.7" r="3.1"/><circle cx="725.8" cy="805.5" r="3.1"/><circle cx="837.6" cy="853.5" r="3.1"/></g><g fill="#2A788E"><circle cx="791.1" cy="730" r="3.1"/><circle cx="787.5" cy="849.9" r="3.1"/><circle cx="810.1" cy="791" r="3.1"/><circle cx="891.4" cy="814.8" r="3.1"/><circle cx="867.3" cy="845" r="3.1"/><circle cx="849.7" cy="792.2" r="3.1"/><circle cx="847" cy="718.7" r="3.1"/><circle cx="784.2" cy="936.7" r="3.1"/><circle cx="933" cy="924" r="3.1"/><circle cx="758.9" cy="927.6" r="3.1"/><circle cx="748.2" cy="887.8" r="3.1"/><circle cx="813.5" cy="866.8" r="3.1"/><circle cx="847.8" cy="710.1" r="3.1"/><circle cx="811.1" cy="916.8" r="3.1"/><circle cx="880.4" cy="718.7" r="3.1"/><circle cx="841.7" cy="702.6" r="3.1"/><circle cx="875.1" cy="819.6" r="3.1"/><circle cx="970.1" cy="860.9" r="3.1"/><circle cx="834.7" cy="779.7" r="3.1"/><circle cx="650.3" cy="834.5" r="3.1"/><circle cx="779.3" cy="869.7" r="3.1"/><circle cx="805.4" cy="856.3" r="3.1"/><circle cx="814" cy="847.5" r="3.1"/><circle cx="847.4" cy="815.9" r="3.1"/><circle cx="815.6" cy="751.4" r="3.1"/><circle cx="915.9" cy="814.6" r="3.1"/><circle cx="953.6" cy="850.1" r="3.1"/><circle cx="935.9" cy="946" r="3.1"/><circle cx="871.8" cy="843" r="3.1"/><circle cx="840.4" cy="857.5" r="3.1"/><circle cx="945" cy="859.7" r="3.1"/><circle cx="770.7" cy="848.1" r="3.1"/><circle cx="782.2" cy="686.8" r="3.1"/><circle cx="849" cy="801.5" r="3.1"/><circle cx="786.2" cy="888.6" r="3.1"/><circle cx="842.5" cy="938.3" r="3.1"/></g><g fill="#2FB47C"><circle cx="819.6" cy="811.1" r="3.1"/><circle cx="927.3" cy="927.6" r="3.1"/><circle cx="976.6" cy="913" r="3.1"/><circle cx="983.5" cy="878.3" r="3.1"/><circle cx="981.5" cy="874.3" r="3.1"/><circle cx="964.8" cy="932.4" r="3.1"/><circle cx="961.5" cy="946.9" r="3.1"/><circle cx="960.7" cy="854.7" r="3.1"/><circle cx="934.6" cy="843.9" r="3.1"/><circle cx="685.5" cy="880.2" r="3.1"/><circle cx="807" cy="943.9" r="3.1"/><circle cx="945.2" cy="915.3" r="3.1"/><circle cx="928.5" cy="914.7" r="3.1"/><circle cx="955" cy="950.1" r="3.1"/><circle cx="951" cy="921.1" r="3.1"/><circle cx="968.5" cy="902.6" r="3.1"/><circle cx="952.2" cy="932.4" r="3.1"/><circle cx="945.7" cy="954.9" r="3.1"/><circle cx="807.4" cy="903.9" r="3.1"/><circle cx="834.7" cy="734.4" r="3.1"/><circle cx="956.2" cy="889.2" r="3.1"/><circle cx="961.5" cy="895.3" r="3.1"/><circle cx="862" cy="913.8" r="3.1"/><circle cx="738.9" cy="884.6" r="3.1"/><circle cx="945.2" cy="934.8" r="3.1"/><circle cx="722.2" cy="882.2" r="3.1"/><circle cx="722.2" cy="868.1" r="3.1"/><circle cx="918.7" cy="936.1" r="3.1"/><circle cx="972.1" cy="891.3" r="3.1"/><circle cx="949.7" cy="945.6" r="3.1"/><circle cx="931.6" cy="956.8" r="3.1"/><circle cx="742.5" cy="912.8" r="3.1"/><circle cx="983.2" cy="884" r="3.1"/><circle cx="979" cy="924.3" r="3.1"/><circle cx="972.9" cy="919.5" r="3.1"/></g><g fill="#7AD151"><circle cx="811.9" cy="672.3" r="3.1"/><circle cx="834.3" cy="681.2" r="3.1"/><circle cx="850.5" cy="697.7" r="3.1"/><circle cx="804.2" cy="681.8" r="3.1"/><circle cx="817.9" cy="701.4" r="3.1"/><circle cx="826.2" cy="681.2" r="3.1"/><circle cx="816.8" cy="665.7" r="3.1"/><circle cx="829" cy="672.1" r="3.1"/><circle cx="817.6" cy="675.5" r="3.1"/><circle cx="797.6" cy="664.2" r="3.1"/></g><g fill="#FDE725"><circle cx="831.9" cy="774.4" r="3.1"/><circle cx="856.3" cy="901.5" r="3.1"/><circle cx="798.4" cy="892.3" r="3.1"/><circle cx="786.6" cy="836.7" r="3.1"/><circle cx="742.5" cy="717.1" r="3.1"/><circle cx="890.9" cy="865" r="3.1"/><circle cx="807" cy="909.9" r="3.1"/><circle cx="927.7" cy="891.8" r="3.1"/><circle cx="852.3" cy="880.2" r="3.1"/><circle cx="843.9" cy="713.1" r="3.1"/><circle cx="858.8" cy="816.8" r="3.1"/><circle cx="838.4" cy="805.1" r="3.1"/><circle cx="814" cy="915.6" r="3.1"/><circle cx="776.9" cy="887.8" r="3.1"/><circle cx="862.4" cy="727.6" r="3.1"/><circle cx="980.5" cy="894.8" r="3.1"/><circle cx="773.2" cy="913.6" r="3.1"/><circle cx="835.1" cy="891.8" r="3.1"/><circle cx="948.9" cy="873.9" r="3.1"/><circle cx="746.1" cy="825" r="3.1"/><circle cx="785.4" cy="903.1" r="3.1"/></g><line x1="40.6" y1="27.5" x2="40.6" y2="507.8" stroke="#333333" stroke-width="1.5"/><line x1="39.9" y1="507" x2="589" y2="507" stroke="#333333" stroke-width="1.5"/><line x1="696" y1="27.5" x2="696" y2="508.2" stroke="#333333" stroke-width="1.5"/><line x1="695.2" y1="507.5" x2="1246" y2="507.5" stroke="#333333" stroke-width="1.5"/><line x1="1365" y1="27.8" x2="1365" y2="508.1" stroke="#333333" stroke-width="1.5"/><line x1="1364.2" y1="507.4" x2="1914" y2="507.4" stroke="#333333" stroke-width="1.5"/><line x1="40.6" y1="608.2" x2="40.6" y2="989.8" stroke="#333333" stroke-width="1.5"/><line x1="39.9" y1="989" x2="442" y2="989" stroke="#333333" stroke-width="1.5"/><line x1="609" y1="608.2" x2="609" y2="989.8" stroke="#333333" stroke-width="1.5"/><line x1="608.2" y1="989" x2="1009.4" y2="989" stroke="#333333" stroke-width="1.5"/><text x="315.5" y="538.8" font-size="25.5" text-anchor="middle" textLength="96" lengthAdjust="spacingAndGlyphs">UMAP_1</text><text x="971.4" y="537.8" font-size="25.5" text-anchor="middle" textLength="96" lengthAdjust="spacingAndGlyphs">UMAP_1</text><text x="1639.7" y="538.3" font-size="25.5" text-anchor="middle" textLength="96" lengthAdjust="spacingAndGlyphs">UMAP_1</text><text x="242" y="1021.5" font-size="25.5" text-anchor="middle" textLength="96" lengthAdjust="spacingAndGlyphs">UMAP_1</text><text x="809.5" y="1021.5" font-size="25.5" text-anchor="middle" textLength="96" lengthAdjust="spacingAndGlyphs">UMAP_1</text><text x="24" y="266.6" font-size="25.5" text-anchor="middle" textLength="99" lengthAdjust="spacingAndGlyphs" transform="rotate(-90 24 266.6)">UMAP_2</text><text x="682.6" y="266.9" font-size="25.5" text-anchor="middle" textLength="99" lengthAdjust="spacingAndGlyphs" transform="rotate(-90 682.6 266.9)">UMAP_2</text><text x="1351.6" y="266.2" font-size="25.5" text-anchor="middle" textLength="99" lengthAdjust="spacingAndGlyphs" transform="rotate(-90 1351.6 266.2)">UMAP_2</text><text x="24.8" y="797.6" font-size="25.5" text-anchor="middle" textLength="99" lengthAdjust="spacingAndGlyphs" transform="rotate(-90 24.8 797.6)">UMAP_2</text><text x="590.5" y="797.6" font-size="25.5" text-anchor="middle" textLength="99" lengthAdjust="spacingAndGlyphs" transform="rotate(-90 590.5 797.6)">UMAP_2</text><text x="466.8" y="43" font-size="28" textLength="103.3" lengthAdjust="spacingAndGlyphs">Clusters</text><circle cx="488.8" cy="71.3" r="8.9" fill="#E41A1C" stroke="#111" stroke-width="1.1"/><text x="510.1" y="78.7" font-size="21">0</text><circle cx="488.8" cy="101.1" r="8.9" fill="#377EB8" stroke="#111" stroke-width="1.1"/><text x="510.1" y="108.5" font-size="21">1</text><circle cx="488.8" cy="131" r="8.9" fill="#4DAF4A" stroke="#111" stroke-width="1.1"/><text x="510.1" y="138.4" font-size="21">2</text><circle cx="488.8" cy="160.9" r="8.9" fill="#984EA3" stroke="#111" stroke-width="1.1"/><text x="510.1" y="168.3" font-size="21">3</text><text x="1088.2" y="41.2" font-size="28.5" textLength="132" lengthAdjust="spacingAndGlyphs">Age group</text><circle cx="1112.2" cy="72" r="9.2" fill="#6EE0DA" stroke="#111" stroke-width="1.1"/><text x="1134" y="79.4" font-size="21">N</text><circle cx="1112.2" cy="102.7" r="9.2" fill="#2660B0" stroke="#111" stroke-width="1.1"/><text x="1134" y="110.1" font-size="21">C</text><circle cx="1112.2" cy="133.7" r="9.2" fill="#F8B400" stroke="#111" stroke-width="1.1"/><text x="1134" y="141.1" font-size="21">A</text><circle cx="1112.2" cy="164.8" r="9.2" fill="#EE2A7B" stroke="#111" stroke-width="1.1"/><text x="1134" y="172.2" font-size="21">OA</text><text x="1850.6" y="43.2" font-size="28.6" text-anchor="middle" textLength="184.6" lengthAdjust="spacingAndGlyphs">Naive/memory</text><text x="1851.1" y="74.1" font-size="28.6" text-anchor="middle" textLength="134.9" lengthAdjust="spacingAndGlyphs">phenotype</text><circle cx="1814.5" cy="102.5" r="9.3" fill="#B3DEEC" stroke="#111" stroke-width="1.1"/><text x="1833.9" y="109.9" font-size="21">T<tspan font-size="15" dy="6">naive</tspan></text><circle cx="1814.5" cy="139.3" r="9.3" fill="#6622AA" stroke="#111" stroke-width="1.1"/><text x="1833.9" y="146.7" font-size="21">T<tspan font-size="14" dy="6">CM</tspan></text><circle cx="1814.5" cy="175.9" r="9.3" fill="#FF9A2E" stroke="#111" stroke-width="1.1"/><text x="1833.9" y="183.3" font-size="21">T<tspan font-size="14" dy="6">EM</tspan></text><circle cx="1814.5" cy="212.6" r="9.3" fill="#A3D62A" stroke="#111" stroke-width="1.1"/><text x="1833.9" y="220" font-size="21">T<tspan font-size="14" dy="6">EMRA</tspan></text><circle cx="1814.5" cy="249.4" r="9.3" fill="#C6228F" stroke="#111" stroke-width="1.1"/><text x="1833.9" y="256.8" font-size="21">T<tspan font-size="14" dy="6">SCM</tspan></text><text x="313.4" y="603" font-size="27.1" textLength="161.2" lengthAdjust="spacingAndGlyphs">TCR features</text><circle cx="345.1" cy="624" r="6.9" fill="#8E0B25" stroke="#111" stroke-width="1.1"/><text x="362.3" y="630.8" font-size="19.5">TRAV27-TRBV19-</text><text x="362.3" y="655.3" font-size="19.5">CDR3-RS</text><circle cx="345.1" cy="678.8" r="6.9" fill="#F03C0F" stroke="#111" stroke-width="1.1"/><text x="362.3" y="685.6" font-size="19.5">TRBV19-CDR3-RS</text><circle cx="345.1" cy="708.1" r="6.9" fill="#FFD700" stroke="#111" stroke-width="1.1"/><text x="362.3" y="714.9" font-size="19.5">CDR3-RS</text><circle cx="345.1" cy="738.4" r="6.9" fill="#B0B0B0" stroke="#111" stroke-width="1.1"/><text x="362.3" y="745.2" font-size="19.5">Other</text><text x="849.9" y="604" font-size="28.4" textLength="191.2" lengthAdjust="spacingAndGlyphs">log (clone size)</text><defs><linearGradient id="vir" x1="0" y1="1" x2="0" y2="0"><stop offset="0.000" stop-color="#440154"/><stop offset="0.125" stop-color="#482878"/><stop offset="0.250" stop-color="#3E4A89"/><stop offset="0.375" stop-color="#31688E"/><stop offset="0.500" stop-color="#26828E"/><stop offset="0.625" stop-color="#1F9E89"/><stop offset="0.750" stop-color="#35B779"/><stop offset="0.875" stop-color="#6DCD59"/><stop offset="1.000" stop-color="#FDE725"/></linearGradient></defs><rect x="943" y="623.7" width="25" height="123.3" fill="url(#vir)"/><line x1="943" y1="748" x2="948" y2="748" stroke="#fff" stroke-width="1.2"/><line x1="963" y1="748" x2="968" y2="748" stroke="#fff" stroke-width="1.2"/><text x="976" y="755.2" font-size="20">0</text><line x1="943" y1="707.4" x2="948" y2="707.4" stroke="#fff" stroke-width="1.2"/><line x1="963" y1="707.4" x2="968" y2="707.4" stroke="#fff" stroke-width="1.2"/><text x="976" y="714.6" font-size="20">1</text><line x1="943" y1="666.8" x2="948" y2="666.8" stroke="#fff" stroke-width="1.2"/><line x1="963" y1="666.8" x2="968" y2="666.8" stroke="#fff" stroke-width="1.2"/><text x="976" y="674" font-size="20">2</text><line x1="943" y1="626.2" x2="948" y2="626.2" stroke="#fff" stroke-width="1.2"/><line x1="963" y1="626.2" x2="968" y2="626.2" stroke="#fff" stroke-width="1.2"/><text x="976" y="633.4" font-size="20">3</text><text x="0" y="33" font-size="39" font-weight="bold" stroke="#000" stroke-width="1.6">a</text><text x="1092" y="595" font-size="39" font-weight="bold" stroke="#000" stroke-width="1.6">b</text><text x="0" y="1095" font-size="39" font-weight="bold" stroke="#000" stroke-width="1.6">c</text><text x="609" y="1095.5" font-size="39" font-weight="bold" stroke="#000" stroke-width="1.6">d</text><text x="1218" y="1619" font-size="39" font-weight="bold" stroke="#000" stroke-width="1.6">e</text><line x1="1200" y1="657" x2="1200" y2="951.8" stroke="#333333" stroke-width="1.5"/><line x1="1200" y1="951.8" x2="1504" y2="951.8" stroke="#333333" stroke-width="1.5"/><line x1="1191" y1="938.8" x2="1200" y2="938.8" stroke="#555555" stroke-width="1.4"/><text x="1180" y="946.4" font-size="21.5" text-anchor="end" textLength="12.5" lengthAdjust="spacingAndGlyphs">0</text><line x1="1191" y1="864.1" x2="1200" y2="864.1" stroke="#555555" stroke-width="1.4"/><text x="1180" y="871.7" font-size="21.5" text-anchor="end" textLength="38" lengthAdjust="spacingAndGlyphs">100</text><line x1="1191" y1="789.5" x2="1200" y2="789.5" stroke="#555555" stroke-width="1.4"/><text x="1180" y="797.1" font-size="21.5" text-anchor="end" textLength="42" lengthAdjust="spacingAndGlyphs">200</text><line x1="1191" y1="714.8" x2="1200" y2="714.8" stroke="#555555" stroke-width="1.4"/><text x="1180" y="722.4" font-size="21.5" text-anchor="end" textLength="42" lengthAdjust="spacingAndGlyphs">300</text><rect x="1211" y="841.7" width="65" height="97.1" fill="#1F4A9F"/><rect x="1211" y="787" width="65" height="54.7" fill="#E60E6C"/><rect x="1211" y="669.9" width="65" height="117.1" fill="#F2A60F"/><rect x="1283.2" y="869.6" width="65" height="69.2" fill="#62DBD6"/><rect x="1283.2" y="823" width="65" height="46.6" fill="#1F4A9F"/><rect x="1283.2" y="788.7" width="65" height="34.3" fill="#E60E6C"/><rect x="1283.2" y="769.2" width="65" height="19.5" fill="#F2A60F"/><rect x="1355.7" y="879.6" width="65.5" height="59.2" fill="#62DBD6"/><rect x="1355.7" y="876.6" width="65.5" height="3" fill="#1F4A9F"/><rect x="1355.7" y="862.8" width="65.5" height="13.8" fill="#E60E6C"/><rect x="1355.7" y="860" width="65.5" height="2.8" fill="#F2A60F"/><rect x="1428.5" y="921" width="65.5" height="17.8" fill="#1F4A9F"/><rect x="1428.5" y="919.5" width="65.5" height="1.5" fill="#E60E6C"/><rect x="1428.5" y="863.9" width="65.5" height="55.6" fill="#F2A60F"/><line x1="1244" y1="951.8" x2="1244" y2="961.8" stroke="#555555" stroke-width="1.4"/><text x="1244" y="987" font-size="21.5" text-anchor="middle">0</text><line x1="1316.2" y1="951.8" x2="1316.2" y2="961.8" stroke="#555555" stroke-width="1.4"/><text x="1316.2" y="987" font-size="21.5" text-anchor="middle">1</text><line x1="1388.5" y1="951.8" x2="1388.5" y2="961.8" stroke="#555555" stroke-width="1.4"/><text x="1388.5" y="987" font-size="21.5" text-anchor="middle">2</text><line x1="1461.3" y1="951.8" x2="1461.3" y2="961.8" stroke="#555555" stroke-width="1.4"/><text x="1461.3" y="987" font-size="21.5" text-anchor="middle">3</text><text x="1352" y="1026.8" font-size="28" text-anchor="middle">Clusters</text><text x="1115" y="803.5" font-size="28" text-anchor="middle" transform="rotate(-90 1115 803.5)">No. cells</text><text x="1329" y="602" font-size="28.7">Age group</text><circle cx="1353.3" cy="632.5" r="9.3" fill="#6EE0DA" stroke="#111" stroke-width="1.1"/><text x="1374.4" y="640.1" font-size="21.5">N</text><circle cx="1353.3" cy="663.9" r="9.3" fill="#2660B0" stroke="#111" stroke-width="1.1"/><text x="1374.4" y="671.5" font-size="21.5">C</text><circle cx="1353.3" cy="694.8" r="9.3" fill="#F8B400" stroke="#111" stroke-width="1.1"/><text x="1374.4" y="702.4" font-size="21.5">A</text><circle cx="1353.3" cy="725.9" r="9.3" fill="#EE2A7B" stroke="#111" stroke-width="1.1"/><text x="1374.4" y="733.5" font-size="21.5">OA</text><line x1="1641.6" y1="657.7" x2="1641.6" y2="952.5" stroke="#333333" stroke-width="1.5"/><line x1="1641.6" y1="952.5" x2="1946" y2="952.5" stroke="#333333" stroke-width="1.5"/><line x1="1632.6" y1="939.1" x2="1641.6" y2="939.1" stroke="#555555" stroke-width="1.4"/><text x="1623.5" y="946.7" font-size="21.5" text-anchor="end" textLength="12.5" lengthAdjust="spacingAndGlyphs">0</text><line x1="1632.6" y1="864.5" x2="1641.6" y2="864.5" stroke="#555555" stroke-width="1.4"/><text x="1623.5" y="872.1" font-size="21.5" text-anchor="end" textLength="38" lengthAdjust="spacingAndGlyphs">100</text><line x1="1632.6" y1="790" x2="1641.6" y2="790" stroke="#555555" stroke-width="1.4"/><text x="1623.5" y="797.6" font-size="21.5" text-anchor="end" textLength="42" lengthAdjust="spacingAndGlyphs">200</text><line x1="1632.6" y1="715.4" x2="1641.6" y2="715.4" stroke="#555555" stroke-width="1.4"/><text x="1623.5" y="723" font-size="21.5" text-anchor="end" textLength="42" lengthAdjust="spacingAndGlyphs">300</text><rect x="1652.6" y="914.5" width="64.4" height="24.6" fill="#C51B7D"/><rect x="1652.6" y="899.6" width="64.4" height="14.9" fill="#ADD8E6"/><rect x="1652.6" y="894.8" width="64.4" height="4.8" fill="#A6D96A"/><rect x="1652.6" y="860.8" width="64.4" height="34" fill="#F9AE64"/><rect x="1652.6" y="670" width="64.4" height="190.8" fill="#333399"/><rect x="1724.6" y="936" width="65.4" height="3.1" fill="#C51B7D"/><rect x="1724.6" y="811.5" width="65.4" height="124.5" fill="#ADD8E6"/><rect x="1724.6" y="805" width="65.4" height="6.5" fill="#A6D96A"/><rect x="1724.6" y="769.6" width="65.4" height="35.4" fill="#333399"/><rect x="1797.5" y="881.7" width="65.5" height="57.4" fill="#ADD8E6"/><rect x="1797.5" y="879" width="65.5" height="2.7" fill="#A6D96A"/><rect x="1797.5" y="876.5" width="65.5" height="2.5" fill="#F9AE64"/><rect x="1797.5" y="860" width="65.5" height="16.5" fill="#333399"/><rect x="1870.8" y="936.8" width="64.2" height="2.3" fill="#C51B7D"/><rect x="1870.8" y="935.6" width="64.2" height="1.2" fill="#ADD8E6"/><rect x="1870.8" y="921" width="64.2" height="14.6" fill="#A6D96A"/><rect x="1870.8" y="892" width="64.2" height="29" fill="#F9AE64"/><rect x="1870.8" y="864" width="64.2" height="28" fill="#333399"/><line x1="1685.3" y1="952.5" x2="1685.3" y2="962.5" stroke="#555555" stroke-width="1.4"/><text x="1685.3" y="987" font-size="21.5" text-anchor="middle">0</text><line x1="1757.6" y1="952.5" x2="1757.6" y2="962.5" stroke="#555555" stroke-width="1.4"/><text x="1757.6" y="987" font-size="21.5" text-anchor="middle">1</text><line x1="1830.2" y1="952.5" x2="1830.2" y2="962.5" stroke="#555555" stroke-width="1.4"/><text x="1830.2" y="987" font-size="21.5" text-anchor="middle">2</text><line x1="1902.8" y1="952.5" x2="1902.8" y2="962.5" stroke="#555555" stroke-width="1.4"/><text x="1902.8" y="987" font-size="21.5" text-anchor="middle">3</text><text x="1793.8" y="1026.8" font-size="28" text-anchor="middle">Clusters</text><text x="1563.5" y="805" font-size="28" text-anchor="middle" transform="rotate(-90 1563.5 805)">No. cells</text><text x="1849.5" y="604.5" font-size="28.7" text-anchor="middle">Naive/memory</text><text x="1850" y="634.7" font-size="28.7" text-anchor="middle">phenotype</text><circle cx="1830.5" cy="664.8" r="9.3" fill="#B3DEEC" stroke="#111" stroke-width="1.1"/><text x="1848.8" y="672.2" font-size="21">T<tspan font-size="15" dy="6">naive</tspan></text><circle cx="1830.5" cy="694.4" r="9.3" fill="#6622AA" stroke="#111" stroke-width="1.1"/><text x="1848.8" y="701.8" font-size="21">T<tspan font-size="14" dy="6">CM</tspan></text><circle cx="1830.5" cy="723.8" r="9.3" fill="#FF9A2E" stroke="#111" stroke-width="1.1"/><text x="1848.8" y="731.2" font-size="21">T<tspan font-size="14" dy="6">EM</tspan></text><circle cx="1830.5" cy="752.6" r="9.3" fill="#A3D62A" stroke="#111" stroke-width="1.1"/><text x="1848.8" y="760" font-size="21">T<tspan font-size="14" dy="6">EMRA</tspan></text><circle cx="1830.5" cy="782.2" r="9.3" fill="#C6228F" stroke="#111" stroke-width="1.1"/><text x="1848.8" y="789.6" font-size="21">T<tspan font-size="14" dy="6">SCM</tspan></text><line x1="125.6" y1="1112.8" x2="135.6" y2="1112.8" stroke="#555555" stroke-width="1.4"/><text x="113.7" y="1121.9" font-size="26" text-anchor="end">GZMK</text><circle cx="173.6" cy="1112.8" r="15.2" fill="#F38B00"/><circle cx="237" cy="1112.8" r="8.5" fill="#BF8BBF"/><circle cx="300.4" cy="1112.8" r="9.3" fill="#BF8BBF"/><line x1="125.6" y1="1156.5" x2="135.6" y2="1156.5" stroke="#555555" stroke-width="1.4"/><text x="113.7" y="1165.5" font-size="26" text-anchor="end">LYAR</text><circle cx="173.6" cy="1156.5" r="15.8" fill="#F7B060"/><circle cx="237" cy="1156.5" r="9.8" fill="#B876B8"/><circle cx="300.4" cy="1156.5" r="11.9" fill="#C8A2C8"/><circle cx="363.8" cy="1156.5" r="15.2" fill="#F0BE88"/><line x1="125.6" y1="1200.1" x2="135.6" y2="1200.1" stroke="#555555" stroke-width="1.4"/><text x="113.7" y="1209.2" font-size="26" text-anchor="end">CXCR4</text><circle cx="173.6" cy="1200.1" r="18.6" fill="#EEC08E"/><circle cx="237" cy="1200.1" r="18.1" fill="#B474B0"/><circle cx="300.4" cy="1200.1" r="18.9" fill="#C8A4C4"/><circle cx="363.8" cy="1200.1" r="18.6" fill="#EEC08E"/><line x1="125.6" y1="1243.8" x2="135.6" y2="1243.8" stroke="#555555" stroke-width="1.4"/><text x="113.7" y="1252.8" font-size="26" text-anchor="end">CD28</text><circle cx="173.6" cy="1243.8" r="11.4" fill="#DDCDC0"/><circle cx="363.8" cy="1243.8" r="6.7" fill="#C8AEC8"/><line x1="125.6" y1="1287.4" x2="135.6" y2="1287.4" stroke="#555555" stroke-width="1.4"/><text x="113.7" y="1296.5" font-size="26" text-anchor="end">HAVCR2</text><circle cx="173.6" cy="1287.4" r="9.3" fill="#DCD3CF"/><circle cx="237" cy="1287.4" r="7" fill="#D3CDD3"/><line x1="125.6" y1="1331" x2="135.6" y2="1331" stroke="#555555" stroke-width="1.4"/><text x="113.7" y="1340.1" font-size="26" text-anchor="end">TRBV27</text><circle cx="173.6" cy="1331" r="7.8" fill="#C8A8C8"/><circle cx="300.4" cy="1331" r="12.4" fill="#F59A0A"/><line x1="125.6" y1="1374.7" x2="135.6" y2="1374.7" stroke="#555555" stroke-width="1.4"/><text x="113.7" y="1383.8" font-size="26" text-anchor="end">SELL</text><circle cx="237" cy="1374.7" r="17.8" fill="#EDC195"/><circle cx="300.4" cy="1374.7" r="18.3" fill="#F59A0A"/><circle cx="363.8" cy="1374.7" r="13.4" fill="#2E0A80"/><line x1="125.6" y1="1418.3" x2="135.6" y2="1418.3" stroke="#555555" stroke-width="1.4"/><text x="113.7" y="1427.4" font-size="26" text-anchor="end">CCR7</text><circle cx="237" cy="1418.3" r="16.3" fill="#F9AA35"/><circle cx="300.4" cy="1418.3" r="16.5" fill="#F9A20A"/><circle cx="363.8" cy="1418.3" r="8" fill="#6A2090"/><line x1="125.6" y1="1462" x2="135.6" y2="1462" stroke="#555555" stroke-width="1.4"/><text x="113.7" y="1471.1" font-size="26" text-anchor="end">LEF1</text><circle cx="173.6" cy="1462" r="12.7" fill="#C59EC3"/><circle cx="237" cy="1462" r="15.2" fill="#F0C08A"/><circle cx="300.4" cy="1462" r="17" fill="#FFA500"/><circle cx="363.8" cy="1462" r="10.3" fill="#A655A3"/><line x1="125.6" y1="1505.6" x2="135.6" y2="1505.6" stroke="#555555" stroke-width="1.4"/><text x="113.7" y="1514.7" font-size="26" text-anchor="end">TNFAIP3</text><circle cx="237" cy="1505.6" r="15.2" fill="#C596C3"/><circle cx="300.4" cy="1505.6" r="18.3" fill="#FFA500"/><circle cx="363.8" cy="1505.6" r="16.5" fill="#AC63AA"/><line x1="125.6" y1="1549.3" x2="135.6" y2="1549.3" stroke="#555555" stroke-width="1.4"/><text x="113.7" y="1558.4" font-size="26" text-anchor="end">CD69</text><circle cx="237" cy="1549.3" r="13.7" fill="#B575B0"/><circle cx="300.4" cy="1549.3" r="17" fill="#F8AC48"/><line x1="125.6" y1="1592.9" x2="135.6" y2="1592.9" stroke="#555555" stroke-width="1.4"/><text x="113.7" y="1602" font-size="26" text-anchor="end">FOS</text><circle cx="173.6" cy="1592.9" r="15.8" fill="#E5CAB0"/><circle cx="237" cy="1592.9" r="15.2" fill="#C8A8C4"/><circle cx="300.4" cy="1592.9" r="17" fill="#F8AC48"/><circle cx="363.8" cy="1592.9" r="14.7" fill="#AC63A8"/><line x1="125.6" y1="1636.6" x2="135.6" y2="1636.6" stroke="#555555" stroke-width="1.4"/><text x="113.7" y="1645.7" font-size="26" text-anchor="end">TCF7</text><circle cx="237" cy="1636.6" r="17" fill="#EEC08E"/><circle cx="300.4" cy="1636.6" r="17.8" fill="#F8B050"/><circle cx="363.8" cy="1636.6" r="11.4" fill="#A655A5"/><line x1="125.6" y1="1680.2" x2="135.6" y2="1680.2" stroke="#555555" stroke-width="1.4"/><text x="113.7" y="1689.3" font-size="26" text-anchor="end">BTG1</text><circle cx="237" cy="1680.2" r="17.6" fill="#C8A8C4"/><circle cx="300.4" cy="1680.2" r="18.9" fill="#F3BC80"/><circle cx="363.8" cy="1680.2" r="18.6" fill="#C29AC0"/><line x1="125.6" y1="1723.9" x2="135.6" y2="1723.9" stroke="#555555" stroke-width="1.4"/><text x="113.7" y="1733" font-size="26" text-anchor="end">JUNB</text><circle cx="173.6" cy="1723.9" r="18.3" fill="#F2BA7E"/><circle cx="237" cy="1723.9" r="17" fill="#BE8CBA"/><circle cx="300.4" cy="1723.9" r="18.3" fill="#F2BA7E"/><circle cx="363.8" cy="1723.9" r="17" fill="#B67AB0"/><line x1="125.6" y1="1767.5" x2="135.6" y2="1767.5" stroke="#555555" stroke-width="1.4"/><text x="113.7" y="1776.6" font-size="26" text-anchor="end">JUN</text><circle cx="237" cy="1767.5" r="12.7" fill="#C49EC3"/><circle cx="300.4" cy="1767.5" r="15.5" fill="#EFC090"/><line x1="125.6" y1="1811.2" x2="135.6" y2="1811.2" stroke="#555555" stroke-width="1.4"/><text x="113.7" y="1820.3" font-size="26" text-anchor="end">FOXP1</text><circle cx="237" cy="1811.2" r="16" fill="#EBC59C"/><circle cx="300.4" cy="1811.2" r="17.3" fill="#EBC59C"/><circle cx="363.8" cy="1811.2" r="14.5" fill="#B982B8"/><line x1="125.6" y1="1854.8" x2="135.6" y2="1854.8" stroke="#555555" stroke-width="1.4"/><text x="113.7" y="1863.9" font-size="26" text-anchor="end">NKG7</text><circle cx="237" cy="1854.8" r="9" fill="#000080"/><circle cx="300.4" cy="1854.8" r="10" fill="#2B0A80"/><circle cx="363.8" cy="1854.8" r="19.1" fill="#CC0000"/><line x1="125.6" y1="1898.5" x2="135.6" y2="1898.5" stroke="#555555" stroke-width="1.4"/><text x="113.7" y="1907.6" font-size="26" text-anchor="end">CST7</text><circle cx="237" cy="1898.5" r="7.5" fill="#A855A8"/><circle cx="300.4" cy="1898.5" r="8" fill="#AC60AC"/><circle cx="363.8" cy="1898.5" r="18.1" fill="#CC0000"/><line x1="125.6" y1="1942.2" x2="135.6" y2="1942.2" stroke="#555555" stroke-width="1.4"/><text x="113.7" y="1951.2" font-size="26" text-anchor="end">CCL5</text><circle cx="173.6" cy="1942.2" r="18.6" fill="#CC2000"/><circle cx="237" cy="1942.2" r="10.1" fill="#000080"/><circle cx="300.4" cy="1942.2" r="11.6" fill="#000080"/><circle cx="363.8" cy="1942.2" r="18.9" fill="#CC0000"/><line x1="125.6" y1="1985.8" x2="135.6" y2="1985.8" stroke="#555555" stroke-width="1.4"/><text x="113.7" y="1994.9" font-size="26" text-anchor="end">GZMA</text><circle cx="173.6" cy="1985.8" r="13.9" fill="#F2BE88"/><circle cx="237" cy="1985.8" r="8.3" fill="#6E2A9A"/><circle cx="300.4" cy="1985.8" r="10.1" fill="#AC62AA"/><circle cx="363.8" cy="1985.8" r="17.8" fill="#CC0000"/><line x1="125.6" y1="2029.4" x2="135.6" y2="2029.4" stroke="#555555" stroke-width="1.4"/><text x="113.7" y="2038.5" font-size="26" text-anchor="end">KLRD1</text><circle cx="173.6" cy="2029.4" r="11.6" fill="#DDCBB8"/><circle cx="237" cy="2029.4" r="5.7" fill="#C08EC0"/><circle cx="300.4" cy="2029.4" r="6.5" fill="#C08EC0"/><circle cx="363.8" cy="2029.4" r="17.8" fill="#CC0000"/><line x1="125.6" y1="2073.1" x2="135.6" y2="2073.1" stroke="#555555" stroke-width="1.4"/><text x="113.7" y="2082.2" font-size="26" text-anchor="end">PRF1</text><circle cx="173.6" cy="2073.1" r="12.1" fill="#EAC49A"/><circle cx="237" cy="2073.1" r="7" fill="#B478B4"/><circle cx="300.4" cy="2073.1" r="8.5" fill="#C49CC4"/><circle cx="363.8" cy="2073.1" r="16.8" fill="#CC0000"/><line x1="125.6" y1="2116.8" x2="135.6" y2="2116.8" stroke="#555555" stroke-width="1.4"/><text x="113.7" y="2125.8" font-size="26" text-anchor="end">TRBV19</text><circle cx="173.6" cy="2116.8" r="18.1" fill="#FBA000"/><circle cx="237" cy="2116.8" r="13.9" fill="#4C1A88"/><circle cx="300.4" cy="2116.8" r="13.4" fill="#3A0E80"/><circle cx="363.8" cy="2116.8" r="18.1" fill="#E05C00"/><line x1="125.6" y1="2160.4" x2="135.6" y2="2160.4" stroke="#555555" stroke-width="1.4"/><text x="113.7" y="2169.5" font-size="26" text-anchor="end">ANXA1</text><circle cx="173.6" cy="2160.4" r="16" fill="#EEC08C"/><circle cx="237" cy="2160.4" r="10.6" fill="#6A2896"/><circle cx="363.8" cy="2160.4" r="17.6" fill="#E46400"/><line x1="125.6" y1="2204.1" x2="135.6" y2="2204.1" stroke="#555555" stroke-width="1.4"/><text x="113.7" y="2213.2" font-size="26" text-anchor="end">HOPX</text><circle cx="173.6" cy="2204.1" r="11.4" fill="#ECC8A0"/><circle cx="237" cy="2204.1" r="4.9" fill="#C08EC0"/><circle cx="363.8" cy="2204.1" r="15.5" fill="#EA7406"/><line x1="125.6" y1="2247.7" x2="135.6" y2="2247.7" stroke="#555555" stroke-width="1.4"/><text x="113.7" y="2256.8" font-size="26" text-anchor="end">CTSW</text><circle cx="173.6" cy="2247.7" r="16" fill="#CDB9CB"/><circle cx="237" cy="2247.7" r="13.9" fill="#7E3096"/><circle cx="363.8" cy="2247.7" r="18.1" fill="#EE7C02"/><line x1="125.6" y1="2291.3" x2="135.6" y2="2291.3" stroke="#555555" stroke-width="1.4"/><text x="113.7" y="2300.4" font-size="26" text-anchor="end">ZNF683</text><circle cx="173.6" cy="2291.3" r="8.8" fill="#CDBDCD"/><circle cx="237" cy="2291.3" r="7" fill="#C8A0C8"/><circle cx="363.8" cy="2291.3" r="14.7" fill="#F79400"/><line x1="125.6" y1="2335" x2="135.6" y2="2335" stroke="#555555" stroke-width="1.4"/><text x="113.7" y="2344.1" font-size="26" text-anchor="end">KLRK1</text><circle cx="237" cy="2335" r="15.8" fill="#A85AA5"/><circle cx="300.4" cy="2335" r="16.5" fill="#C090BC"/><circle cx="363.8" cy="2335" r="18.1" fill="#FBA00A"/><line x1="125.6" y1="2378.6" x2="135.6" y2="2378.6" stroke="#555555" stroke-width="1.4"/><text x="113.7" y="2387.7" font-size="26" text-anchor="end">KLRG1</text><circle cx="237" cy="2378.6" r="7.8" fill="#C49CC4"/><circle cx="363.8" cy="2378.6" r="14.2" fill="#FBA00A"/><line x1="125.6" y1="2422.3" x2="135.6" y2="2422.3" stroke="#555555" stroke-width="1.4"/><text x="113.7" y="2431.4" font-size="26" text-anchor="end">TRAV27</text><circle cx="173.6" cy="2422.3" r="11.9" fill="#F6B058"/><circle cx="237" cy="2422.3" r="8" fill="#C090C0"/><circle cx="300.4" cy="2422.3" r="7" fill="#BC85BC"/><circle cx="363.8" cy="2422.3" r="12.4" fill="#F9AC3A"/><line x1="125.6" y1="2465.9" x2="135.6" y2="2465.9" stroke="#555555" stroke-width="1.4"/><text x="113.7" y="2475" font-size="26" text-anchor="end">CD3D</text><circle cx="173.6" cy="2465.9" r="17.6" fill="#B87EB4"/><circle cx="237" cy="2465.9" r="17.3" fill="#BE8CBA"/><circle cx="363.8" cy="2465.9" r="18.9" fill="#F9AC48"/><line x1="125.6" y1="2509.6" x2="135.6" y2="2509.6" stroke="#555555" stroke-width="1.4"/><text x="113.7" y="2518.7" font-size="26" text-anchor="end">IL10RA</text><circle cx="173.6" cy="2509.6" r="14.5" fill="#E8C4A0"/><circle cx="237" cy="2509.6" r="9.6" fill="#B878B4"/><circle cx="363.8" cy="2509.6" r="15.5" fill="#F8B055"/><line x1="125.6" y1="2553.2" x2="135.6" y2="2553.2" stroke="#555555" stroke-width="1.4"/><text x="113.7" y="2562.3" font-size="26" text-anchor="end">KLRC1</text><circle cx="173.6" cy="2553.2" r="10.9" fill="#E6C6A4"/><circle cx="237" cy="2553.2" r="5.9" fill="#C8A8C8"/><circle cx="300.4" cy="2553.2" r="5.9" fill="#C8ACC8"/><circle cx="363.8" cy="2553.2" r="12.7" fill="#F8B055"/><line x1="125.6" y1="2596.9" x2="135.6" y2="2596.9" stroke="#555555" stroke-width="1.4"/><text x="113.7" y="2606" font-size="26" text-anchor="end">FYN</text><circle cx="173.6" cy="2596.9" r="15.5" fill="#F0BE84"/><circle cx="237" cy="2596.9" r="11.6" fill="#B982B8"/><circle cx="300.4" cy="2596.9" r="13.2" fill="#C4A0C4"/><circle cx="363.8" cy="2596.9" r="15.5" fill="#F2BA78"/><line x1="125.6" y1="2640.6" x2="135.6" y2="2640.6" stroke="#555555" stroke-width="1.4"/><text x="113.7" y="2649.7" font-size="26" text-anchor="end">TRAC</text><circle cx="237" cy="2640.6" r="17" fill="#A655A3"/><circle cx="363.8" cy="2640.6" r="18.9" fill="#F2BA78"/><rect x="135.6" y="1086.7" width="266.6" height="1582.6" fill="none" stroke="#333333" stroke-width="1.5"/><line x1="173.6" y1="2669.3" x2="173.6" y2="2679.3" stroke="#555555" stroke-width="1.4"/><text x="173.6" y="2708.8" font-size="26" text-anchor="middle">0</text><line x1="237" y1="2669.3" x2="237" y2="2679.3" stroke="#555555" stroke-width="1.4"/><text x="237" y="2708.8" font-size="26" text-anchor="middle">1</text><line x1="300.4" y1="2669.3" x2="300.4" y2="2679.3" stroke="#555555" stroke-width="1.4"/><text x="300.4" y="2708.8" font-size="26" text-anchor="middle">2</text><line x1="363.8" y1="2669.3" x2="363.8" y2="2679.3" stroke="#555555" stroke-width="1.4"/><text x="363.8" y="2708.8" font-size="26" text-anchor="middle">3</text><defs><linearGradient id="gc" x1="0" y1="0" x2="0" y2="1"><stop offset="0.000" stop-color="#CC0000"/><stop offset="0.266" stop-color="#CC0000"/><stop offset="0.334" stop-color="#E04800"/><stop offset="0.414" stop-color="#FFA500"/><stop offset="0.506" stop-color="#EFC08A"/><stop offset="0.574" stop-color="#D3D3D3"/><stop offset="0.641" stop-color="#C49AC4"/><stop offset="0.712" stop-color="#A24CA2"/><stop offset="0.795" stop-color="#5A1C90"/><stop offset="0.866" stop-color="#000080"/><stop offset="1.000" stop-color="#000080"/></linearGradient></defs><rect x="422.9" y="1135.2" width="46.6" height="231.3" fill="url(#gc)"/><line x1="422.9" y1="1196.7" x2="430.9" y2="1196.7" stroke="#fff" stroke-width="1.2"/><line x1="461.5" y1="1196.7" x2="469.5" y2="1196.7" stroke="#fff" stroke-width="1.2"/><text x="478" y="1205.7" font-size="26">1</text><line x1="422.9" y1="1267.9" x2="430.9" y2="1267.9" stroke="#fff" stroke-width="1.2"/><line x1="461.5" y1="1267.9" x2="469.5" y2="1267.9" stroke="#fff" stroke-width="1.2"/><text x="478" y="1276.9" font-size="26">0</text><line x1="422.9" y1="1339.1" x2="430.9" y2="1339.1" stroke="#fff" stroke-width="1.2"/><line x1="461.5" y1="1339.1" x2="469.5" y2="1339.1" stroke="#fff" stroke-width="1.2"/><text x="478" y="1348.1" font-size="26">−1</text><text x="424.1" y="1118.5" font-size="27.2">log(FC)</text><text x="417.9" y="1416.4" font-size="27.9">Percentage expressed</text><circle cx="439.4" cy="1444.6" r="11.9" fill="#000"/><text x="467.6" y="1451.6" font-size="20" textLength="42" lengthAdjust="spacingAndGlyphs">0.25</text><circle cx="439.4" cy="1491" r="15.1" fill="#000"/><text x="467.6" y="1498" font-size="20" textLength="42" lengthAdjust="spacingAndGlyphs">0.50</text><circle cx="439.4" cy="1537.3" r="17" fill="#000"/><text x="467.6" y="1544.3" font-size="20" textLength="42" lengthAdjust="spacingAndGlyphs">0.75</text><line x1="896" y1="1115.3" x2="906" y2="1115.3" stroke="#555555" stroke-width="1.4"/><text x="885.4" y="1124.4" font-size="26" text-anchor="end">CCR7</text><circle cx="941.7" cy="1115.3" r="16.4" fill="#F38A0A"/><circle cx="1065.6" cy="1115.3" r="12.1" fill="#C290C0"/><line x1="896" y1="1157.8" x2="906" y2="1157.8" stroke="#555555" stroke-width="1.4"/><text x="885.4" y="1166.9" font-size="26" text-anchor="end">SELL</text><circle cx="941.7" cy="1157.8" r="17.8" fill="#F38A0A"/><circle cx="1003.7" cy="1157.8" r="17.8" fill="#FBA535"/><circle cx="1065.6" cy="1157.8" r="15" fill="#86369E"/><line x1="896" y1="1200.2" x2="906" y2="1200.2" stroke="#555555" stroke-width="1.4"/><text x="885.4" y="1209.3" font-size="26" text-anchor="end">TNFAIP3</text><circle cx="941.7" cy="1200.2" r="17.1" fill="#D92A05"/><circle cx="1003.7" cy="1200.2" r="15" fill="#C8A4C8"/><circle cx="1065.6" cy="1200.2" r="16.4" fill="#EDCBA4"/><line x1="896" y1="1242.7" x2="906" y2="1242.7" stroke="#555555" stroke-width="1.4"/><text x="885.4" y="1251.8" font-size="26" text-anchor="end">LITAF</text><circle cx="1065.6" cy="1242.7" r="17.1" fill="#F38A0A"/><circle cx="1127.6" cy="1242.7" r="15.3" fill="#D5D5D5"/><line x1="896" y1="1285.1" x2="906" y2="1285.1" stroke="#555555" stroke-width="1.4"/><text x="885.4" y="1294.2" font-size="26" text-anchor="end">KLRG1</text><circle cx="941.7" cy="1285.1" r="8.2" fill="#EDCBA4"/><circle cx="1065.6" cy="1285.1" r="11.4" fill="#FA9A0A"/><line x1="896" y1="1327.6" x2="906" y2="1327.6" stroke="#555555" stroke-width="1.4"/><text x="885.4" y="1336.7" font-size="26" text-anchor="end">CXCR4</text><circle cx="941.7" cy="1327.6" r="18.2" fill="#B474B0"/><circle cx="1003.7" cy="1327.6" r="17.5" fill="#C8A4C8"/><circle cx="1065.6" cy="1327.6" r="18.5" fill="#EA6A0A"/><circle cx="1127.6" cy="1327.6" r="18.5" fill="#F38A0A"/><line x1="896" y1="1370.1" x2="906" y2="1370.1" stroke="#555555" stroke-width="1.4"/><text x="885.4" y="1379.2" font-size="26" text-anchor="end">KLRK1</text><circle cx="941.7" cy="1370.1" r="15" fill="#B474B4"/><circle cx="1003.7" cy="1370.1" r="16.8" fill="#FCA20A"/><circle cx="1065.6" cy="1370.1" r="16.8" fill="#F3800A"/><line x1="896" y1="1412.5" x2="906" y2="1412.5" stroke="#555555" stroke-width="1.4"/><text x="885.4" y="1421.6" font-size="26" text-anchor="end">ITGB1</text><circle cx="941.7" cy="1412.5" r="8.6" fill="#CFAFCF"/><circle cx="1003.7" cy="1412.5" r="13.6" fill="#F9B05A"/><circle cx="1065.6" cy="1412.5" r="15.3" fill="#F0800A"/><circle cx="1127.6" cy="1412.5" r="13.6" fill="#FAAA3A"/><line x1="896" y1="1455" x2="906" y2="1455" stroke="#555555" stroke-width="1.4"/><text x="885.4" y="1464.1" font-size="26" text-anchor="end">GNLY</text><circle cx="941.7" cy="1455" r="5.4" fill="#A54AAA"/><circle cx="1003.7" cy="1455" r="13.2" fill="#D40000"/><circle cx="1065.6" cy="1455" r="13.2" fill="#D40000"/><line x1="896" y1="1497.4" x2="906" y2="1497.4" stroke="#555555" stroke-width="1.4"/><text x="885.4" y="1506.5" font-size="26" text-anchor="end">CST7</text><circle cx="941.7" cy="1497.4" r="6.8" fill="#C088C0"/><circle cx="1003.7" cy="1497.4" r="12.1" fill="#FCA20A"/><circle cx="1065.6" cy="1497.4" r="13.6" fill="#D81A05"/><line x1="896" y1="1539.9" x2="906" y2="1539.9" stroke="#555555" stroke-width="1.4"/><text x="885.4" y="1549" font-size="26" text-anchor="end">GZMA</text><circle cx="941.7" cy="1539.9" r="9.3" fill="#BE82BE"/><circle cx="1003.7" cy="1539.9" r="13.6" fill="#EA6C0A"/><circle cx="1065.6" cy="1539.9" r="14.6" fill="#D40000"/><circle cx="1127.6" cy="1539.9" r="10.3" fill="#D5CCD5"/><line x1="896" y1="1582.4" x2="906" y2="1582.4" stroke="#555555" stroke-width="1.4"/><text x="885.4" y="1591.5" font-size="26" text-anchor="end">PRF1</text><circle cx="941.7" cy="1582.4" r="7.5" fill="#D5C8D5"/><circle cx="1003.7" cy="1582.4" r="12.5" fill="#F88C0A"/><circle cx="1065.6" cy="1582.4" r="13.2" fill="#E6620A"/><circle cx="1127.6" cy="1582.4" r="8.2" fill="#EDD0B0"/><line x1="896" y1="1624.8" x2="906" y2="1624.8" stroke="#555555" stroke-width="1.4"/><text x="885.4" y="1633.9" font-size="26" text-anchor="end">GZMK</text><circle cx="941.7" cy="1624.8" r="9.3" fill="#BE86BE"/><circle cx="1003.7" cy="1624.8" r="14.3" fill="#E8650A"/><circle cx="1065.6" cy="1624.8" r="13.2" fill="#FBAA30"/><line x1="896" y1="1667.3" x2="906" y2="1667.3" stroke="#555555" stroke-width="1.4"/><text x="885.4" y="1676.4" font-size="26" text-anchor="end">LTB</text><circle cx="941.7" cy="1667.3" r="17.8" fill="#E04A05"/><circle cx="1065.6" cy="1667.3" r="15" fill="#BC88C0"/><line x1="896" y1="1709.7" x2="906" y2="1709.7" stroke="#555555" stroke-width="1.4"/><text x="885.4" y="1718.8" font-size="26" text-anchor="end">PIK3IP1</text><circle cx="941.7" cy="1709.7" r="17.5" fill="#F8C07E"/><circle cx="1003.7" cy="1709.7" r="15.7" fill="#DCDAD8"/><circle cx="1127.6" cy="1709.7" r="17.5" fill="#F3860A"/><line x1="896" y1="1752.2" x2="906" y2="1752.2" stroke="#555555" stroke-width="1.4"/><text x="885.4" y="1761.3" font-size="26" text-anchor="end">ZFP36L1</text><circle cx="941.7" cy="1752.2" r="16.4" fill="#DC4005"/><circle cx="1065.6" cy="1752.2" r="13.9" fill="#D4C4D4"/><line x1="896" y1="1794.7" x2="906" y2="1794.7" stroke="#555555" stroke-width="1.4"/><text x="885.4" y="1803.8" font-size="26" text-anchor="end">IL10RA</text><circle cx="941.7" cy="1794.7" r="9.3" fill="#C8A0C8"/><circle cx="1003.7" cy="1794.7" r="13.6" fill="#FAB040"/><circle cx="1065.6" cy="1794.7" r="14.3" fill="#F8920A"/><line x1="896" y1="1837.1" x2="906" y2="1837.1" stroke="#555555" stroke-width="1.4"/><text x="885.4" y="1846.2" font-size="26" text-anchor="end">ZFP36</text><circle cx="941.7" cy="1837.1" r="15" fill="#D4C8D4"/><circle cx="1065.6" cy="1837.1" r="17.1" fill="#F8920A"/><line x1="896" y1="1879.6" x2="906" y2="1879.6" stroke="#555555" stroke-width="1.4"/><text x="885.4" y="1888.7" font-size="26" text-anchor="end">FYN</text><circle cx="941.7" cy="1879.6" r="11.8" fill="#C8A0C8"/><circle cx="1065.6" cy="1879.6" r="14.6" fill="#FBA00A"/><line x1="896" y1="1922" x2="906" y2="1922" stroke="#555555" stroke-width="1.4"/><text x="885.4" y="1931.1" font-size="26" text-anchor="end">LYAR</text><circle cx="941.7" cy="1922" r="10.3" fill="#C8A0C8"/><circle cx="1065.6" cy="1922" r="15" fill="#F68A0A"/><line x1="896" y1="1964.5" x2="906" y2="1964.5" stroke="#555555" stroke-width="1.4"/><text x="885.4" y="1973.6" font-size="26" text-anchor="end">TXNIP</text><circle cx="941.7" cy="1964.5" r="17.8" fill="#9E44A0"/><circle cx="1003.7" cy="1964.5" r="18.5" fill="#FCA520"/><circle cx="1065.6" cy="1964.5" r="18.2" fill="#FCAA35"/><circle cx="1127.6" cy="1964.5" r="18.5" fill="#F8900A"/><line x1="896" y1="2007" x2="906" y2="2007" stroke="#555555" stroke-width="1.4"/><text x="885.4" y="2016.1" font-size="26" text-anchor="end">CD37</text><circle cx="1127.6" cy="2007" r="16" fill="#FCAA30"/><line x1="896" y1="2049.4" x2="906" y2="2049.4" stroke="#555555" stroke-width="1.4"/><text x="885.4" y="2058.5" font-size="26" text-anchor="end">FOXP1</text><circle cx="941.7" cy="2049.4" r="16.4" fill="#FCA00A"/><circle cx="1065.6" cy="2049.4" r="15" fill="#DCD5D0"/><line x1="896" y1="2091.9" x2="906" y2="2091.9" stroke="#555555" stroke-width="1.4"/><text x="885.4" y="2101" font-size="26" text-anchor="end">TCF7</text><circle cx="941.7" cy="2091.9" r="17.1" fill="#F2820A"/><circle cx="1065.6" cy="2091.9" r="14.3" fill="#D4CED8"/><line x1="896" y1="2134.3" x2="906" y2="2134.3" stroke="#555555" stroke-width="1.4"/><text x="885.4" y="2143.4" font-size="26" text-anchor="end">SOX4</text><circle cx="941.7" cy="2134.3" r="14.3" fill="#F8900A"/><circle cx="1065.6" cy="2134.3" r="6.1" fill="#F8C080"/><circle cx="1127.6" cy="2134.3" r="5" fill="#F8C080"/><line x1="896" y1="2176.8" x2="906" y2="2176.8" stroke="#555555" stroke-width="1.4"/><text x="885.4" y="2185.9" font-size="26" text-anchor="end">LEF1</text><circle cx="941.7" cy="2176.8" r="16.4" fill="#EC720A"/><circle cx="1065.6" cy="2176.8" r="11.1" fill="#CCB4D0"/><line x1="896" y1="2219.3" x2="906" y2="2219.3" stroke="#555555" stroke-width="1.4"/><text x="885.4" y="2228.4" font-size="26" text-anchor="end">ID2</text><circle cx="941.7" cy="2219.3" r="15" fill="#C090C4"/><circle cx="1065.6" cy="2219.3" r="17.1" fill="#F2800A"/><line x1="896" y1="2261.7" x2="906" y2="2261.7" stroke="#555555" stroke-width="1.4"/><text x="885.4" y="2270.8" font-size="26" text-anchor="end">FOS</text><circle cx="1065.6" cy="2261.7" r="14.3" fill="#D0B8D0"/><circle cx="1127.6" cy="2261.7" r="16" fill="#FA9A0A"/><line x1="896" y1="2304.2" x2="906" y2="2304.2" stroke="#555555" stroke-width="1.4"/><text x="885.4" y="2313.3" font-size="26" text-anchor="end">JUNB</text><circle cx="941.7" cy="2304.2" r="17.1" fill="#DDD5D0"/><circle cx="1065.6" cy="2304.2" r="17.1" fill="#EDCCA4"/><circle cx="1127.6" cy="2304.2" r="17.8" fill="#F8920A"/><line x1="896" y1="2346.6" x2="906" y2="2346.6" stroke="#555555" stroke-width="1.4"/><text x="885.4" y="2355.7" font-size="26" text-anchor="end">KLF2</text><circle cx="941.7" cy="2346.6" r="13.2" fill="#D8D5D5"/><circle cx="1003.7" cy="2346.6" r="13.9" fill="#FAB052"/><line x1="896" y1="2389.1" x2="906" y2="2389.1" stroke="#555555" stroke-width="1.4"/><text x="885.4" y="2398.2" font-size="26" text-anchor="end">TIGIT</text><circle cx="941.7" cy="2389.1" r="4.6" fill="#EDC8A0"/><circle cx="1127.6" cy="2389.1" r="9.6" fill="#FAAA3A"/><line x1="896" y1="2431.6" x2="906" y2="2431.6" stroke="#555555" stroke-width="1.4"/><text x="885.4" y="2440.7" font-size="26" text-anchor="end">CTLA4</text><circle cx="1003.7" cy="2431.6" r="7.5" fill="#F8B068"/><line x1="896" y1="2474" x2="906" y2="2474" stroke="#555555" stroke-width="1.4"/><text x="885.4" y="2483.1" font-size="26" text-anchor="end">TRAC</text><circle cx="941.7" cy="2474" r="16.8" fill="#BE80BA"/><circle cx="1003.7" cy="2474" r="17.8" fill="#FCA530"/><circle cx="1065.6" cy="2474" r="17.8" fill="#F68C0A"/><line x1="896" y1="2516.5" x2="906" y2="2516.5" stroke="#555555" stroke-width="1.4"/><text x="885.4" y="2525.6" font-size="26" text-anchor="end">CD3D</text><circle cx="1065.6" cy="2516.5" r="17.8" fill="#F68C0A"/><line x1="896" y1="2558.9" x2="906" y2="2558.9" stroke="#555555" stroke-width="1.4"/><text x="885.4" y="2568" font-size="26" text-anchor="end">TRBV19</text><circle cx="941.7" cy="2558.9" r="13.2" fill="#000088"/><circle cx="1003.7" cy="2558.9" r="16.8" fill="#F0800A"/><circle cx="1065.6" cy="2558.9" r="17.8" fill="#D20000"/><circle cx="1127.6" cy="2558.9" r="15" fill="#D0B8D0"/><line x1="896" y1="2601.4" x2="906" y2="2601.4" stroke="#555555" stroke-width="1.4"/><text x="885.4" y="2610.5" font-size="26" text-anchor="end">TRAV27</text><circle cx="941.7" cy="2601.4" r="6.4" fill="#CCA8CC"/><circle cx="1003.7" cy="2601.4" r="10.7" fill="#FCA50A"/><circle cx="1065.6" cy="2601.4" r="11.8" fill="#DC4005"/><line x1="896" y1="2643.9" x2="906" y2="2643.9" stroke="#555555" stroke-width="1.4"/><text x="885.4" y="2653" font-size="26" text-anchor="end">TRBV27</text><circle cx="941.7" cy="2643.9" r="9.6" fill="#FCAA30"/><circle cx="1003.7" cy="2643.9" r="6.8" fill="#DCD3CC"/><circle cx="1065.6" cy="2643.9" r="6.8" fill="#E8D0B8"/><circle cx="1127.6" cy="2643.9" r="10.7" fill="#E8680A"/><rect x="906" y="1090.3" width="257.6" height="1578.4" fill="none" stroke="#333333" stroke-width="1.5"/><line x1="941.7" y1="2668.7" x2="941.7" y2="2678.7" stroke="#555555" stroke-width="1.4"/><text x="941.7" y="2708.2" font-size="26" text-anchor="middle">N</text><line x1="1003.7" y1="2668.7" x2="1003.7" y2="2678.7" stroke="#555555" stroke-width="1.4"/><text x="1003.7" y="2708.2" font-size="26" text-anchor="middle">C</text><line x1="1065.6" y1="2668.7" x2="1065.6" y2="2678.7" stroke="#555555" stroke-width="1.4"/><text x="1065.6" y="2708.2" font-size="26" text-anchor="middle">A</text><line x1="1127.6" y1="2668.7" x2="1127.6" y2="2678.7" stroke="#555555" stroke-width="1.4"/><text x="1127.6" y="2708.2" font-size="26" text-anchor="middle">OA</text><defs><linearGradient id="gd" x1="0" y1="0" x2="0" y2="1"><stop offset="0.000" stop-color="#CC0000"/><stop offset="0.176" stop-color="#CC0000"/><stop offset="0.251" stop-color="#DC4A00"/><stop offset="0.365" stop-color="#FFA500"/><stop offset="0.441" stop-color="#F5B055"/><stop offset="0.491" stop-color="#EEC090"/><stop offset="0.586" stop-color="#D3D3D3"/><stop offset="0.699" stop-color="#C090C0"/><stop offset="0.807" stop-color="#A040A0"/><stop offset="0.920" stop-color="#5A1C90"/><stop offset="1.000" stop-color="#1A0080"/></linearGradient></defs><rect x="1211.1" y="1137.8" width="42" height="226" fill="url(#gd)"/><line x1="1211.1" y1="1177.5" x2="1219.1" y2="1177.5" stroke="#fff" stroke-width="1.2"/><line x1="1245.1" y1="1177.5" x2="1253.1" y2="1177.5" stroke="#fff" stroke-width="1.2"/><text x="1261.8" y="1186.5" font-size="26">0.5</text><line x1="1211.1" y1="1248.8" x2="1219.1" y2="1248.8" stroke="#fff" stroke-width="1.2"/><line x1="1245.1" y1="1248.8" x2="1253.1" y2="1248.8" stroke="#fff" stroke-width="1.2"/><text x="1261.8" y="1257.8" font-size="26">0</text><line x1="1211.1" y1="1320.1" x2="1219.1" y2="1320.1" stroke="#fff" stroke-width="1.2"/><line x1="1245.1" y1="1320.1" x2="1253.1" y2="1320.1" stroke="#fff" stroke-width="1.2"/><text x="1261.8" y="1329.1" font-size="26">−0.5</text><text x="1212.3" y="1119" font-size="27.2">log(FC)</text><text x="1208" y="1417" font-size="27.9">Percentage expressed</text><circle cx="1229.8" cy="1444.9" r="11.9" fill="#000"/><text x="1258.3" y="1451.9" font-size="20" textLength="42" lengthAdjust="spacingAndGlyphs">0.25</text><circle cx="1229.8" cy="1490.7" r="15" fill="#000"/><text x="1258.3" y="1497.7" font-size="20" textLength="42" lengthAdjust="spacingAndGlyphs">0.50</text><circle cx="1229.8" cy="1537.2" r="17.3" fill="#000"/><text x="1258.3" y="1544.2" font-size="20" textLength="42" lengthAdjust="spacingAndGlyphs">0.75</text><polyline points="773,1095.7 760.5,1095.7 760.5,1217.7 773,1217.7" fill="none" stroke="#555555" stroke-width="1.5"/><line x1="748.5" y1="1156.7" x2="760.5" y2="1156.7" stroke="#555555" stroke-width="1.5"/><polyline points="773,1226.6 760.5,1226.6 760.5,1383.9 773,1383.9" fill="none" stroke="#555555" stroke-width="1.5"/><line x1="748.5" y1="1305.2" x2="760.5" y2="1305.2" stroke="#555555" stroke-width="1.5"/><polyline points="773,1392.5 760.5,1392.5 760.5,1677.9 773,1677.9" fill="none" stroke="#555555" stroke-width="1.5"/><line x1="748.5" y1="1535.2" x2="760.5" y2="1535.2" stroke="#555555" stroke-width="1.5"/><polyline points="773,1690 760.5,1690 760.5,2024.5 773,2024.5" fill="none" stroke="#555555" stroke-width="1.5"/><line x1="748.5" y1="1857.2" x2="760.5" y2="1857.2" stroke="#555555" stroke-width="1.5"/><polyline points="773,2034.4 760.5,2034.4 760.5,2200.5 773,2200.5" fill="none" stroke="#555555" stroke-width="1.5"/><line x1="748.5" y1="2117.4" x2="760.5" y2="2117.4" stroke="#555555" stroke-width="1.5"/><polyline points="773,2207.2 760.5,2207.2 760.5,2239.1 773,2239.1" fill="none" stroke="#555555" stroke-width="1.5"/><line x1="748.5" y1="2223.1" x2="760.5" y2="2223.1" stroke="#555555" stroke-width="1.5"/><polyline points="773,2244.8 760.5,2244.8 760.5,2364.6 773,2364.6" fill="none" stroke="#555555" stroke-width="1.5"/><line x1="748.5" y1="2304.7" x2="760.5" y2="2304.7" stroke="#555555" stroke-width="1.5"/><polyline points="773,2377.5 760.5,2377.5 760.5,2447.5 773,2447.5" fill="none" stroke="#555555" stroke-width="1.5"/><line x1="748.5" y1="2412.5" x2="760.5" y2="2412.5" stroke="#555555" stroke-width="1.5"/><polyline points="773,2460 760.5,2460 760.5,2659 773,2659" fill="none" stroke="#555555" stroke-width="1.5"/><line x1="748.5" y1="2559.5" x2="760.5" y2="2559.5" stroke="#555555" stroke-width="1.5"/><text x="686.5" y="1218.8" font-size="22.4" text-anchor="middle" textLength="212" lengthAdjust="spacingAndGlyphs" transform="rotate(-90 686.5 1218.8)">Naive/memory subset</text><text x="735.8" y="1156.7" font-size="22.4" text-anchor="middle" transform="rotate(-90 735.8 1156.7)">T<tspan font-size="15" dy="5">naive</tspan></text><text x="735.8" y="1305.2" font-size="22.4" text-anchor="middle" transform="rotate(-90 735.8 1305.2)">T<tspan font-size="15" dy="5">EM</tspan><tspan dy="-5">/T</tspan><tspan font-size="15" dy="5">CM</tspan></text><text x="686.5" y="1535" font-size="22.4" text-anchor="middle" transform="rotate(-90 686.5 1535)">Cytotoxicity</text><text x="686.4" y="1857" font-size="22.4" text-anchor="middle" textLength="187" lengthAdjust="spacingAndGlyphs" transform="rotate(-90 686.4 1857)">Negative controller</text><text x="711.1" y="1857" font-size="22.4" text-anchor="middle" textLength="283" lengthAdjust="spacingAndGlyphs" transform="rotate(-90 711.1 1857)">T cell activation, proliferation</text><text x="736.7" y="1857" font-size="22.4" text-anchor="middle" textLength="206" lengthAdjust="spacingAndGlyphs" transform="rotate(-90 736.7 1857)">and/or differentiation</text><text x="735.8" y="2116.5" font-size="22.4" text-anchor="middle" transform="rotate(-90 735.8 2116.5)">T<tspan font-size="15" dy="5">naive</tspan></text><text x="709.3" y="2223" font-size="22.4" text-anchor="middle" transform="rotate(-90 709.3 2223)">T<tspan font-size="15" dy="5">EM</tspan><tspan dy="-5">/</tspan></text><text x="735.8" y="2222" font-size="22.4" text-anchor="middle" transform="rotate(-90 735.8 2222)">T<tspan font-size="15" dy="5">CM</tspan></text><text x="632.6" y="2223" font-size="22.4" text-anchor="middle" textLength="202" lengthAdjust="spacingAndGlyphs" transform="rotate(-90 632.6 2223)">Transcription factors</text><text x="685.9" y="2304.5" font-size="22.4" text-anchor="middle" transform="rotate(-90 685.9 2304.5)">Protect</text><text x="711.1" y="2305" font-size="22.4" text-anchor="middle" transform="rotate(-90 711.1 2305)">from</text><text x="735.8" y="2305" font-size="22.4" text-anchor="middle" transform="rotate(-90 735.8 2305)">exhaustion</text><text x="628.2" y="2412" font-size="22.4" text-anchor="middle" transform="rotate(-90 628.2 2412)">Exhaustion/</text><text x="652.9" y="2412" font-size="22.4" text-anchor="middle" transform="rotate(-90 652.9 2412)">Senescence</text><text x="652.9" y="2584" font-size="22.4" text-anchor="middle" transform="rotate(-90 652.9 2584)">TCR</text><line x1="1329.8" y1="1623.6" x2="1329.8" y2="1921.8" stroke="#333333" stroke-width="1.5"/><line x1="1329.8" y1="1921.8" x2="1554.6" y2="1921.8" stroke="#333333" stroke-width="1.5"/><line x1="1320.2" y1="1908.5" x2="1329.8" y2="1908.5" stroke="#555555" stroke-width="1.4"/><text x="1312.8" y="1916.3" font-size="22" text-anchor="end">0</text><line x1="1320.2" y1="1828.5" x2="1329.8" y2="1828.5" stroke="#555555" stroke-width="1.4"/><text x="1312.8" y="1836.3" font-size="22" text-anchor="end">1</text><line x1="1320.2" y1="1748.5" x2="1329.8" y2="1748.5" stroke="#555555" stroke-width="1.4"/><text x="1312.8" y="1756.3" font-size="22" text-anchor="end">2</text><line x1="1320.2" y1="1668.5" x2="1329.8" y2="1668.5" stroke="#555555" stroke-width="1.4"/><text x="1312.8" y="1676.3" font-size="22" text-anchor="end">3</text><line x1="1360.6" y1="1921.8" x2="1360.6" y2="1931.3" stroke="#555555" stroke-width="1.4"/><text x="1360.6" y="1958.8" font-size="26" text-anchor="middle">N</text><rect x="1340.8" y="1905.7" width="39.5" height="5.6" fill="#5FD8D4"/><line x1="1414.7" y1="1921.8" x2="1414.7" y2="1931.3" stroke="#555555" stroke-width="1.4"/><text x="1414.7" y="1958.8" font-size="26" text-anchor="middle">C</text><rect x="1395" y="1905.7" width="39.5" height="5.6" fill="#1F4A9F"/><line x1="1468.9" y1="1921.8" x2="1468.9" y2="1931.3" stroke="#555555" stroke-width="1.4"/><text x="1468.9" y="1958.8" font-size="26" text-anchor="middle">A</text><rect x="1449.2" y="1905.7" width="39.5" height="5.6" fill="#F5A81C"/><line x1="1522.5" y1="1921.8" x2="1522.5" y2="1931.3" stroke="#555555" stroke-width="1.4"/><text x="1522.5" y="1958.8" font-size="26" text-anchor="middle">OA</text><rect x="1502.8" y="1905.7" width="39.5" height="5.6" fill="#E8156B"/><circle cx="1360.1" cy="1697.5" r="2.1" fill="#5FD8D4"/><circle cx="1363.3" cy="1709.8" r="2.1" fill="#5FD8D4"/><circle cx="1360.6" cy="1723.6" r="2.1" fill="#5FD8D4"/><circle cx="1358.3" cy="1726.8" r="2.1" fill="#5FD8D4"/><circle cx="1361.5" cy="1764.9" r="2.1" fill="#5FD8D4"/><circle cx="1359.7" cy="1762.6" r="2.1" fill="#5FD8D4"/><circle cx="1360.6" cy="1769" r="2.1" fill="#5FD8D4"/><circle cx="1363.8" cy="1789.2" r="2.1" fill="#5FD8D4"/><circle cx="1362" cy="1804.8" r="2.1" fill="#5FD8D4"/><circle cx="1360.6" cy="1806.2" r="2.1" fill="#5FD8D4"/><circle cx="1360.1" cy="1831" r="2.1" fill="#5FD8D4"/><circle cx="1362" cy="1832.3" r="2.1" fill="#5FD8D4"/><circle cx="1359.7" cy="1842.9" r="2.1" fill="#5FD8D4"/><circle cx="1358.3" cy="1846.1" r="2.1" fill="#5FD8D4"/><circle cx="1362.9" cy="1852.1" r="2.1" fill="#5FD8D4"/><circle cx="1358.7" cy="1869" r="2.1" fill="#5FD8D4"/><circle cx="1360.6" cy="1875" r="2.1" fill="#5FD8D4"/><circle cx="1359.2" cy="1883.7" r="2.1" fill="#5FD8D4"/><circle cx="1412.4" cy="1816.7" r="2.1" fill="#1F4A9F"/><circle cx="1415.6" cy="1818.6" r="2.1" fill="#1F4A9F"/><circle cx="1418.4" cy="1827.8" r="2.1" fill="#1F4A9F"/><circle cx="1412" cy="1838.8" r="2.1" fill="#1F4A9F"/><circle cx="1467" cy="1777.3" r="2.1" fill="#F5A81C"/><circle cx="1466.1" cy="1803.4" r="2.1" fill="#F5A81C"/><circle cx="1465.2" cy="1829.1" r="2.1" fill="#F5A81C"/><circle cx="1471.6" cy="1848.4" r="2.1" fill="#F5A81C"/><circle cx="1465.6" cy="1893.8" r="2.1" fill="#F5A81C"/><polyline points="1360.6,1638.3 1360.6,1632.8 1414.7,1632.8 1414.7,1638.3" fill="none" stroke="#555555" stroke-width="1.3"/><text x="1387.7" y="1635.3" font-size="34" text-anchor="middle" textLength="56" lengthAdjust="spacingAndGlyphs">****</text><polyline points="1360.6,1667.2 1360.6,1661.7 1522.5,1661.7 1522.5,1667.2" fill="none" stroke="#555555" stroke-width="1.3"/><text x="1441.5" y="1668.7" font-size="34" text-anchor="middle" textLength="56" lengthAdjust="spacingAndGlyphs">****</text><polyline points="1360.6,1693.3 1360.6,1687.8 1468.9,1687.8 1468.9,1693.3" fill="none" stroke="#555555" stroke-width="1.3"/><text x="1414.8" y="1694.8" font-size="34" text-anchor="middle" textLength="56" lengthAdjust="spacingAndGlyphs">****</text><text x="1243.5" y="1769" font-size="25" text-anchor="middle" font-style="italic" transform="rotate(-90 1243.5 1769)">TOX</text><text x="1273.5" y="1769" font-size="25" text-anchor="middle" textLength="231.7" lengthAdjust="spacingAndGlyphs" transform="rotate(-90 1273.5 1769)">(log<tspan font-size="17" dy="5">10</tspan><tspan dy="-5">(expression))</tspan></text><line x1="1718.9" y1="1623.6" x2="1718.9" y2="1921.8" stroke="#333333" stroke-width="1.5"/><line x1="1718.9" y1="1921.8" x2="1943" y2="1921.8" stroke="#333333" stroke-width="1.5"/><line x1="1709.3" y1="1908.5" x2="1718.9" y2="1908.5" stroke="#555555" stroke-width="1.4"/><text x="1701.9" y="1916.3" font-size="22" text-anchor="end">0</text><line x1="1709.3" y1="1842.3" x2="1718.9" y2="1842.3" stroke="#555555" stroke-width="1.4"/><text x="1701.9" y="1850.1" font-size="22" text-anchor="end">1</text><line x1="1709.3" y1="1776.1" x2="1718.9" y2="1776.1" stroke="#555555" stroke-width="1.4"/><text x="1701.9" y="1783.9" font-size="22" text-anchor="end">2</text><line x1="1709.3" y1="1709.9" x2="1718.9" y2="1709.9" stroke="#555555" stroke-width="1.4"/><text x="1701.9" y="1717.7" font-size="22" text-anchor="end">3</text><line x1="1709.3" y1="1643.7" x2="1718.9" y2="1643.7" stroke="#555555" stroke-width="1.4"/><text x="1701.9" y="1651.5" font-size="22" text-anchor="end">4</text><line x1="1751.5" y1="1921.8" x2="1751.5" y2="1931.3" stroke="#555555" stroke-width="1.4"/><text x="1751.5" y="1958.8" font-size="26" text-anchor="middle">N</text><rect x="1731.8" y="1905.7" width="39.5" height="5.6" fill="#5FD8D4"/><line x1="1805.2" y1="1921.8" x2="1805.2" y2="1931.3" stroke="#555555" stroke-width="1.4"/><text x="1805.2" y="1958.8" font-size="26" text-anchor="middle">C</text><rect x="1785.5" y="1905.7" width="39.5" height="5.6" fill="#1F4A9F"/><line x1="1858.8" y1="1921.8" x2="1858.8" y2="1931.3" stroke="#555555" stroke-width="1.4"/><text x="1858.8" y="1958.8" font-size="26" text-anchor="middle">A</text><rect x="1839" y="1905.7" width="39.5" height="5.6" fill="#F5A81C"/><line x1="1912.5" y1="1921.8" x2="1912.5" y2="1931.3" stroke="#555555" stroke-width="1.4"/><text x="1912.5" y="1958.8" font-size="26" text-anchor="middle">OA</text><rect x="1892.8" y="1905.7" width="39.5" height="5.6" fill="#E8156B"/><circle cx="1752.9" cy="1833.3" r="2.1" fill="#5FD8D4"/><circle cx="1805.6" cy="1697.9" r="2.1" fill="#1F4A9F"/><circle cx="1802.4" cy="1717.6" r="2.1" fill="#1F4A9F"/><circle cx="1803.3" cy="1729.1" r="2.1" fill="#1F4A9F"/><circle cx="1805.6" cy="1740.6" r="2.1" fill="#1F4A9F"/><circle cx="1804.7" cy="1744.3" r="2.1" fill="#1F4A9F"/><circle cx="1807" cy="1749.8" r="2.1" fill="#1F4A9F"/><circle cx="1807.9" cy="1748.8" r="2.1" fill="#1F4A9F"/><circle cx="1802.9" cy="1758" r="2.1" fill="#1F4A9F"/><circle cx="1804.7" cy="1767.2" r="2.1" fill="#1F4A9F"/><circle cx="1801" cy="1768.1" r="2.1" fill="#1F4A9F"/><circle cx="1803.3" cy="1779.6" r="2.1" fill="#1F4A9F"/><circle cx="1805.2" cy="1781.9" r="2.1" fill="#1F4A9F"/><circle cx="1805.6" cy="1787.4" r="2.1" fill="#1F4A9F"/><circle cx="1804.2" cy="1801.1" r="2.1" fill="#1F4A9F"/><circle cx="1801.9" cy="1825.5" r="2.1" fill="#1F4A9F"/><circle cx="1803.8" cy="1828.7" r="2.1" fill="#1F4A9F"/><circle cx="1802.9" cy="1840.6" r="2.1" fill="#1F4A9F"/><circle cx="1808.4" cy="1850.7" r="2.1" fill="#1F4A9F"/><circle cx="1801" cy="1886" r="2.1" fill="#1F4A9F"/><circle cx="1805.6" cy="1892.9" r="2.1" fill="#1F4A9F"/><circle cx="1856.1" cy="1719.9" r="2.1" fill="#F5A81C"/><circle cx="1860.7" cy="1722.2" r="2.1" fill="#F5A81C"/><circle cx="1861.6" cy="1729.6" r="2.1" fill="#F5A81C"/><circle cx="1859.3" cy="1740.6" r="2.1" fill="#F5A81C"/><circle cx="1856.1" cy="1757.1" r="2.1" fill="#F5A81C"/><circle cx="1859.8" cy="1757.1" r="2.1" fill="#F5A81C"/><circle cx="1856.1" cy="1768.1" r="2.1" fill="#F5A81C"/><circle cx="1860.7" cy="1768.1" r="2.1" fill="#F5A81C"/><circle cx="1858.8" cy="1784.2" r="2.1" fill="#F5A81C"/><circle cx="1860.7" cy="1791" r="2.1" fill="#F5A81C"/><circle cx="1855.2" cy="1796.6" r="2.1" fill="#F5A81C"/><circle cx="1856.1" cy="1814" r="2.1" fill="#F5A81C"/><circle cx="1860.7" cy="1827.8" r="2.1" fill="#F5A81C"/><circle cx="1859.3" cy="1833.3" r="2.1" fill="#F5A81C"/><circle cx="1861.6" cy="1844.7" r="2.1" fill="#F5A81C"/><circle cx="1856.1" cy="1858" r="2.1" fill="#F5A81C"/><circle cx="1859.3" cy="1879.6" r="2.1" fill="#F5A81C"/><circle cx="1857.9" cy="1895.2" r="2.1" fill="#F5A81C"/><circle cx="1861.6" cy="1895.2" r="2.1" fill="#F5A81C"/><circle cx="1912.5" cy="1703" r="2.1" fill="#E8156B"/><circle cx="1912.5" cy="1711.2" r="2.1" fill="#E8156B"/><circle cx="1911.1" cy="1730" r="2.1" fill="#E8156B"/><circle cx="1911.6" cy="1737.4" r="2.1" fill="#E8156B"/><circle cx="1908.4" cy="1749.8" r="2.1" fill="#E8156B"/><circle cx="1912.1" cy="1740.6" r="2.1" fill="#E8156B"/><circle cx="1912.1" cy="1743.8" r="2.1" fill="#E8156B"/><circle cx="1913.4" cy="1745.2" r="2.1" fill="#E8156B"/><circle cx="1910.7" cy="1754.3" r="2.1" fill="#E8156B"/><circle cx="1908.8" cy="1761.2" r="2.1" fill="#E8156B"/><circle cx="1912.5" cy="1765.4" r="2.1" fill="#E8156B"/><circle cx="1910.2" cy="1778.2" r="2.1" fill="#E8156B"/><circle cx="1915.7" cy="1773.2" r="2.1" fill="#E8156B"/><circle cx="1914.4" cy="1785.1" r="2.1" fill="#E8156B"/><circle cx="1912.1" cy="1798.8" r="2.1" fill="#E8156B"/><circle cx="1912.1" cy="1818.6" r="2.1" fill="#E8156B"/><circle cx="1908.8" cy="1825.5" r="2.1" fill="#E8156B"/><circle cx="1910.2" cy="1869" r="2.1" fill="#E8156B"/><circle cx="1912.1" cy="1880.1" r="2.1" fill="#E8156B"/><circle cx="1913.9" cy="1882.8" r="2.1" fill="#E8156B"/><polyline points="1751.5,1638.3 1751.5,1632.8 1805.2,1632.8 1805.2,1638.3" fill="none" stroke="#555555" stroke-width="1.3"/><text x="1778.3" y="1635.3" font-size="34" text-anchor="middle" textLength="42" lengthAdjust="spacingAndGlyphs">***</text><polyline points="1751.5,1667.2 1751.5,1661.7 1912.5,1661.7 1912.5,1667.2" fill="none" stroke="#555555" stroke-width="1.3"/><text x="1832" y="1668.7" font-size="34" text-anchor="middle" textLength="56" lengthAdjust="spacingAndGlyphs">****</text><polyline points="1751.5,1693.3 1751.5,1687.8 1858.8,1687.8 1858.8,1693.3" fill="none" stroke="#555555" stroke-width="1.3"/><text x="1805.2" y="1694.8" font-size="34" text-anchor="middle" textLength="42" lengthAdjust="spacingAndGlyphs">***</text><text x="1626" y="1769" font-size="25" text-anchor="middle" font-style="italic" transform="rotate(-90 1626 1769)">TIGIT</text><text x="1658" y="1769" font-size="25" text-anchor="middle" textLength="231.7" lengthAdjust="spacingAndGlyphs" transform="rotate(-90 1658 1769)">(log<tspan font-size="17" dy="5">10</tspan><tspan dy="-5">(expression))</tspan></text><line x1="1329.8" y1="1997.9" x2="1329.8" y2="2296.1" stroke="#333333" stroke-width="1.5"/><line x1="1329.8" y1="2296.1" x2="1554.6" y2="2296.1" stroke="#333333" stroke-width="1.5"/><line x1="1320.2" y1="2282.8" x2="1329.8" y2="2282.8" stroke="#555555" stroke-width="1.4"/><text x="1312.8" y="2290.6" font-size="22" text-anchor="end">0</text><line x1="1320.2" y1="2185.8" x2="1329.8" y2="2185.8" stroke="#555555" stroke-width="1.4"/><text x="1312.8" y="2193.6" font-size="22" text-anchor="end">1</text><line x1="1320.2" y1="2088.8" x2="1329.8" y2="2088.8" stroke="#555555" stroke-width="1.4"/><text x="1312.8" y="2096.6" font-size="22" text-anchor="end">2</text><line x1="1360.6" y1="2296.1" x2="1360.6" y2="2305.6" stroke="#555555" stroke-width="1.4"/><text x="1360.6" y="2333.1" font-size="26" text-anchor="middle">N</text><rect x="1340.8" y="2280" width="39.5" height="5.6" fill="#5FD8D4"/><line x1="1414.7" y1="2296.1" x2="1414.7" y2="2305.6" stroke="#555555" stroke-width="1.4"/><text x="1414.7" y="2333.1" font-size="26" text-anchor="middle">C</text><rect x="1395" y="2280" width="39.5" height="5.6" fill="#1F4A9F"/><line x1="1468.9" y1="2296.1" x2="1468.9" y2="2305.6" stroke="#555555" stroke-width="1.4"/><text x="1468.9" y="2333.1" font-size="26" text-anchor="middle">A</text><rect x="1449.2" y="2280" width="39.5" height="5.6" fill="#F5A81C"/><line x1="1522.5" y1="2296.1" x2="1522.5" y2="2305.6" stroke="#555555" stroke-width="1.4"/><text x="1522.5" y="2333.1" font-size="26" text-anchor="middle">OA</text><rect x="1502.8" y="2280" width="39.5" height="5.6" fill="#E8156B"/><circle cx="1363.3" cy="2255.3" r="2.1" fill="#5FD8D4"/><circle cx="1412.4" cy="2010.7" r="2.1" fill="#1F4A9F"/><circle cx="1412" cy="2031.4" r="2.1" fill="#1F4A9F"/><circle cx="1416.6" cy="2049.3" r="2.1" fill="#1F4A9F"/><circle cx="1415.2" cy="2056.6" r="2.1" fill="#1F4A9F"/><circle cx="1413.3" cy="2061.7" r="2.1" fill="#1F4A9F"/><circle cx="1411" cy="2062.1" r="2.1" fill="#1F4A9F"/><circle cx="1416.1" cy="2116.7" r="2.1" fill="#1F4A9F"/><circle cx="1414.3" cy="2175.5" r="2.1" fill="#1F4A9F"/><circle cx="1417.5" cy="2210.3" r="2.1" fill="#1F4A9F"/><circle cx="1416.1" cy="2238.8" r="2.1" fill="#1F4A9F"/><circle cx="1417.5" cy="2251.2" r="2.1" fill="#1F4A9F"/><circle cx="1469.8" cy="2016.3" r="2.1" fill="#F5A81C"/><circle cx="1467" cy="2038.3" r="2.1" fill="#F5A81C"/><circle cx="1471.6" cy="2037.4" r="2.1" fill="#F5A81C"/><circle cx="1466.1" cy="2141.5" r="2.1" fill="#F5A81C"/><circle cx="1466.1" cy="2250.7" r="2.1" fill="#F5A81C"/><circle cx="1522.5" cy="2123.6" r="2.1" fill="#E8156B"/><circle cx="1522.5" cy="2176.4" r="2.1" fill="#E8156B"/><circle cx="1525.3" cy="2180" r="2.1" fill="#E8156B"/><text x="1243.5" y="2137" font-size="25" text-anchor="middle" font-style="italic" transform="rotate(-90 1243.5 2137)">CTLA4</text><text x="1273.5" y="2137" font-size="25" text-anchor="middle" textLength="231.7" lengthAdjust="spacingAndGlyphs" transform="rotate(-90 1273.5 2137)">(log<tspan font-size="17" dy="5">10</tspan><tspan dy="-5">(expression))</tspan></text><line x1="1718.9" y1="1997.9" x2="1718.9" y2="2296.1" stroke="#333333" stroke-width="1.5"/><line x1="1718.9" y1="2296.1" x2="1943" y2="2296.1" stroke="#333333" stroke-width="1.5"/><line x1="1709.3" y1="2282.8" x2="1718.9" y2="2282.8" stroke="#555555" stroke-width="1.4"/><text x="1701.9" y="2290.6" font-size="22" text-anchor="end">0</text><line x1="1709.3" y1="2229.1" x2="1718.9" y2="2229.1" stroke="#555555" stroke-width="1.4"/><text x="1701.9" y="2236.9" font-size="22" text-anchor="end">1</text><line x1="1709.3" y1="2175.3" x2="1718.9" y2="2175.3" stroke="#555555" stroke-width="1.4"/><text x="1701.9" y="2183.1" font-size="22" text-anchor="end">2</text><line x1="1709.3" y1="2121.6" x2="1718.9" y2="2121.6" stroke="#555555" stroke-width="1.4"/><text x="1701.9" y="2129.4" font-size="22" text-anchor="end">3</text><line x1="1709.3" y1="2067.8" x2="1718.9" y2="2067.8" stroke="#555555" stroke-width="1.4"/><text x="1701.9" y="2075.6" font-size="22" text-anchor="end">4</text><line x1="1709.3" y1="2014.1" x2="1718.9" y2="2014.1" stroke="#555555" stroke-width="1.4"/><text x="1701.9" y="2021.9" font-size="22" text-anchor="end">5</text><line x1="1751.5" y1="2296.1" x2="1751.5" y2="2305.6" stroke="#555555" stroke-width="1.4"/><text x="1751.5" y="2333.1" font-size="26" text-anchor="middle">N</text><rect x="1731.8" y="2280" width="39.5" height="5.6" fill="#5FD8D4"/><line x1="1805.2" y1="2296.1" x2="1805.2" y2="2305.6" stroke="#555555" stroke-width="1.4"/><text x="1805.2" y="2333.1" font-size="26" text-anchor="middle">C</text><rect x="1785.5" y="2280" width="39.5" height="5.6" fill="#1F4A9F"/><line x1="1858.8" y1="2296.1" x2="1858.8" y2="2305.6" stroke="#555555" stroke-width="1.4"/><text x="1858.8" y="2333.1" font-size="26" text-anchor="middle">A</text><rect x="1839" y="2280" width="39.5" height="5.6" fill="#F5A81C"/><line x1="1912.5" y1="2296.1" x2="1912.5" y2="2305.6" stroke="#555555" stroke-width="1.4"/><text x="1912.5" y="2333.1" font-size="26" text-anchor="middle">OA</text><rect x="1892.8" y="2280" width="39.5" height="5.6" fill="#E8156B"/><circle cx="1803.8" cy="2124.2" r="2.1" fill="#1F4A9F"/><circle cx="1802.4" cy="2128" r="2.1" fill="#1F4A9F"/><circle cx="1806.4" cy="2132.3" r="2.1" fill="#1F4A9F"/><circle cx="1801.8" cy="2142" r="2.1" fill="#1F4A9F"/><circle cx="1805.5" cy="2151.1" r="2.1" fill="#1F4A9F"/><circle cx="1804.1" cy="2158.1" r="2.1" fill="#1F4A9F"/><circle cx="1801.7" cy="2160.2" r="2.1" fill="#1F4A9F"/><circle cx="1805.3" cy="2164.6" r="2.1" fill="#1F4A9F"/><circle cx="1801.5" cy="2167.2" r="2.1" fill="#1F4A9F"/><circle cx="1804.7" cy="2172.6" r="2.1" fill="#1F4A9F"/><circle cx="1801.8" cy="2175.3" r="2.1" fill="#1F4A9F"/><circle cx="1801.9" cy="2180.7" r="2.1" fill="#1F4A9F"/><circle cx="1804.6" cy="2183.4" r="2.1" fill="#1F4A9F"/><circle cx="1807.8" cy="2186.1" r="2.1" fill="#1F4A9F"/><circle cx="1802.2" cy="2187.1" r="2.1" fill="#1F4A9F"/><circle cx="1803" cy="2188.7" r="2.1" fill="#1F4A9F"/><circle cx="1806.2" cy="2194.1" r="2.1" fill="#1F4A9F"/><circle cx="1808.8" cy="2199.5" r="2.1" fill="#1F4A9F"/><circle cx="1805.8" cy="2204.9" r="2.1" fill="#1F4A9F"/><circle cx="1804.4" cy="2208.6" r="2.1" fill="#1F4A9F"/><circle cx="1809" cy="2212.9" r="2.1" fill="#1F4A9F"/><circle cx="1801.6" cy="2215.6" r="2.1" fill="#1F4A9F"/><circle cx="1808.1" cy="2219.4" r="2.1" fill="#1F4A9F"/><circle cx="1803.5" cy="2223.7" r="2.1" fill="#1F4A9F"/><circle cx="1802.4" cy="2249.5" r="2.1" fill="#1F4A9F"/><circle cx="1802.1" cy="2258.6" r="2.1" fill="#1F4A9F"/><circle cx="1803.7" cy="2260.2" r="2.1" fill="#1F4A9F"/><circle cx="1807.7" cy="2261.3" r="2.1" fill="#1F4A9F"/><circle cx="1802.6" cy="2264" r="2.1" fill="#1F4A9F"/><circle cx="1805.9" cy="2265.6" r="2.1" fill="#1F4A9F"/><circle cx="1860.2" cy="2105.4" r="2.1" fill="#F5A81C"/><circle cx="1857.5" cy="2136.6" r="2.1" fill="#F5A81C"/><circle cx="1859.3" cy="2140.4" r="2.1" fill="#F5A81C"/><circle cx="1854.4" cy="2143.1" r="2.1" fill="#F5A81C"/><circle cx="1854.4" cy="2145.7" r="2.1" fill="#F5A81C"/><circle cx="1855.9" cy="2151.1" r="2.1" fill="#F5A81C"/><circle cx="1860.6" cy="2153.8" r="2.1" fill="#F5A81C"/><circle cx="1858.1" cy="2156.5" r="2.1" fill="#F5A81C"/><circle cx="1856.9" cy="2159.2" r="2.1" fill="#F5A81C"/><circle cx="1859.7" cy="2160.2" r="2.1" fill="#F5A81C"/><circle cx="1858.3" cy="2164.6" r="2.1" fill="#F5A81C"/><circle cx="1856.8" cy="2167.2" r="2.1" fill="#F5A81C"/><circle cx="1861.7" cy="2169.9" r="2.1" fill="#F5A81C"/><circle cx="1860.8" cy="2172.6" r="2.1" fill="#F5A81C"/><circle cx="1856.2" cy="2175.3" r="2.1" fill="#F5A81C"/><circle cx="1859.5" cy="2178" r="2.1" fill="#F5A81C"/><circle cx="1859.1" cy="2180.7" r="2.1" fill="#F5A81C"/><circle cx="1862.6" cy="2181.8" r="2.1" fill="#F5A81C"/><circle cx="1861.1" cy="2183.4" r="2.1" fill="#F5A81C"/><circle cx="1856.7" cy="2186.1" r="2.1" fill="#F5A81C"/><circle cx="1863.6" cy="2188.7" r="2.1" fill="#F5A81C"/><circle cx="1855" cy="2190.4" r="2.1" fill="#F5A81C"/><circle cx="1858" cy="2191.4" r="2.1" fill="#F5A81C"/><circle cx="1861.4" cy="2194.1" r="2.1" fill="#F5A81C"/><circle cx="1855.3" cy="2196.8" r="2.1" fill="#F5A81C"/><circle cx="1858.7" cy="2199.5" r="2.1" fill="#F5A81C"/><circle cx="1854.2" cy="2202.2" r="2.1" fill="#F5A81C"/><circle cx="1860.5" cy="2204.9" r="2.1" fill="#F5A81C"/><circle cx="1861.4" cy="2207.6" r="2.1" fill="#F5A81C"/><circle cx="1859.5" cy="2210.2" r="2.1" fill="#F5A81C"/><circle cx="1862.6" cy="2212.9" r="2.1" fill="#F5A81C"/><circle cx="1856.9" cy="2215.6" r="2.1" fill="#F5A81C"/><circle cx="1860.8" cy="2218.3" r="2.1" fill="#F5A81C"/><circle cx="1859.7" cy="2221" r="2.1" fill="#F5A81C"/><circle cx="1859.6" cy="2223.7" r="2.1" fill="#F5A81C"/><circle cx="1858.4" cy="2226.4" r="2.1" fill="#F5A81C"/><circle cx="1862.2" cy="2230.1" r="2.1" fill="#F5A81C"/><circle cx="1863.2" cy="2231.7" r="2.1" fill="#F5A81C"/><circle cx="1858.5" cy="2242.5" r="2.1" fill="#F5A81C"/><circle cx="1860.4" cy="2250.6" r="2.1" fill="#F5A81C"/><circle cx="1854.4" cy="2267.8" r="2.1" fill="#F5A81C"/><circle cx="1912.5" cy="2153.8" r="2.1" fill="#E8156B"/><circle cx="1912" cy="2186.1" r="2.1" fill="#E8156B"/><circle cx="1915" cy="2185" r="2.1" fill="#E8156B"/><circle cx="1912.5" cy="2243" r="2.1" fill="#E8156B"/><circle cx="1915" cy="2248.9" r="2.1" fill="#E8156B"/><polyline points="1751.5,2016.2 1751.5,2010.7 1805.2,2010.7 1805.2,2016.2" fill="none" stroke="#555555" stroke-width="1.3"/><text x="1778.3" y="2014.7" font-size="34" text-anchor="middle" textLength="56" lengthAdjust="spacingAndGlyphs">****</text><polyline points="1751.5,2037.8 1751.5,2032.3 1912.5,2032.3 1912.5,2037.8" fill="none" stroke="#555555" stroke-width="1.3"/><text x="1832" y="2039.3" font-size="34" text-anchor="middle" textLength="28" lengthAdjust="spacingAndGlyphs">**</text><polyline points="1805.2,2058.9 1805.2,2053.4 1912.5,2053.4 1912.5,2058.9" fill="none" stroke="#555555" stroke-width="1.3"/><text x="1858.8" y="2060.4" font-size="34" text-anchor="middle" textLength="28" lengthAdjust="spacingAndGlyphs">**</text><polyline points="1751.5,2082.3 1751.5,2076.8 1858.8,2076.8 1858.8,2082.3" fill="none" stroke="#555555" stroke-width="1.3"/><text x="1805.2" y="2083.8" font-size="34" text-anchor="middle" textLength="56" lengthAdjust="spacingAndGlyphs">****</text><polyline points="1858.8,2101.6 1858.8,2096.1 1912.5,2096.1 1912.5,2101.6" fill="none" stroke="#555555" stroke-width="1.3"/><text x="1885.7" y="2103.1" font-size="34" text-anchor="middle" textLength="28" lengthAdjust="spacingAndGlyphs">**</text><text x="1626" y="2137" font-size="25" text-anchor="middle" font-style="italic" transform="rotate(-90 1626 2137)">LAG3</text><text x="1658" y="2137" font-size="25" text-anchor="middle" textLength="231.7" lengthAdjust="spacingAndGlyphs" transform="rotate(-90 1658 2137)">(log<tspan font-size="17" dy="5">10</tspan><tspan dy="-5">(expression))</tspan></text><line x1="1329.8" y1="2362.4" x2="1329.8" y2="2661.5" stroke="#333333" stroke-width="1.5"/><line x1="1329.8" y1="2661.5" x2="1554.6" y2="2661.5" stroke="#333333" stroke-width="1.5"/><line x1="1320.2" y1="2648.2" x2="1329.8" y2="2648.2" stroke="#555555" stroke-width="1.4"/><text x="1312.8" y="2656" font-size="22" text-anchor="end">0</text><line x1="1320.2" y1="2542.5" x2="1329.8" y2="2542.5" stroke="#555555" stroke-width="1.4"/><text x="1312.8" y="2550.3" font-size="22" text-anchor="end">1</text><line x1="1320.2" y1="2436.8" x2="1329.8" y2="2436.8" stroke="#555555" stroke-width="1.4"/><text x="1312.8" y="2444.6" font-size="22" text-anchor="end">2</text><line x1="1360.6" y1="2661.5" x2="1360.6" y2="2671" stroke="#555555" stroke-width="1.4"/><text x="1360.6" y="2698.5" font-size="26" text-anchor="middle">N</text><rect x="1340.8" y="2645.4" width="39.5" height="5.6" fill="#5FD8D4"/><line x1="1414.7" y1="2661.5" x2="1414.7" y2="2671" stroke="#555555" stroke-width="1.4"/><text x="1414.7" y="2698.5" font-size="26" text-anchor="middle">C</text><rect x="1395" y="2645.4" width="39.5" height="5.6" fill="#1F4A9F"/><line x1="1468.9" y1="2661.5" x2="1468.9" y2="2671" stroke="#555555" stroke-width="1.4"/><text x="1468.9" y="2698.5" font-size="26" text-anchor="middle">A</text><rect x="1449.2" y="2645.4" width="39.5" height="5.6" fill="#F5A81C"/><line x1="1522.5" y1="2661.5" x2="1522.5" y2="2671" stroke="#555555" stroke-width="1.4"/><text x="1522.5" y="2698.5" font-size="26" text-anchor="middle">OA</text><rect x="1502.8" y="2645.4" width="39.5" height="5.6" fill="#E8156B"/><circle cx="1415.6" cy="2375.7" r="2.1" fill="#1F4A9F"/><circle cx="1472.5" cy="2413.8" r="2.1" fill="#F5A81C"/><circle cx="1468.4" cy="2427.1" r="2.1" fill="#F5A81C"/><circle cx="1467.5" cy="2427.5" r="2.1" fill="#F5A81C"/><circle cx="1467.5" cy="2438.1" r="2.1" fill="#F5A81C"/><circle cx="1467.5" cy="2447.7" r="2.1" fill="#F5A81C"/><circle cx="1469.8" cy="2473.4" r="2.1" fill="#F5A81C"/><circle cx="1473.4" cy="2555.1" r="2.1" fill="#F5A81C"/><circle cx="1466.6" cy="2590.4" r="2.1" fill="#F5A81C"/><circle cx="1470.7" cy="2620.2" r="2.1" fill="#F5A81C"/><circle cx="1520.2" cy="2427.1" r="2.1" fill="#E8156B"/><text x="1243.5" y="2529" font-size="25" text-anchor="middle" font-style="italic" transform="rotate(-90 1243.5 2529)">PDCD1</text><text x="1273.5" y="2529" font-size="25" text-anchor="middle" textLength="231.7" lengthAdjust="spacingAndGlyphs" transform="rotate(-90 1273.5 2529)">(log<tspan font-size="17" dy="5">10</tspan><tspan dy="-5">(expression))</tspan></text><line x1="1718.9" y1="2362.4" x2="1718.9" y2="2661.5" stroke="#333333" stroke-width="1.5"/><line x1="1718.9" y1="2661.5" x2="1943" y2="2661.5" stroke="#333333" stroke-width="1.5"/><line x1="1709.3" y1="2648.2" x2="1718.9" y2="2648.2" stroke="#555555" stroke-width="1.4"/><text x="1701.9" y="2656" font-size="22" text-anchor="end">0</text><line x1="1709.3" y1="2569.4" x2="1718.9" y2="2569.4" stroke="#555555" stroke-width="1.4"/><text x="1701.9" y="2577.2" font-size="22" text-anchor="end">0.5</text><line x1="1709.3" y1="2490.7" x2="1718.9" y2="2490.7" stroke="#555555" stroke-width="1.4"/><text x="1701.9" y="2498.5" font-size="22" text-anchor="end">1.0</text><line x1="1709.3" y1="2411.9" x2="1718.9" y2="2411.9" stroke="#555555" stroke-width="1.4"/><text x="1701.9" y="2419.8" font-size="22" text-anchor="end">1.5</text><line x1="1751.5" y1="2661.5" x2="1751.5" y2="2671" stroke="#555555" stroke-width="1.4"/><text x="1751.5" y="2698.5" font-size="26" text-anchor="middle">N</text><rect x="1731.8" y="2645.4" width="39.5" height="5.6" fill="#5FD8D4"/><line x1="1805.2" y1="2661.5" x2="1805.2" y2="2671" stroke="#555555" stroke-width="1.4"/><text x="1805.2" y="2698.5" font-size="26" text-anchor="middle">C</text><rect x="1785.5" y="2645.4" width="39.5" height="5.6" fill="#1F4A9F"/><line x1="1858.8" y1="2661.5" x2="1858.8" y2="2671" stroke="#555555" stroke-width="1.4"/><text x="1858.8" y="2698.5" font-size="26" text-anchor="middle">A</text><rect x="1839" y="2645.4" width="39.5" height="5.6" fill="#F5A81C"/><line x1="1912.5" y1="2661.5" x2="1912.5" y2="2671" stroke="#555555" stroke-width="1.4"/><text x="1912.5" y="2698.5" font-size="26" text-anchor="middle">OA</text><rect x="1892.8" y="2645.4" width="39.5" height="5.6" fill="#E8156B"/><circle cx="1858.8" cy="2375.7" r="2.1" fill="#F5A81C"/><text x="1606" y="2529" font-size="25" text-anchor="middle" font-style="italic" transform="rotate(-90 1606 2529)">B3GAT1</text><text x="1638" y="2529" font-size="25" text-anchor="middle" textLength="231.7" lengthAdjust="spacingAndGlyphs" transform="rotate(-90 1638 2529)">(log<tspan font-size="17" dy="5">10</tspan><tspan dy="-5">(expression))</tspan></text></svg></body></html>
